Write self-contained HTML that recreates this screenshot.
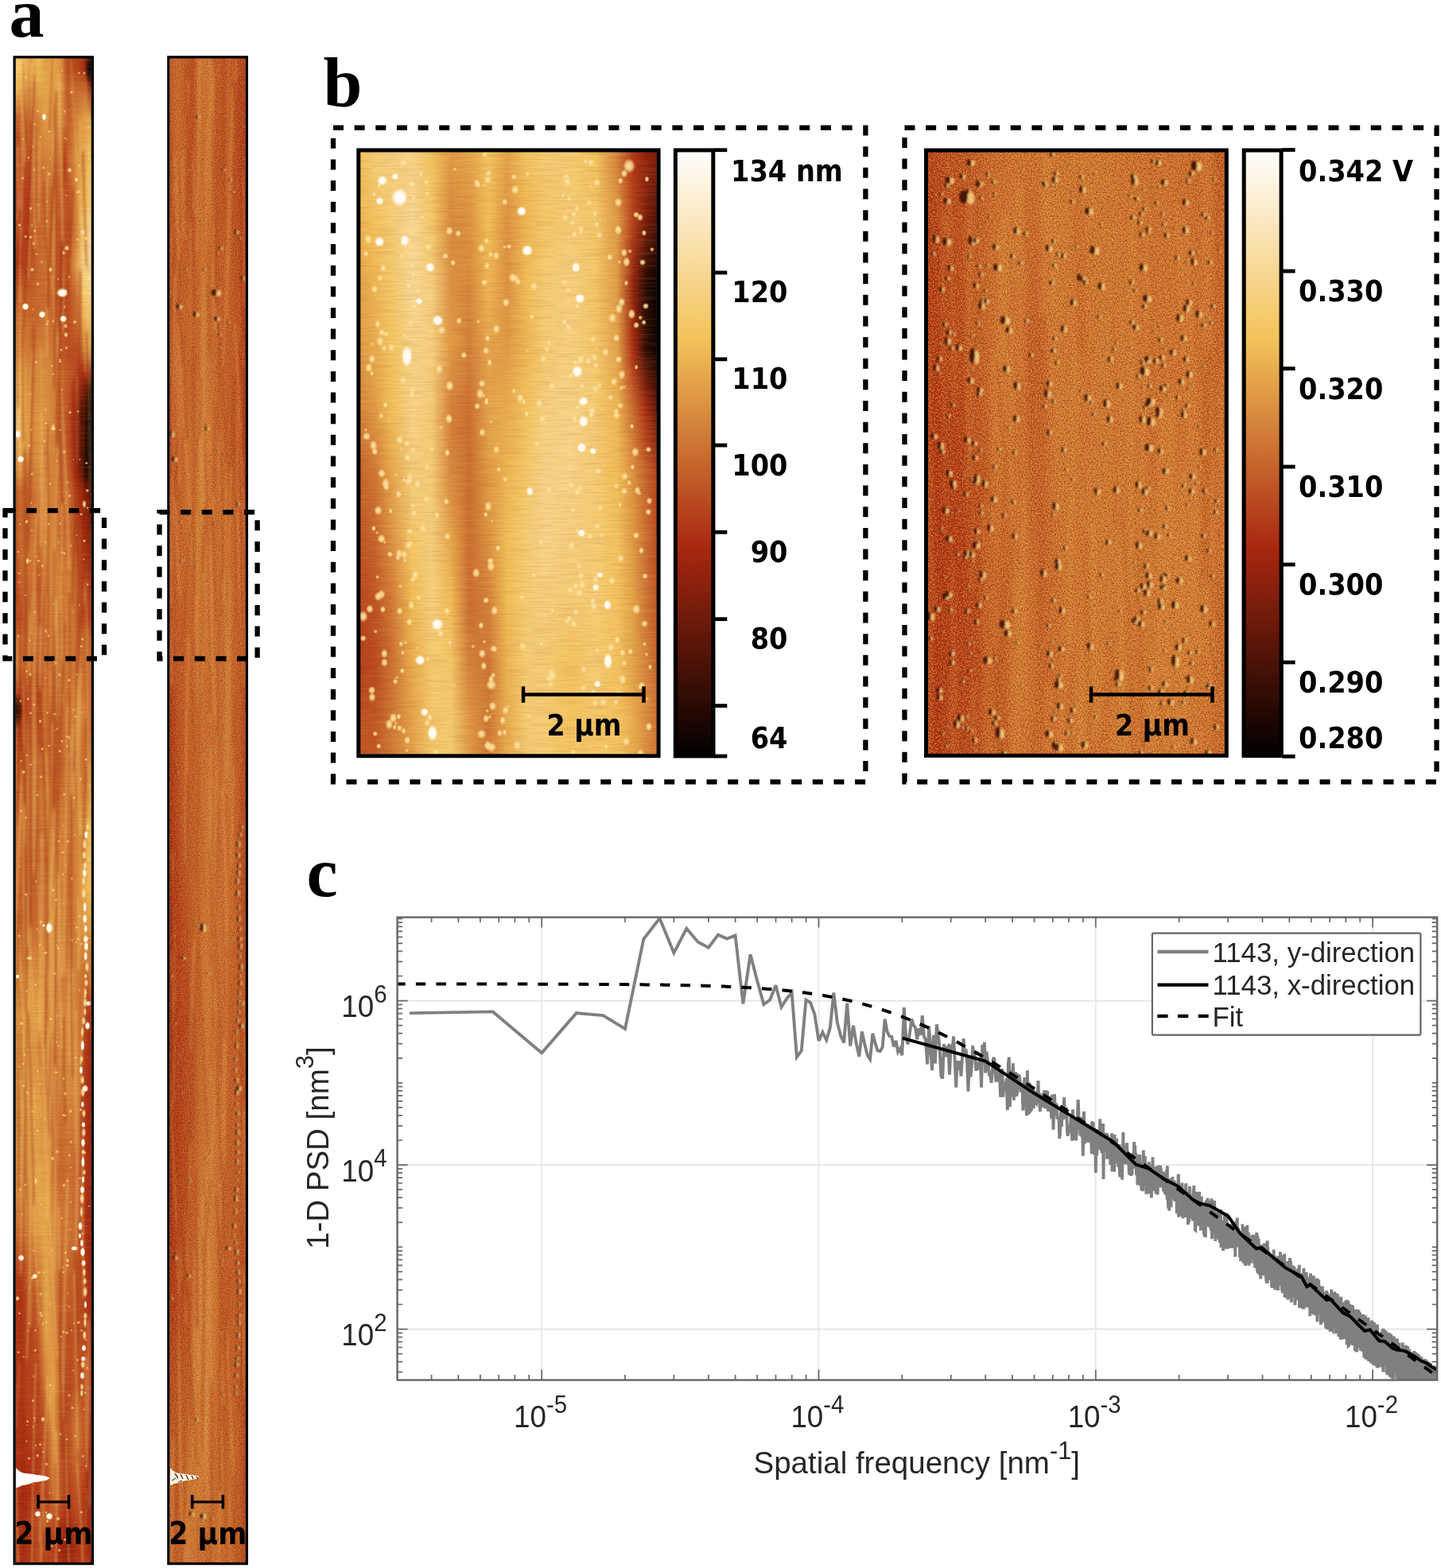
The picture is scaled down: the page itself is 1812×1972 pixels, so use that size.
<!DOCTYPE html>
<html><head><meta charset="utf-8"><title>Figure</title>
<style>
html,body{margin:0;padding:0;background:#fff;}
svg{display:block;}
.pl{font-family:"Liberation Serif",serif;font-weight:bold;font-size:88px;fill:#000;}
.bs{font-family:"DejaVu Sans",sans-serif;font-weight:bold;fill:#000;}
.bc{font-family:"DejaVu Sans Condensed","DejaVu Sans",sans-serif;font-weight:bold;fill:#000;}
.ax{font-family:"Liberation Sans",sans-serif;fill:#262626;}
</style></head><body>
<svg width="1812" height="1972" viewBox="0 0 1812 1972">
<defs>
<linearGradient id="vfg" x1="0" y1="0" x2="0" y2="1"><stop offset="0" stop-color="#fff" stop-opacity="0"/><stop offset="1" stop-color="#fff" stop-opacity="1"/></linearGradient>
<mask id="vf" maskContentUnits="objectBoundingBox" x="0" y="0" width="1" height="1"><rect width="1" height="1" fill="url(#vfg)"/></mask>
<linearGradient id="sa0" gradientUnits="userSpaceOnUse" x1="19.8" y1="0" x2="114.7" y2="0"><stop offset="0.000" stop-color="#f5ce7a"/><stop offset="0.100" stop-color="#f4c561"/><stop offset="0.200" stop-color="#e19e48"/><stop offset="0.300" stop-color="#f1be57"/><stop offset="0.400" stop-color="#e19e48"/><stop offset="0.500" stop-color="#e6a84d"/><stop offset="0.600" stop-color="#dc9343"/><stop offset="0.680" stop-color="#ba4d21"/><stop offset="0.750" stop-color="#ba4d21"/><stop offset="0.850" stop-color="#b23c1a"/><stop offset="0.930" stop-color="#92230e"/><stop offset="1.000" stop-color="#180602"/></linearGradient>
<linearGradient id="sa1" gradientUnits="userSpaceOnUse" x1="19.8" y1="0" x2="114.7" y2="0"><stop offset="0.000" stop-color="#f5ce7a"/><stop offset="0.100" stop-color="#f4c561"/><stop offset="0.200" stop-color="#e19e48"/><stop offset="0.300" stop-color="#f1be57"/><stop offset="0.400" stop-color="#e19e48"/><stop offset="0.500" stop-color="#e6a84d"/><stop offset="0.600" stop-color="#dc9343"/><stop offset="0.680" stop-color="#ba4d21"/><stop offset="0.750" stop-color="#ba4d21"/><stop offset="0.850" stop-color="#b23c1a"/><stop offset="0.930" stop-color="#92230e"/><stop offset="1.000" stop-color="#180602"/></linearGradient>
<linearGradient id="sa2" gradientUnits="userSpaceOnUse" x1="19.8" y1="0" x2="114.7" y2="0"><stop offset="0.000" stop-color="#f1be57"/><stop offset="0.100" stop-color="#e6a84d"/><stop offset="0.200" stop-color="#d4833b"/><stop offset="0.300" stop-color="#e6a84d"/><stop offset="0.400" stop-color="#e6a84d"/><stop offset="0.500" stop-color="#e19e48"/><stop offset="0.600" stop-color="#e19e48"/><stop offset="0.680" stop-color="#bf5726"/><stop offset="0.750" stop-color="#c7682e"/><stop offset="0.850" stop-color="#c7682e"/><stop offset="0.930" stop-color="#c7682e"/><stop offset="1.000" stop-color="#92230e"/></linearGradient>
<linearGradient id="sa3" gradientUnits="userSpaceOnUse" x1="19.8" y1="0" x2="114.7" y2="0"><stop offset="0.000" stop-color="#c25d29"/><stop offset="0.100" stop-color="#c7682e"/><stop offset="0.200" stop-color="#c7682e"/><stop offset="0.300" stop-color="#d4833b"/><stop offset="0.400" stop-color="#e19e48"/><stop offset="0.500" stop-color="#d98d40"/><stop offset="0.600" stop-color="#dc9343"/><stop offset="0.700" stop-color="#c25d29"/><stop offset="0.800" stop-color="#d4833b"/><stop offset="0.900" stop-color="#e19e48"/><stop offset="1.000" stop-color="#e6a84d"/></linearGradient>
<linearGradient id="sa4" gradientUnits="userSpaceOnUse" x1="19.8" y1="0" x2="114.7" y2="0"><stop offset="0.000" stop-color="#b23c1a"/><stop offset="0.100" stop-color="#ba4d21"/><stop offset="0.200" stop-color="#bc5224"/><stop offset="0.300" stop-color="#cc7233"/><stop offset="0.400" stop-color="#d4833b"/><stop offset="0.500" stop-color="#d4833b"/><stop offset="0.600" stop-color="#c7682e"/><stop offset="0.650" stop-color="#b23c1a"/><stop offset="0.700" stop-color="#c7682e"/><stop offset="0.800" stop-color="#dc9343"/><stop offset="0.900" stop-color="#e6a84d"/><stop offset="1.000" stop-color="#f4c561"/></linearGradient>
<linearGradient id="sa5" gradientUnits="userSpaceOnUse" x1="19.8" y1="0" x2="114.7" y2="0"><stop offset="0.000" stop-color="#ad3215"/><stop offset="0.100" stop-color="#b23c1a"/><stop offset="0.200" stop-color="#b23c1a"/><stop offset="0.300" stop-color="#c25d29"/><stop offset="0.400" stop-color="#c7682e"/><stop offset="0.500" stop-color="#c7682e"/><stop offset="0.600" stop-color="#c25d29"/><stop offset="0.700" stop-color="#ba4d21"/><stop offset="0.800" stop-color="#d4833b"/><stop offset="0.900" stop-color="#f1be57"/><stop offset="1.000" stop-color="#f5ce7a"/></linearGradient>
<linearGradient id="sa6" gradientUnits="userSpaceOnUse" x1="19.8" y1="0" x2="114.7" y2="0"><stop offset="0.000" stop-color="#ba4d21"/><stop offset="0.100" stop-color="#b23c1a"/><stop offset="0.200" stop-color="#b23c1a"/><stop offset="0.300" stop-color="#c7682e"/><stop offset="0.400" stop-color="#c7682e"/><stop offset="0.500" stop-color="#c7682e"/><stop offset="0.600" stop-color="#ba4d21"/><stop offset="0.700" stop-color="#ba4d21"/><stop offset="0.800" stop-color="#d4833b"/><stop offset="0.900" stop-color="#f5ce7a"/><stop offset="1.000" stop-color="#f8dca1"/></linearGradient>
<linearGradient id="sa7" gradientUnits="userSpaceOnUse" x1="19.8" y1="0" x2="114.7" y2="0"><stop offset="0.000" stop-color="#b23c1a"/><stop offset="0.100" stop-color="#b23c1a"/><stop offset="0.200" stop-color="#ba4d21"/><stop offset="0.300" stop-color="#c7682e"/><stop offset="0.400" stop-color="#cc7233"/><stop offset="0.500" stop-color="#c7682e"/><stop offset="0.600" stop-color="#ba4d21"/><stop offset="0.700" stop-color="#c25d29"/><stop offset="0.800" stop-color="#e19e48"/><stop offset="0.900" stop-color="#f7d58d"/><stop offset="1.000" stop-color="#f8dca1"/></linearGradient>
<linearGradient id="sa8" gradientUnits="userSpaceOnUse" x1="19.8" y1="0" x2="114.7" y2="0"><stop offset="0.000" stop-color="#c25d29"/><stop offset="0.100" stop-color="#c25d29"/><stop offset="0.200" stop-color="#c25d29"/><stop offset="0.300" stop-color="#c7682e"/><stop offset="0.400" stop-color="#c7682e"/><stop offset="0.500" stop-color="#c25d29"/><stop offset="0.600" stop-color="#ba4d21"/><stop offset="0.700" stop-color="#ba4d21"/><stop offset="0.800" stop-color="#cc7233"/><stop offset="0.900" stop-color="#f4ca6e"/><stop offset="1.000" stop-color="#f7d58d"/></linearGradient>
<linearGradient id="sa9" gradientUnits="userSpaceOnUse" x1="19.8" y1="0" x2="114.7" y2="0"><stop offset="0.000" stop-color="#dc9343"/><stop offset="0.100" stop-color="#cc7233"/><stop offset="0.200" stop-color="#c7682e"/><stop offset="0.300" stop-color="#c7682e"/><stop offset="0.400" stop-color="#cc7233"/><stop offset="0.500" stop-color="#c7682e"/><stop offset="0.600" stop-color="#ba4d21"/><stop offset="0.700" stop-color="#ba4d21"/><stop offset="0.800" stop-color="#c7682e"/><stop offset="0.900" stop-color="#e6a84d"/><stop offset="1.000" stop-color="#f4ca6e"/></linearGradient>
<linearGradient id="sa10" gradientUnits="userSpaceOnUse" x1="19.8" y1="0" x2="114.7" y2="0"><stop offset="0.000" stop-color="#e6a84d"/><stop offset="0.100" stop-color="#d4833b"/><stop offset="0.200" stop-color="#cc7233"/><stop offset="0.300" stop-color="#d4833b"/><stop offset="0.400" stop-color="#d4833b"/><stop offset="0.500" stop-color="#cc7233"/><stop offset="0.600" stop-color="#c25d29"/><stop offset="0.700" stop-color="#ba4d21"/><stop offset="0.800" stop-color="#ba4d21"/><stop offset="0.900" stop-color="#cc7233"/><stop offset="1.000" stop-color="#e19e48"/></linearGradient>
<linearGradient id="sa11" gradientUnits="userSpaceOnUse" x1="19.8" y1="0" x2="114.7" y2="0"><stop offset="0.000" stop-color="#f4c561"/><stop offset="0.100" stop-color="#e19e48"/><stop offset="0.200" stop-color="#d4833b"/><stop offset="0.300" stop-color="#d98d40"/><stop offset="0.400" stop-color="#d98d40"/><stop offset="0.500" stop-color="#d4833b"/><stop offset="0.600" stop-color="#c7682e"/><stop offset="0.700" stop-color="#bf5726"/><stop offset="0.800" stop-color="#b7471f"/><stop offset="0.900" stop-color="#a72810"/><stop offset="1.000" stop-color="#92230e"/></linearGradient>
<linearGradient id="sa12" gradientUnits="userSpaceOnUse" x1="19.8" y1="0" x2="114.7" y2="0"><stop offset="0.000" stop-color="#f5ce7a"/><stop offset="0.100" stop-color="#e6a84d"/><stop offset="0.200" stop-color="#d7883d"/><stop offset="0.300" stop-color="#d98d40"/><stop offset="0.400" stop-color="#d98d40"/><stop offset="0.500" stop-color="#d4833b"/><stop offset="0.600" stop-color="#c7682e"/><stop offset="0.700" stop-color="#bc5224"/><stop offset="0.800" stop-color="#ad3215"/><stop offset="0.880" stop-color="#7a1d0c"/><stop offset="0.940" stop-color="#310c05"/><stop offset="1.000" stop-color="#0f0301"/></linearGradient>
<linearGradient id="sa13" gradientUnits="userSpaceOnUse" x1="19.8" y1="0" x2="114.7" y2="0"><stop offset="0.000" stop-color="#f6d387"/><stop offset="0.100" stop-color="#e6a84d"/><stop offset="0.200" stop-color="#d98d40"/><stop offset="0.300" stop-color="#dc9343"/><stop offset="0.400" stop-color="#dc9343"/><stop offset="0.500" stop-color="#d4833b"/><stop offset="0.600" stop-color="#c7682e"/><stop offset="0.700" stop-color="#ba4d21"/><stop offset="0.800" stop-color="#9b250f"/><stop offset="0.880" stop-color="#3a0e06"/><stop offset="0.940" stop-color="#0f0301"/><stop offset="1.000" stop-color="#000000"/></linearGradient>
<linearGradient id="sa14" gradientUnits="userSpaceOnUse" x1="19.8" y1="0" x2="114.7" y2="0"><stop offset="0.000" stop-color="#f7d894"/><stop offset="0.100" stop-color="#e6a84d"/><stop offset="0.200" stop-color="#d98d40"/><stop offset="0.300" stop-color="#dc9343"/><stop offset="0.400" stop-color="#dc9343"/><stop offset="0.500" stop-color="#d4833b"/><stop offset="0.600" stop-color="#c7682e"/><stop offset="0.700" stop-color="#ba4d21"/><stop offset="0.800" stop-color="#9b250f"/><stop offset="0.880" stop-color="#491107"/><stop offset="0.940" stop-color="#130502"/><stop offset="1.000" stop-color="#000000"/></linearGradient>
<linearGradient id="sa15" gradientUnits="userSpaceOnUse" x1="19.8" y1="0" x2="114.7" y2="0"><stop offset="0.000" stop-color="#f5ce7a"/><stop offset="0.100" stop-color="#e19e48"/><stop offset="0.200" stop-color="#d4833b"/><stop offset="0.300" stop-color="#dc9343"/><stop offset="0.400" stop-color="#d4833b"/><stop offset="0.500" stop-color="#d4833b"/><stop offset="0.600" stop-color="#c7682e"/><stop offset="0.700" stop-color="#ba4d21"/><stop offset="0.800" stop-color="#95240e"/><stop offset="0.880" stop-color="#310c05"/><stop offset="0.940" stop-color="#0a0201"/><stop offset="1.000" stop-color="#000000"/></linearGradient>
<linearGradient id="sa16" gradientUnits="userSpaceOnUse" x1="19.8" y1="0" x2="114.7" y2="0"><stop offset="0.000" stop-color="#e6a84d"/><stop offset="0.100" stop-color="#d4833b"/><stop offset="0.200" stop-color="#cc7233"/><stop offset="0.300" stop-color="#d98d40"/><stop offset="0.400" stop-color="#d4833b"/><stop offset="0.500" stop-color="#d4833b"/><stop offset="0.600" stop-color="#cc7233"/><stop offset="0.700" stop-color="#c25d29"/><stop offset="0.800" stop-color="#a72810"/><stop offset="0.880" stop-color="#491107"/><stop offset="0.940" stop-color="#180602"/><stop offset="1.000" stop-color="#0a0201"/></linearGradient>
<linearGradient id="sa17" gradientUnits="userSpaceOnUse" x1="19.8" y1="0" x2="114.7" y2="0"><stop offset="0.000" stop-color="#c7682e"/><stop offset="0.100" stop-color="#c7682e"/><stop offset="0.200" stop-color="#c7682e"/><stop offset="0.300" stop-color="#d4833b"/><stop offset="0.400" stop-color="#d4833b"/><stop offset="0.500" stop-color="#d4833b"/><stop offset="0.600" stop-color="#cc7233"/><stop offset="0.700" stop-color="#c7682e"/><stop offset="0.800" stop-color="#b7471f"/><stop offset="0.900" stop-color="#92230e"/><stop offset="1.000" stop-color="#491107"/></linearGradient>
<linearGradient id="sa18" gradientUnits="userSpaceOnUse" x1="19.8" y1="0" x2="114.7" y2="0"><stop offset="0.000" stop-color="#c7682e"/><stop offset="0.100" stop-color="#c7682e"/><stop offset="0.200" stop-color="#cc7233"/><stop offset="0.300" stop-color="#cc7233"/><stop offset="0.400" stop-color="#d4833b"/><stop offset="0.500" stop-color="#d4833b"/><stop offset="0.600" stop-color="#c7682e"/><stop offset="0.700" stop-color="#c7682e"/><stop offset="0.800" stop-color="#ba4d21"/><stop offset="0.900" stop-color="#9b250f"/><stop offset="1.000" stop-color="#6b1a0a"/></linearGradient>
<linearGradient id="sa19" gradientUnits="userSpaceOnUse" x1="19.8" y1="0" x2="114.7" y2="0"><stop offset="0.000" stop-color="#c25d29"/><stop offset="0.100" stop-color="#cc7233"/><stop offset="0.200" stop-color="#cf7836"/><stop offset="0.300" stop-color="#c7682e"/><stop offset="0.400" stop-color="#d4833b"/><stop offset="0.500" stop-color="#d98d40"/><stop offset="0.600" stop-color="#cc7233"/><stop offset="0.700" stop-color="#cc7233"/><stop offset="0.800" stop-color="#c25d29"/><stop offset="0.900" stop-color="#b23c1a"/><stop offset="1.000" stop-color="#95240e"/></linearGradient>
<linearGradient id="sa20" gradientUnits="userSpaceOnUse" x1="19.8" y1="0" x2="114.7" y2="0"><stop offset="0.000" stop-color="#ba4d21"/><stop offset="0.100" stop-color="#c7682e"/><stop offset="0.200" stop-color="#c7682e"/><stop offset="0.300" stop-color="#bc5224"/><stop offset="0.400" stop-color="#cc7233"/><stop offset="0.500" stop-color="#dc9343"/><stop offset="0.600" stop-color="#cc7233"/><stop offset="0.700" stop-color="#d4833b"/><stop offset="0.800" stop-color="#c7682e"/><stop offset="0.900" stop-color="#ba4d21"/><stop offset="1.000" stop-color="#b23c1a"/></linearGradient>
<linearGradient id="sa21" gradientUnits="userSpaceOnUse" x1="19.8" y1="0" x2="114.7" y2="0"><stop offset="0.000" stop-color="#ba4d21"/><stop offset="0.100" stop-color="#c25d29"/><stop offset="0.200" stop-color="#c7682e"/><stop offset="0.300" stop-color="#bf5726"/><stop offset="0.400" stop-color="#c7682e"/><stop offset="0.500" stop-color="#d98d40"/><stop offset="0.600" stop-color="#cc7233"/><stop offset="0.700" stop-color="#d4833b"/><stop offset="0.800" stop-color="#c7682e"/><stop offset="0.900" stop-color="#ba4d21"/><stop offset="1.000" stop-color="#b23c1a"/></linearGradient>
<linearGradient id="sa22" gradientUnits="userSpaceOnUse" x1="19.8" y1="0" x2="114.7" y2="0"><stop offset="0.000" stop-color="#c7682e"/><stop offset="0.100" stop-color="#c7682e"/><stop offset="0.200" stop-color="#cc7233"/><stop offset="0.300" stop-color="#c7682e"/><stop offset="0.400" stop-color="#c7682e"/><stop offset="0.500" stop-color="#d98d40"/><stop offset="0.600" stop-color="#cc7233"/><stop offset="0.700" stop-color="#d4833b"/><stop offset="0.800" stop-color="#cc7233"/><stop offset="0.900" stop-color="#c7682e"/><stop offset="1.000" stop-color="#c25d29"/></linearGradient>
<linearGradient id="sa23" gradientUnits="userSpaceOnUse" x1="19.8" y1="0" x2="114.7" y2="0"><stop offset="0.000" stop-color="#c25d29"/><stop offset="0.100" stop-color="#c7682e"/><stop offset="0.150" stop-color="#d4833b"/><stop offset="0.200" stop-color="#c7682e"/><stop offset="0.300" stop-color="#c25d29"/><stop offset="0.400" stop-color="#c7682e"/><stop offset="0.500" stop-color="#d4833b"/><stop offset="0.600" stop-color="#c7682e"/><stop offset="0.700" stop-color="#d4833b"/><stop offset="0.800" stop-color="#cc7233"/><stop offset="0.900" stop-color="#c7682e"/><stop offset="1.000" stop-color="#c7682e"/></linearGradient>
<linearGradient id="sa24" gradientUnits="userSpaceOnUse" x1="19.8" y1="0" x2="114.7" y2="0"><stop offset="0.000" stop-color="#a72810"/><stop offset="0.100" stop-color="#ba4d21"/><stop offset="0.200" stop-color="#c25d29"/><stop offset="0.300" stop-color="#bc5224"/><stop offset="0.400" stop-color="#c7682e"/><stop offset="0.500" stop-color="#cc7233"/><stop offset="0.600" stop-color="#c7682e"/><stop offset="0.700" stop-color="#cf7836"/><stop offset="0.800" stop-color="#d4833b"/><stop offset="0.900" stop-color="#cc7233"/><stop offset="1.000" stop-color="#c7682e"/></linearGradient>
<linearGradient id="sa25" gradientUnits="userSpaceOnUse" x1="19.8" y1="0" x2="114.7" y2="0"><stop offset="0.000" stop-color="#6b1a0a"/><stop offset="0.050" stop-color="#92230e"/><stop offset="0.100" stop-color="#b23c1a"/><stop offset="0.200" stop-color="#bc5224"/><stop offset="0.300" stop-color="#bc5224"/><stop offset="0.400" stop-color="#c7682e"/><stop offset="0.500" stop-color="#cc7233"/><stop offset="0.600" stop-color="#c7682e"/><stop offset="0.700" stop-color="#cf7836"/><stop offset="0.800" stop-color="#dc9343"/><stop offset="0.900" stop-color="#d4833b"/><stop offset="1.000" stop-color="#c7682e"/></linearGradient>
<linearGradient id="sa26" gradientUnits="userSpaceOnUse" x1="19.8" y1="0" x2="114.7" y2="0"><stop offset="0.000" stop-color="#95240e"/><stop offset="0.100" stop-color="#ba4d21"/><stop offset="0.200" stop-color="#c25d29"/><stop offset="0.300" stop-color="#bf5726"/><stop offset="0.400" stop-color="#c7682e"/><stop offset="0.500" stop-color="#c7682e"/><stop offset="0.600" stop-color="#c7682e"/><stop offset="0.700" stop-color="#cc7233"/><stop offset="0.800" stop-color="#d98d40"/><stop offset="0.900" stop-color="#cc7233"/><stop offset="1.000" stop-color="#c7682e"/></linearGradient>
<linearGradient id="sa27" gradientUnits="userSpaceOnUse" x1="19.8" y1="0" x2="114.7" y2="0"><stop offset="0.000" stop-color="#ba4d21"/><stop offset="0.100" stop-color="#c25d29"/><stop offset="0.200" stop-color="#cc7233"/><stop offset="0.300" stop-color="#c7682e"/><stop offset="0.400" stop-color="#cc7233"/><stop offset="0.500" stop-color="#c7682e"/><stop offset="0.600" stop-color="#c7682e"/><stop offset="0.700" stop-color="#c7682e"/><stop offset="0.800" stop-color="#cf7836"/><stop offset="0.900" stop-color="#cc7233"/><stop offset="1.000" stop-color="#d4833b"/></linearGradient>
<linearGradient id="sa28" gradientUnits="userSpaceOnUse" x1="19.8" y1="0" x2="114.7" y2="0"><stop offset="0.000" stop-color="#bf5726"/><stop offset="0.100" stop-color="#c7682e"/><stop offset="0.200" stop-color="#cf7836"/><stop offset="0.300" stop-color="#cc7233"/><stop offset="0.400" stop-color="#d4833b"/><stop offset="0.500" stop-color="#c7682e"/><stop offset="0.600" stop-color="#cc7233"/><stop offset="0.700" stop-color="#c7682e"/><stop offset="0.800" stop-color="#cf7836"/><stop offset="0.900" stop-color="#d4833b"/><stop offset="1.000" stop-color="#e19e48"/></linearGradient>
<linearGradient id="sa29" gradientUnits="userSpaceOnUse" x1="19.8" y1="0" x2="114.7" y2="0"><stop offset="0.000" stop-color="#cc7233"/><stop offset="0.100" stop-color="#cc7233"/><stop offset="0.200" stop-color="#cc7233"/><stop offset="0.300" stop-color="#c7682e"/><stop offset="0.400" stop-color="#d4833b"/><stop offset="0.500" stop-color="#d4833b"/><stop offset="0.600" stop-color="#d4833b"/><stop offset="0.700" stop-color="#cc7233"/><stop offset="0.800" stop-color="#d4833b"/><stop offset="0.900" stop-color="#e19e48"/><stop offset="1.000" stop-color="#f4c561"/></linearGradient>
<linearGradient id="sa30" gradientUnits="userSpaceOnUse" x1="19.8" y1="0" x2="114.7" y2="0"><stop offset="0.000" stop-color="#c7682e"/><stop offset="0.100" stop-color="#c7682e"/><stop offset="0.200" stop-color="#c7682e"/><stop offset="0.300" stop-color="#bf5726"/><stop offset="0.400" stop-color="#cf7836"/><stop offset="0.500" stop-color="#d98d40"/><stop offset="0.600" stop-color="#d4833b"/><stop offset="0.700" stop-color="#c7682e"/><stop offset="0.800" stop-color="#d4833b"/><stop offset="0.900" stop-color="#e6a84d"/><stop offset="1.000" stop-color="#f4ca6e"/></linearGradient>
<linearGradient id="sa31" gradientUnits="userSpaceOnUse" x1="19.8" y1="0" x2="114.7" y2="0"><stop offset="0.000" stop-color="#c7682e"/><stop offset="0.100" stop-color="#c7682e"/><stop offset="0.200" stop-color="#c7682e"/><stop offset="0.300" stop-color="#c25d29"/><stop offset="0.400" stop-color="#d4833b"/><stop offset="0.500" stop-color="#e19e48"/><stop offset="0.600" stop-color="#d4833b"/><stop offset="0.700" stop-color="#c7682e"/><stop offset="0.800" stop-color="#d4833b"/><stop offset="0.900" stop-color="#e6a84d"/><stop offset="1.000" stop-color="#f4c561"/></linearGradient>
<linearGradient id="sa32" gradientUnits="userSpaceOnUse" x1="19.8" y1="0" x2="114.7" y2="0"><stop offset="0.000" stop-color="#c7682e"/><stop offset="0.100" stop-color="#c7682e"/><stop offset="0.200" stop-color="#c7682e"/><stop offset="0.300" stop-color="#c7682e"/><stop offset="0.400" stop-color="#d4833b"/><stop offset="0.500" stop-color="#dc9343"/><stop offset="0.600" stop-color="#d4833b"/><stop offset="0.700" stop-color="#c7682e"/><stop offset="0.800" stop-color="#d4833b"/><stop offset="0.900" stop-color="#e19e48"/><stop offset="1.000" stop-color="#e19e48"/></linearGradient>
<linearGradient id="sa33" gradientUnits="userSpaceOnUse" x1="19.8" y1="0" x2="114.7" y2="0"><stop offset="0.000" stop-color="#d4833b"/><stop offset="0.100" stop-color="#d4833b"/><stop offset="0.200" stop-color="#d4833b"/><stop offset="0.300" stop-color="#d4833b"/><stop offset="0.400" stop-color="#d98d40"/><stop offset="0.500" stop-color="#d98d40"/><stop offset="0.600" stop-color="#d4833b"/><stop offset="0.700" stop-color="#cc7233"/><stop offset="0.800" stop-color="#d4833b"/><stop offset="0.900" stop-color="#d4833b"/><stop offset="1.000" stop-color="#c7682e"/></linearGradient>
<linearGradient id="sa34" gradientUnits="userSpaceOnUse" x1="19.8" y1="0" x2="114.7" y2="0"><stop offset="0.000" stop-color="#e19e48"/><stop offset="0.100" stop-color="#e19e48"/><stop offset="0.200" stop-color="#e19e48"/><stop offset="0.300" stop-color="#d98d40"/><stop offset="0.400" stop-color="#d98d40"/><stop offset="0.500" stop-color="#d4833b"/><stop offset="0.600" stop-color="#cc7233"/><stop offset="0.700" stop-color="#d4833b"/><stop offset="0.800" stop-color="#d4833b"/><stop offset="0.900" stop-color="#c7682e"/><stop offset="1.000" stop-color="#ba4d21"/></linearGradient>
<linearGradient id="sa35" gradientUnits="userSpaceOnUse" x1="19.8" y1="0" x2="114.7" y2="0"><stop offset="0.000" stop-color="#eeb955"/><stop offset="0.100" stop-color="#e6a84d"/><stop offset="0.200" stop-color="#e19e48"/><stop offset="0.300" stop-color="#e19e48"/><stop offset="0.400" stop-color="#d98d40"/><stop offset="0.500" stop-color="#d98d40"/><stop offset="0.600" stop-color="#d4833b"/><stop offset="0.700" stop-color="#d98d40"/><stop offset="0.800" stop-color="#d4833b"/><stop offset="0.880" stop-color="#c7682e"/><stop offset="0.930" stop-color="#ba4d21"/><stop offset="1.000" stop-color="#a72810"/></linearGradient>
<linearGradient id="sa36" gradientUnits="userSpaceOnUse" x1="19.8" y1="0" x2="114.7" y2="0"><stop offset="0.000" stop-color="#e6a84d"/><stop offset="0.100" stop-color="#e6a84d"/><stop offset="0.200" stop-color="#e19e48"/><stop offset="0.300" stop-color="#d4833b"/><stop offset="0.400" stop-color="#d4833b"/><stop offset="0.500" stop-color="#cc7233"/><stop offset="0.600" stop-color="#d4833b"/><stop offset="0.700" stop-color="#d98d40"/><stop offset="0.800" stop-color="#d4833b"/><stop offset="0.880" stop-color="#c7682e"/><stop offset="0.930" stop-color="#b23c1a"/><stop offset="1.000" stop-color="#9b250f"/></linearGradient>
<linearGradient id="sa37" gradientUnits="userSpaceOnUse" x1="19.8" y1="0" x2="114.7" y2="0"><stop offset="0.000" stop-color="#e6a84d"/><stop offset="0.100" stop-color="#e6a84d"/><stop offset="0.200" stop-color="#e19e48"/><stop offset="0.300" stop-color="#dc9343"/><stop offset="0.400" stop-color="#d4833b"/><stop offset="0.500" stop-color="#c7682e"/><stop offset="0.600" stop-color="#d4833b"/><stop offset="0.700" stop-color="#d98d40"/><stop offset="0.800" stop-color="#d4833b"/><stop offset="0.880" stop-color="#c25d29"/><stop offset="0.930" stop-color="#ad3215"/><stop offset="1.000" stop-color="#9b250f"/></linearGradient>
<linearGradient id="sa38" gradientUnits="userSpaceOnUse" x1="19.8" y1="0" x2="114.7" y2="0"><stop offset="0.000" stop-color="#e19e48"/><stop offset="0.100" stop-color="#e19e48"/><stop offset="0.200" stop-color="#e19e48"/><stop offset="0.300" stop-color="#e19e48"/><stop offset="0.400" stop-color="#d4833b"/><stop offset="0.500" stop-color="#c7682e"/><stop offset="0.600" stop-color="#cc7233"/><stop offset="0.700" stop-color="#d4833b"/><stop offset="0.800" stop-color="#cf7836"/><stop offset="0.880" stop-color="#bc5224"/><stop offset="0.930" stop-color="#ad3215"/><stop offset="1.000" stop-color="#9b250f"/></linearGradient>
<linearGradient id="sa39" gradientUnits="userSpaceOnUse" x1="19.8" y1="0" x2="114.7" y2="0"><stop offset="0.000" stop-color="#dc9343"/><stop offset="0.100" stop-color="#dc9343"/><stop offset="0.200" stop-color="#e19e48"/><stop offset="0.300" stop-color="#e19e48"/><stop offset="0.400" stop-color="#d98d40"/><stop offset="0.500" stop-color="#c7682e"/><stop offset="0.600" stop-color="#c7682e"/><stop offset="0.700" stop-color="#cc7233"/><stop offset="0.800" stop-color="#c7682e"/><stop offset="0.880" stop-color="#ba4d21"/><stop offset="0.930" stop-color="#ad3215"/><stop offset="1.000" stop-color="#9b250f"/></linearGradient>
<linearGradient id="sa40" gradientUnits="userSpaceOnUse" x1="19.8" y1="0" x2="114.7" y2="0"><stop offset="0.000" stop-color="#d4833b"/><stop offset="0.100" stop-color="#d98d40"/><stop offset="0.200" stop-color="#e19e48"/><stop offset="0.300" stop-color="#e6a84d"/><stop offset="0.400" stop-color="#e19e48"/><stop offset="0.500" stop-color="#cc7233"/><stop offset="0.600" stop-color="#c7682e"/><stop offset="0.700" stop-color="#cc7233"/><stop offset="0.800" stop-color="#c7682e"/><stop offset="0.880" stop-color="#ba4d21"/><stop offset="0.930" stop-color="#ad3215"/><stop offset="1.000" stop-color="#a1260f"/></linearGradient>
<linearGradient id="sa41" gradientUnits="userSpaceOnUse" x1="19.8" y1="0" x2="114.7" y2="0"><stop offset="0.000" stop-color="#d4833b"/><stop offset="0.100" stop-color="#d4833b"/><stop offset="0.200" stop-color="#dc9343"/><stop offset="0.300" stop-color="#e6a84d"/><stop offset="0.400" stop-color="#e6a84d"/><stop offset="0.500" stop-color="#d4833b"/><stop offset="0.600" stop-color="#cc7233"/><stop offset="0.700" stop-color="#cc7233"/><stop offset="0.800" stop-color="#c7682e"/><stop offset="0.880" stop-color="#b7471f"/><stop offset="0.930" stop-color="#ad3215"/><stop offset="1.000" stop-color="#a1260f"/></linearGradient>
<linearGradient id="sa42" gradientUnits="userSpaceOnUse" x1="19.8" y1="0" x2="114.7" y2="0"><stop offset="0.000" stop-color="#c7682e"/><stop offset="0.100" stop-color="#cc7233"/><stop offset="0.200" stop-color="#d4833b"/><stop offset="0.300" stop-color="#e19e48"/><stop offset="0.400" stop-color="#e6a84d"/><stop offset="0.500" stop-color="#d98d40"/><stop offset="0.600" stop-color="#cc7233"/><stop offset="0.700" stop-color="#cf7836"/><stop offset="0.800" stop-color="#c7682e"/><stop offset="0.880" stop-color="#b7471f"/><stop offset="0.930" stop-color="#ad3215"/><stop offset="1.000" stop-color="#a1260f"/></linearGradient>
<linearGradient id="sa43" gradientUnits="userSpaceOnUse" x1="19.8" y1="0" x2="114.7" y2="0"><stop offset="0.000" stop-color="#b7471f"/><stop offset="0.100" stop-color="#bc5224"/><stop offset="0.200" stop-color="#c7682e"/><stop offset="0.300" stop-color="#d4833b"/><stop offset="0.400" stop-color="#e6a84d"/><stop offset="0.500" stop-color="#d98d40"/><stop offset="0.600" stop-color="#c7682e"/><stop offset="0.700" stop-color="#c7682e"/><stop offset="0.800" stop-color="#bf5726"/><stop offset="0.880" stop-color="#b5421c"/><stop offset="0.930" stop-color="#ad3215"/><stop offset="1.000" stop-color="#a1260f"/></linearGradient>
<linearGradient id="sa44" gradientUnits="userSpaceOnUse" x1="19.8" y1="0" x2="114.7" y2="0"><stop offset="0.000" stop-color="#ad3215"/><stop offset="0.100" stop-color="#b5421c"/><stop offset="0.200" stop-color="#ba4d21"/><stop offset="0.300" stop-color="#c7682e"/><stop offset="0.400" stop-color="#e6a84d"/><stop offset="0.500" stop-color="#d98d40"/><stop offset="0.600" stop-color="#c25d29"/><stop offset="0.700" stop-color="#c25d29"/><stop offset="0.800" stop-color="#bc5224"/><stop offset="0.880" stop-color="#b7471f"/><stop offset="0.930" stop-color="#b23c1a"/><stop offset="1.000" stop-color="#a72810"/></linearGradient>
<linearGradient id="sa45" gradientUnits="userSpaceOnUse" x1="19.8" y1="0" x2="114.7" y2="0"><stop offset="0.000" stop-color="#ad3215"/><stop offset="0.100" stop-color="#b23c1a"/><stop offset="0.200" stop-color="#b5421c"/><stop offset="0.300" stop-color="#c25d29"/><stop offset="0.400" stop-color="#e6a84d"/><stop offset="0.500" stop-color="#dc9343"/><stop offset="0.600" stop-color="#bf5726"/><stop offset="0.700" stop-color="#bc5224"/><stop offset="0.800" stop-color="#bc5224"/><stop offset="0.900" stop-color="#ba4d21"/><stop offset="1.000" stop-color="#ad3215"/></linearGradient>
<linearGradient id="sa46" gradientUnits="userSpaceOnUse" x1="19.8" y1="0" x2="114.7" y2="0"><stop offset="0.000" stop-color="#ad3215"/><stop offset="0.100" stop-color="#b23c1a"/><stop offset="0.200" stop-color="#b5421c"/><stop offset="0.300" stop-color="#ba4d21"/><stop offset="0.400" stop-color="#dc9343"/><stop offset="0.500" stop-color="#e19e48"/><stop offset="0.600" stop-color="#bf5726"/><stop offset="0.700" stop-color="#ba4d21"/><stop offset="0.800" stop-color="#bc5224"/><stop offset="0.900" stop-color="#b7471f"/><stop offset="1.000" stop-color="#ad3215"/></linearGradient>
<linearGradient id="sa47" gradientUnits="userSpaceOnUse" x1="19.8" y1="0" x2="114.7" y2="0"><stop offset="0.000" stop-color="#ad3215"/><stop offset="0.100" stop-color="#b23c1a"/><stop offset="0.200" stop-color="#b5421c"/><stop offset="0.300" stop-color="#b5421c"/><stop offset="0.400" stop-color="#d4833b"/><stop offset="0.500" stop-color="#e6a84d"/><stop offset="0.600" stop-color="#c25d29"/><stop offset="0.700" stop-color="#b7471f"/><stop offset="0.800" stop-color="#bc5224"/><stop offset="0.900" stop-color="#ba4d21"/><stop offset="1.000" stop-color="#ad3215"/></linearGradient>
<linearGradient id="sa48" gradientUnits="userSpaceOnUse" x1="19.8" y1="0" x2="114.7" y2="0"><stop offset="0.000" stop-color="#ad3215"/><stop offset="0.100" stop-color="#b23c1a"/><stop offset="0.200" stop-color="#b5421c"/><stop offset="0.300" stop-color="#b5421c"/><stop offset="0.400" stop-color="#c7682e"/><stop offset="0.450" stop-color="#e6a84d"/><stop offset="0.500" stop-color="#e19e48"/><stop offset="0.600" stop-color="#bf5726"/><stop offset="0.700" stop-color="#ba4d21"/><stop offset="0.800" stop-color="#c7682e"/><stop offset="0.900" stop-color="#bc5224"/><stop offset="1.000" stop-color="#ad3215"/></linearGradient>
<linearGradient id="sa49" gradientUnits="userSpaceOnUse" x1="19.8" y1="0" x2="114.7" y2="0"><stop offset="0.000" stop-color="#ad3215"/><stop offset="0.100" stop-color="#ad3215"/><stop offset="0.200" stop-color="#b23c1a"/><stop offset="0.300" stop-color="#b5421c"/><stop offset="0.400" stop-color="#bc5224"/><stop offset="0.500" stop-color="#e19e48"/><stop offset="0.600" stop-color="#bc5224"/><stop offset="0.700" stop-color="#ba4d21"/><stop offset="0.800" stop-color="#d17d38"/><stop offset="0.900" stop-color="#c25d29"/><stop offset="1.000" stop-color="#ad3215"/></linearGradient>
<linearGradient id="sa50" gradientUnits="userSpaceOnUse" x1="19.8" y1="0" x2="114.7" y2="0"><stop offset="0.000" stop-color="#ad3215"/><stop offset="0.100" stop-color="#ad3215"/><stop offset="0.200" stop-color="#ad3215"/><stop offset="0.300" stop-color="#b23c1a"/><stop offset="0.400" stop-color="#b7471f"/><stop offset="0.500" stop-color="#d98d40"/><stop offset="0.600" stop-color="#bc5224"/><stop offset="0.700" stop-color="#ba4d21"/><stop offset="0.800" stop-color="#cc7233"/><stop offset="0.900" stop-color="#bc5224"/><stop offset="1.000" stop-color="#a72810"/></linearGradient>
<linearGradient id="sa51" gradientUnits="userSpaceOnUse" x1="19.8" y1="0" x2="114.7" y2="0"><stop offset="0.000" stop-color="#ad3215"/><stop offset="0.100" stop-color="#a72810"/><stop offset="0.200" stop-color="#ad3215"/><stop offset="0.300" stop-color="#b23c1a"/><stop offset="0.400" stop-color="#b7471f"/><stop offset="0.500" stop-color="#cc7233"/><stop offset="0.600" stop-color="#bc5224"/><stop offset="0.700" stop-color="#b23c1a"/><stop offset="0.800" stop-color="#bc5224"/><stop offset="0.900" stop-color="#b23c1a"/><stop offset="1.000" stop-color="#9b250f"/></linearGradient>
<linearGradient id="sa52" gradientUnits="userSpaceOnUse" x1="19.8" y1="0" x2="114.7" y2="0"><stop offset="0.000" stop-color="#ad3215"/><stop offset="0.100" stop-color="#ad3215"/><stop offset="0.200" stop-color="#b23c1a"/><stop offset="0.300" stop-color="#bc5224"/><stop offset="0.400" stop-color="#c7682e"/><stop offset="0.500" stop-color="#bc5224"/><stop offset="0.600" stop-color="#b23c1a"/><stop offset="0.700" stop-color="#a72810"/><stop offset="0.800" stop-color="#b7471f"/><stop offset="0.900" stop-color="#b23c1a"/><stop offset="1.000" stop-color="#9b250f"/></linearGradient>
<linearGradient id="sa53" gradientUnits="userSpaceOnUse" x1="19.8" y1="0" x2="114.7" y2="0"><stop offset="0.000" stop-color="#ad3215"/><stop offset="0.100" stop-color="#a72810"/><stop offset="0.200" stop-color="#ad3215"/><stop offset="0.300" stop-color="#b7471f"/><stop offset="0.400" stop-color="#ba4d21"/><stop offset="0.500" stop-color="#b23c1a"/><stop offset="0.600" stop-color="#9b250f"/><stop offset="0.700" stop-color="#89210d"/><stop offset="0.800" stop-color="#ad3215"/><stop offset="0.900" stop-color="#b23c1a"/><stop offset="1.000" stop-color="#9b250f"/></linearGradient>
<linearGradient id="sa54" gradientUnits="userSpaceOnUse" x1="19.8" y1="0" x2="114.7" y2="0"><stop offset="0.000" stop-color="#b23c1a"/><stop offset="0.100" stop-color="#ad3215"/><stop offset="0.200" stop-color="#b23c1a"/><stop offset="0.300" stop-color="#bc5224"/><stop offset="0.400" stop-color="#ba4d21"/><stop offset="0.500" stop-color="#b5421c"/><stop offset="0.600" stop-color="#a72810"/><stop offset="0.700" stop-color="#9b250f"/><stop offset="0.800" stop-color="#ad3215"/><stop offset="0.900" stop-color="#b23c1a"/><stop offset="1.000" stop-color="#a72810"/></linearGradient>
<linearGradient id="sb0" gradientUnits="userSpaceOnUse" x1="213.6" y1="0" x2="308.7" y2="0"><stop offset="0.000" stop-color="#c15b28"/><stop offset="0.100" stop-color="#c86a2f"/><stop offset="0.200" stop-color="#c15b28"/><stop offset="0.300" stop-color="#b7461e"/><stop offset="0.400" stop-color="#d37f39"/><stop offset="0.500" stop-color="#cc7133"/><stop offset="0.600" stop-color="#c86a2f"/><stop offset="0.700" stop-color="#ba4d22"/><stop offset="0.800" stop-color="#c15b28"/><stop offset="0.900" stop-color="#b7461e"/><stop offset="1.000" stop-color="#b03717"/></linearGradient>
<linearGradient id="sb1" gradientUnits="userSpaceOnUse" x1="213.6" y1="0" x2="308.7" y2="0"><stop offset="0.000" stop-color="#ba4d22"/><stop offset="0.100" stop-color="#c86a2f"/><stop offset="0.200" stop-color="#c15b28"/><stop offset="0.300" stop-color="#b7461e"/><stop offset="0.400" stop-color="#cc7133"/><stop offset="0.500" stop-color="#c86a2f"/><stop offset="0.600" stop-color="#c15b28"/><stop offset="0.700" stop-color="#b7461e"/><stop offset="0.800" stop-color="#c15b28"/><stop offset="0.900" stop-color="#b7461e"/><stop offset="1.000" stop-color="#ac3014"/></linearGradient>
<linearGradient id="sb2" gradientUnits="userSpaceOnUse" x1="213.6" y1="0" x2="308.7" y2="0"><stop offset="0.000" stop-color="#b7461e"/><stop offset="0.100" stop-color="#c15b28"/><stop offset="0.200" stop-color="#c15b28"/><stop offset="0.300" stop-color="#c15b28"/><stop offset="0.400" stop-color="#c86a2f"/><stop offset="0.500" stop-color="#c86a2f"/><stop offset="0.600" stop-color="#c15b28"/><stop offset="0.700" stop-color="#c15b28"/><stop offset="0.800" stop-color="#c15b28"/><stop offset="0.900" stop-color="#ba4d22"/><stop offset="1.000" stop-color="#ac3014"/></linearGradient>
<linearGradient id="sb3" gradientUnits="userSpaceOnUse" x1="213.6" y1="0" x2="308.7" y2="0"><stop offset="0.000" stop-color="#b33f1b"/><stop offset="0.100" stop-color="#c15b28"/><stop offset="0.200" stop-color="#c86a2f"/><stop offset="0.300" stop-color="#c15b28"/><stop offset="0.400" stop-color="#c86a2f"/><stop offset="0.500" stop-color="#cc7133"/><stop offset="0.600" stop-color="#c86a2f"/><stop offset="0.700" stop-color="#c15b28"/><stop offset="0.800" stop-color="#c15b28"/><stop offset="0.900" stop-color="#ba4d22"/><stop offset="1.000" stop-color="#ac3014"/></linearGradient>
<linearGradient id="sb4" gradientUnits="userSpaceOnUse" x1="213.6" y1="0" x2="308.7" y2="0"><stop offset="0.000" stop-color="#b03717"/><stop offset="0.100" stop-color="#ba4d22"/><stop offset="0.200" stop-color="#c86a2f"/><stop offset="0.300" stop-color="#cc7133"/><stop offset="0.400" stop-color="#d37f39"/><stop offset="0.500" stop-color="#d37f39"/><stop offset="0.600" stop-color="#cc7133"/><stop offset="0.700" stop-color="#c86a2f"/><stop offset="0.800" stop-color="#c15b28"/><stop offset="0.900" stop-color="#b7461e"/><stop offset="1.000" stop-color="#a92910"/></linearGradient>
<linearGradient id="sb5" gradientUnits="userSpaceOnUse" x1="213.6" y1="0" x2="308.7" y2="0"><stop offset="0.000" stop-color="#b33f1b"/><stop offset="0.100" stop-color="#c15b28"/><stop offset="0.200" stop-color="#c86a2f"/><stop offset="0.300" stop-color="#cc7133"/><stop offset="0.400" stop-color="#d37f39"/><stop offset="0.500" stop-color="#cc7133"/><stop offset="0.600" stop-color="#c86a2f"/><stop offset="0.700" stop-color="#cc7133"/><stop offset="0.800" stop-color="#c86a2f"/><stop offset="0.900" stop-color="#c15b28"/><stop offset="1.000" stop-color="#b03717"/></linearGradient>
<linearGradient id="sb6" gradientUnits="userSpaceOnUse" x1="213.6" y1="0" x2="308.7" y2="0"><stop offset="0.000" stop-color="#b33f1b"/><stop offset="0.100" stop-color="#c15b28"/><stop offset="0.200" stop-color="#c15b28"/><stop offset="0.300" stop-color="#c86a2f"/><stop offset="0.400" stop-color="#cc7133"/><stop offset="0.500" stop-color="#c86a2f"/><stop offset="0.600" stop-color="#cc7133"/><stop offset="0.700" stop-color="#c86a2f"/><stop offset="0.800" stop-color="#c86a2f"/><stop offset="0.900" stop-color="#c15b28"/><stop offset="1.000" stop-color="#b33f1b"/></linearGradient>
<linearGradient id="sb7" gradientUnits="userSpaceOnUse" x1="213.6" y1="0" x2="308.7" y2="0"><stop offset="0.000" stop-color="#ac3014"/><stop offset="0.100" stop-color="#ba4d22"/><stop offset="0.200" stop-color="#c15b28"/><stop offset="0.300" stop-color="#c15b28"/><stop offset="0.400" stop-color="#cc7133"/><stop offset="0.500" stop-color="#c86a2f"/><stop offset="0.600" stop-color="#c86a2f"/><stop offset="0.700" stop-color="#c86a2f"/><stop offset="0.800" stop-color="#c86a2f"/><stop offset="0.900" stop-color="#c15b28"/><stop offset="1.000" stop-color="#b33f1b"/></linearGradient>
<linearGradient id="sb8" gradientUnits="userSpaceOnUse" x1="213.6" y1="0" x2="308.7" y2="0"><stop offset="0.000" stop-color="#a92910"/><stop offset="0.100" stop-color="#b7461e"/><stop offset="0.200" stop-color="#c15b28"/><stop offset="0.300" stop-color="#c15b28"/><stop offset="0.400" stop-color="#c86a2f"/><stop offset="0.500" stop-color="#cf7836"/><stop offset="0.600" stop-color="#cc7133"/><stop offset="0.700" stop-color="#c86a2f"/><stop offset="0.800" stop-color="#c86a2f"/><stop offset="0.900" stop-color="#c15b28"/><stop offset="1.000" stop-color="#b33f1b"/></linearGradient>
<linearGradient id="sb9" gradientUnits="userSpaceOnUse" x1="213.6" y1="0" x2="308.7" y2="0"><stop offset="0.000" stop-color="#a1260f"/><stop offset="0.100" stop-color="#b03717"/><stop offset="0.200" stop-color="#ba4d22"/><stop offset="0.300" stop-color="#c15b28"/><stop offset="0.400" stop-color="#c86a2f"/><stop offset="0.500" stop-color="#d37f39"/><stop offset="0.600" stop-color="#cf7836"/><stop offset="0.700" stop-color="#c86a2f"/><stop offset="0.800" stop-color="#c86a2f"/><stop offset="0.900" stop-color="#c15b28"/><stop offset="1.000" stop-color="#b7461e"/></linearGradient>
<linearGradient id="sb10" gradientUnits="userSpaceOnUse" x1="213.6" y1="0" x2="308.7" y2="0"><stop offset="0.000" stop-color="#a1260f"/><stop offset="0.100" stop-color="#b03717"/><stop offset="0.200" stop-color="#b7461e"/><stop offset="0.300" stop-color="#ba4d22"/><stop offset="0.400" stop-color="#c86a2f"/><stop offset="0.500" stop-color="#cf7836"/><stop offset="0.600" stop-color="#cf7836"/><stop offset="0.700" stop-color="#c86a2f"/><stop offset="0.800" stop-color="#c15b28"/><stop offset="0.900" stop-color="#c15b28"/><stop offset="1.000" stop-color="#b7461e"/></linearGradient>
<linearGradient id="sb11" gradientUnits="userSpaceOnUse" x1="213.6" y1="0" x2="308.7" y2="0"><stop offset="0.000" stop-color="#a1260f"/><stop offset="0.100" stop-color="#b03717"/><stop offset="0.200" stop-color="#b7461e"/><stop offset="0.300" stop-color="#ba4d22"/><stop offset="0.400" stop-color="#c86a2f"/><stop offset="0.500" stop-color="#cf7836"/><stop offset="0.600" stop-color="#cf7836"/><stop offset="0.700" stop-color="#c86a2f"/><stop offset="0.800" stop-color="#c15b28"/><stop offset="0.900" stop-color="#c15b28"/><stop offset="1.000" stop-color="#b7461e"/></linearGradient>
<linearGradient id="sb12" gradientUnits="userSpaceOnUse" x1="213.6" y1="0" x2="308.7" y2="0"><stop offset="0.000" stop-color="#a92910"/><stop offset="0.100" stop-color="#b33f1b"/><stop offset="0.200" stop-color="#b7461e"/><stop offset="0.300" stop-color="#c15b28"/><stop offset="0.400" stop-color="#cf7836"/><stop offset="0.500" stop-color="#d37f39"/><stop offset="0.600" stop-color="#cf7836"/><stop offset="0.700" stop-color="#c15b28"/><stop offset="0.800" stop-color="#c15b28"/><stop offset="0.900" stop-color="#c15b28"/><stop offset="1.000" stop-color="#b7461e"/></linearGradient>
<linearGradient id="sb13" gradientUnits="userSpaceOnUse" x1="213.6" y1="0" x2="308.7" y2="0"><stop offset="0.000" stop-color="#ac3014"/><stop offset="0.100" stop-color="#b33f1b"/><stop offset="0.200" stop-color="#b7461e"/><stop offset="0.300" stop-color="#c15b28"/><stop offset="0.400" stop-color="#d37f39"/><stop offset="0.500" stop-color="#d6873d"/><stop offset="0.600" stop-color="#cf7836"/><stop offset="0.700" stop-color="#c15b28"/><stop offset="0.800" stop-color="#c15b28"/><stop offset="0.900" stop-color="#c15b28"/><stop offset="1.000" stop-color="#b33f1b"/></linearGradient>
<linearGradient id="sb14" gradientUnits="userSpaceOnUse" x1="213.6" y1="0" x2="308.7" y2="0"><stop offset="0.000" stop-color="#b7461e"/><stop offset="0.100" stop-color="#c15b28"/><stop offset="0.200" stop-color="#c15b28"/><stop offset="0.300" stop-color="#c86a2f"/><stop offset="0.400" stop-color="#d37f39"/><stop offset="0.500" stop-color="#d6873d"/><stop offset="0.600" stop-color="#cc7133"/><stop offset="0.700" stop-color="#c15b28"/><stop offset="0.800" stop-color="#c15b28"/><stop offset="0.900" stop-color="#c15b28"/><stop offset="1.000" stop-color="#b33f1b"/></linearGradient>
<linearGradient id="sb15" gradientUnits="userSpaceOnUse" x1="213.6" y1="0" x2="308.7" y2="0"><stop offset="0.000" stop-color="#c15b28"/><stop offset="0.100" stop-color="#c15b28"/><stop offset="0.200" stop-color="#c86a2f"/><stop offset="0.300" stop-color="#cf7836"/><stop offset="0.400" stop-color="#d37f39"/><stop offset="0.500" stop-color="#cc7133"/><stop offset="0.600" stop-color="#c86a2f"/><stop offset="0.700" stop-color="#c86a2f"/><stop offset="0.800" stop-color="#c86a2f"/><stop offset="0.900" stop-color="#c15b28"/><stop offset="1.000" stop-color="#b33f1b"/></linearGradient>
<linearGradient id="sb16" gradientUnits="userSpaceOnUse" x1="213.6" y1="0" x2="308.7" y2="0"><stop offset="0.000" stop-color="#c15b28"/><stop offset="0.100" stop-color="#c15b28"/><stop offset="0.200" stop-color="#c86a2f"/><stop offset="0.300" stop-color="#cf7836"/><stop offset="0.400" stop-color="#cf7836"/><stop offset="0.500" stop-color="#c86a2f"/><stop offset="0.600" stop-color="#c86a2f"/><stop offset="0.700" stop-color="#c86a2f"/><stop offset="0.800" stop-color="#c86a2f"/><stop offset="0.900" stop-color="#c15b28"/><stop offset="1.000" stop-color="#b33f1b"/></linearGradient>
<linearGradient id="ba0" gradientUnits="userSpaceOnUse" x1="453.0" y1="0" x2="825.8" y2="0"><stop offset="0.000" stop-color="#f3c560"/><stop offset="0.050" stop-color="#f5cc75"/><stop offset="0.103" stop-color="#f6d080"/><stop offset="0.177" stop-color="#f7d48a"/><stop offset="0.241" stop-color="#f3c560"/><stop offset="0.305" stop-color="#e09b46"/><stop offset="0.368" stop-color="#e4a44b"/><stop offset="0.432" stop-color="#f3c560"/><stop offset="0.496" stop-color="#e4a44b"/><stop offset="0.559" stop-color="#f3c560"/><stop offset="0.623" stop-color="#f5cc75"/><stop offset="0.708" stop-color="#f5cc75"/><stop offset="0.793" stop-color="#f3c560"/><stop offset="0.867" stop-color="#d5843c"/><stop offset="0.920" stop-color="#b03818"/><stop offset="0.963" stop-color="#92230e"/><stop offset="1.000" stop-color="#7a1d0c"/></linearGradient>
<linearGradient id="ba1" gradientUnits="userSpaceOnUse" x1="453.0" y1="0" x2="825.8" y2="0"><stop offset="0.000" stop-color="#f3c560"/><stop offset="0.050" stop-color="#f5cc75"/><stop offset="0.103" stop-color="#f6d080"/><stop offset="0.177" stop-color="#f7d48a"/><stop offset="0.241" stop-color="#f3c560"/><stop offset="0.305" stop-color="#e09b46"/><stop offset="0.368" stop-color="#e4a44b"/><stop offset="0.432" stop-color="#f3c560"/><stop offset="0.496" stop-color="#e4a44b"/><stop offset="0.559" stop-color="#f3c560"/><stop offset="0.623" stop-color="#f5cc75"/><stop offset="0.708" stop-color="#f5cc75"/><stop offset="0.793" stop-color="#f3c560"/><stop offset="0.867" stop-color="#d5843c"/><stop offset="0.920" stop-color="#b03818"/><stop offset="0.963" stop-color="#92230e"/><stop offset="1.000" stop-color="#7a1d0c"/></linearGradient>
<linearGradient id="ba2" gradientUnits="userSpaceOnUse" x1="453.0" y1="0" x2="825.8" y2="0"><stop offset="0.000" stop-color="#edb653"/><stop offset="0.050" stop-color="#f3c560"/><stop offset="0.103" stop-color="#f5cc75"/><stop offset="0.177" stop-color="#f7d895"/><stop offset="0.241" stop-color="#f4c86a"/><stop offset="0.305" stop-color="#d7893e"/><stop offset="0.368" stop-color="#dc9242"/><stop offset="0.432" stop-color="#f1bf57"/><stop offset="0.496" stop-color="#dc9242"/><stop offset="0.559" stop-color="#edb653"/><stop offset="0.623" stop-color="#f4c86a"/><stop offset="0.708" stop-color="#f5cc75"/><stop offset="0.793" stop-color="#f4c86a"/><stop offset="0.867" stop-color="#e09b46"/><stop offset="0.920" stop-color="#b4411c"/><stop offset="0.963" stop-color="#7a1d0c"/><stop offset="1.000" stop-color="#491107"/></linearGradient>
<linearGradient id="ba3" gradientUnits="userSpaceOnUse" x1="453.0" y1="0" x2="825.8" y2="0"><stop offset="0.000" stop-color="#e4a44b"/><stop offset="0.050" stop-color="#edb653"/><stop offset="0.103" stop-color="#f4c86a"/><stop offset="0.177" stop-color="#f7d895"/><stop offset="0.241" stop-color="#f6d080"/><stop offset="0.305" stop-color="#dc9242"/><stop offset="0.368" stop-color="#d7893e"/><stop offset="0.432" stop-color="#edb653"/><stop offset="0.496" stop-color="#dc9242"/><stop offset="0.559" stop-color="#f1bf57"/><stop offset="0.623" stop-color="#f5cc75"/><stop offset="0.708" stop-color="#f6d080"/><stop offset="0.793" stop-color="#f4c86a"/><stop offset="0.867" stop-color="#e09b46"/><stop offset="0.920" stop-color="#92230e"/><stop offset="0.963" stop-color="#270904"/><stop offset="1.000" stop-color="#000000"/></linearGradient>
<linearGradient id="ba4" gradientUnits="userSpaceOnUse" x1="453.0" y1="0" x2="825.8" y2="0"><stop offset="0.000" stop-color="#e09b46"/><stop offset="0.050" stop-color="#e9ad4f"/><stop offset="0.103" stop-color="#f3c560"/><stop offset="0.177" stop-color="#f7d48a"/><stop offset="0.241" stop-color="#f6d080"/><stop offset="0.305" stop-color="#e09b46"/><stop offset="0.368" stop-color="#d3803a"/><stop offset="0.432" stop-color="#e4a44b"/><stop offset="0.496" stop-color="#e09b46"/><stop offset="0.559" stop-color="#edb653"/><stop offset="0.623" stop-color="#f5cc75"/><stop offset="0.708" stop-color="#f6d080"/><stop offset="0.793" stop-color="#f4c86a"/><stop offset="0.867" stop-color="#e4a44b"/><stop offset="0.920" stop-color="#a92a11"/><stop offset="0.963" stop-color="#310c05"/><stop offset="1.000" stop-color="#000000"/></linearGradient>
<linearGradient id="ba5" gradientUnits="userSpaceOnUse" x1="453.0" y1="0" x2="825.8" y2="0"><stop offset="0.000" stop-color="#d5843c"/><stop offset="0.050" stop-color="#e09b46"/><stop offset="0.103" stop-color="#f1bf57"/><stop offset="0.177" stop-color="#f7d48a"/><stop offset="0.241" stop-color="#f5cc75"/><stop offset="0.305" stop-color="#d3803a"/><stop offset="0.368" stop-color="#ca6e31"/><stop offset="0.432" stop-color="#e4a44b"/><stop offset="0.496" stop-color="#e9ad4f"/><stop offset="0.559" stop-color="#f3c560"/><stop offset="0.623" stop-color="#f6d080"/><stop offset="0.708" stop-color="#f7d48a"/><stop offset="0.793" stop-color="#f5cc75"/><stop offset="0.867" stop-color="#edb653"/><stop offset="0.920" stop-color="#ca6e31"/><stop offset="0.963" stop-color="#a92a11"/><stop offset="1.000" stop-color="#611709"/></linearGradient>
<linearGradient id="ba6" gradientUnits="userSpaceOnUse" x1="453.0" y1="0" x2="825.8" y2="0"><stop offset="0.000" stop-color="#c6652d"/><stop offset="0.050" stop-color="#ce7735"/><stop offset="0.103" stop-color="#e4a44b"/><stop offset="0.177" stop-color="#f6d080"/><stop offset="0.241" stop-color="#f5cc75"/><stop offset="0.305" stop-color="#d7893e"/><stop offset="0.368" stop-color="#ca6e31"/><stop offset="0.432" stop-color="#e09b46"/><stop offset="0.496" stop-color="#edb653"/><stop offset="0.559" stop-color="#f4c86a"/><stop offset="0.623" stop-color="#f7d48a"/><stop offset="0.708" stop-color="#f7d48a"/><stop offset="0.793" stop-color="#f5cc75"/><stop offset="0.867" stop-color="#f1bf57"/><stop offset="0.920" stop-color="#dc9242"/><stop offset="0.963" stop-color="#c6652d"/><stop offset="1.000" stop-color="#b4411c"/></linearGradient>
<linearGradient id="ba7" gradientUnits="userSpaceOnUse" x1="453.0" y1="0" x2="825.8" y2="0"><stop offset="0.000" stop-color="#bf5726"/><stop offset="0.050" stop-color="#c6652d"/><stop offset="0.103" stop-color="#dc9242"/><stop offset="0.177" stop-color="#f4c86a"/><stop offset="0.241" stop-color="#f6d080"/><stop offset="0.305" stop-color="#e4a44b"/><stop offset="0.368" stop-color="#ca6e31"/><stop offset="0.432" stop-color="#dc9242"/><stop offset="0.496" stop-color="#f1bf57"/><stop offset="0.559" stop-color="#f5cc75"/><stop offset="0.623" stop-color="#f7d48a"/><stop offset="0.708" stop-color="#f6d080"/><stop offset="0.793" stop-color="#f5cc75"/><stop offset="0.867" stop-color="#f3c560"/><stop offset="0.920" stop-color="#e09b46"/><stop offset="0.963" stop-color="#ca6e31"/><stop offset="1.000" stop-color="#b94a20"/></linearGradient>
<linearGradient id="ba8" gradientUnits="userSpaceOnUse" x1="453.0" y1="0" x2="825.8" y2="0"><stop offset="0.000" stop-color="#b94a20"/><stop offset="0.050" stop-color="#bd5324"/><stop offset="0.103" stop-color="#ce7735"/><stop offset="0.177" stop-color="#f1bf57"/><stop offset="0.241" stop-color="#f6d080"/><stop offset="0.305" stop-color="#f1bf57"/><stop offset="0.368" stop-color="#ca6e31"/><stop offset="0.432" stop-color="#d3803a"/><stop offset="0.496" stop-color="#f1bf57"/><stop offset="0.559" stop-color="#f5cc75"/><stop offset="0.623" stop-color="#f6d080"/><stop offset="0.708" stop-color="#f5cc75"/><stop offset="0.793" stop-color="#f5cc75"/><stop offset="0.867" stop-color="#f3c560"/><stop offset="0.920" stop-color="#e4a44b"/><stop offset="0.963" stop-color="#ce7735"/><stop offset="1.000" stop-color="#bf5726"/></linearGradient>
<linearGradient id="ba9" gradientUnits="userSpaceOnUse" x1="453.0" y1="0" x2="825.8" y2="0"><stop offset="0.000" stop-color="#b4411c"/><stop offset="0.050" stop-color="#b94a20"/><stop offset="0.103" stop-color="#ca6e31"/><stop offset="0.177" stop-color="#e9ad4f"/><stop offset="0.241" stop-color="#f5cc75"/><stop offset="0.305" stop-color="#f4c86a"/><stop offset="0.368" stop-color="#d3803a"/><stop offset="0.432" stop-color="#ce7735"/><stop offset="0.496" stop-color="#edb653"/><stop offset="0.559" stop-color="#f5cc75"/><stop offset="0.623" stop-color="#f5cc75"/><stop offset="0.708" stop-color="#f3c560"/><stop offset="0.793" stop-color="#f5cc75"/><stop offset="0.867" stop-color="#f3c560"/><stop offset="0.920" stop-color="#e4a44b"/><stop offset="0.963" stop-color="#d5843c"/><stop offset="1.000" stop-color="#c6652d"/></linearGradient>
<linearGradient id="ba10" gradientUnits="userSpaceOnUse" x1="453.0" y1="0" x2="825.8" y2="0"><stop offset="0.000" stop-color="#bd5324"/><stop offset="0.050" stop-color="#bf5726"/><stop offset="0.103" stop-color="#ce7735"/><stop offset="0.177" stop-color="#e4a44b"/><stop offset="0.241" stop-color="#f4c86a"/><stop offset="0.305" stop-color="#f5cc75"/><stop offset="0.368" stop-color="#e09b46"/><stop offset="0.432" stop-color="#ce7735"/><stop offset="0.496" stop-color="#e9ad4f"/><stop offset="0.559" stop-color="#f5cc75"/><stop offset="0.623" stop-color="#f5cc75"/><stop offset="0.708" stop-color="#f3c560"/><stop offset="0.793" stop-color="#f4c86a"/><stop offset="0.867" stop-color="#f3c560"/><stop offset="0.920" stop-color="#e9ad4f"/><stop offset="0.963" stop-color="#dc9242"/><stop offset="1.000" stop-color="#ce7735"/></linearGradient>
<linearGradient id="ba11" gradientUnits="userSpaceOnUse" x1="453.0" y1="0" x2="825.8" y2="0"><stop offset="0.000" stop-color="#bd5324"/><stop offset="0.050" stop-color="#bf5726"/><stop offset="0.103" stop-color="#ce7735"/><stop offset="0.177" stop-color="#e4a44b"/><stop offset="0.241" stop-color="#f4c86a"/><stop offset="0.305" stop-color="#f5cc75"/><stop offset="0.368" stop-color="#e09b46"/><stop offset="0.432" stop-color="#ce7735"/><stop offset="0.496" stop-color="#e9ad4f"/><stop offset="0.559" stop-color="#f5cc75"/><stop offset="0.623" stop-color="#f5cc75"/><stop offset="0.708" stop-color="#f3c560"/><stop offset="0.793" stop-color="#f4c86a"/><stop offset="0.867" stop-color="#f3c560"/><stop offset="0.920" stop-color="#e9ad4f"/><stop offset="0.963" stop-color="#dc9242"/><stop offset="1.000" stop-color="#ce7735"/></linearGradient>
<linearGradient id="bb0" gradientUnits="userSpaceOnUse" x1="1166.8" y1="0" x2="1540.0" y2="0"><stop offset="0.000" stop-color="#b03818"/><stop offset="0.056" stop-color="#b6451e"/><stop offset="0.145" stop-color="#bd5324"/><stop offset="0.204" stop-color="#c6652d"/><stop offset="0.293" stop-color="#cc7233"/><stop offset="0.352" stop-color="#cc7233"/><stop offset="0.411" stop-color="#ce7735"/><stop offset="0.500" stop-color="#ce7735"/><stop offset="0.559" stop-color="#d17b38"/><stop offset="0.678" stop-color="#cc7233"/><stop offset="0.796" stop-color="#cc7233"/><stop offset="0.914" stop-color="#c8692f"/><stop offset="1.000" stop-color="#c15c29"/></linearGradient>
<linearGradient id="bb1" gradientUnits="userSpaceOnUse" x1="1166.8" y1="0" x2="1540.0" y2="0"><stop offset="0.000" stop-color="#b03818"/><stop offset="0.056" stop-color="#b6451e"/><stop offset="0.145" stop-color="#bd5324"/><stop offset="0.204" stop-color="#c6652d"/><stop offset="0.293" stop-color="#cc7233"/><stop offset="0.352" stop-color="#cc7233"/><stop offset="0.411" stop-color="#ce7735"/><stop offset="0.500" stop-color="#ce7735"/><stop offset="0.559" stop-color="#d17b38"/><stop offset="0.678" stop-color="#cc7233"/><stop offset="0.796" stop-color="#cc7233"/><stop offset="0.914" stop-color="#c8692f"/><stop offset="1.000" stop-color="#c15c29"/></linearGradient>
<linearGradient id="bb2" gradientUnits="userSpaceOnUse" x1="1166.8" y1="0" x2="1540.0" y2="0"><stop offset="0.000" stop-color="#ab2f13"/><stop offset="0.056" stop-color="#b23c1a"/><stop offset="0.115" stop-color="#b94a20"/><stop offset="0.175" stop-color="#c15c29"/><stop offset="0.234" stop-color="#cc7233"/><stop offset="0.293" stop-color="#ce7735"/><stop offset="0.334" stop-color="#c6652d"/><stop offset="0.382" stop-color="#c6652d"/><stop offset="0.417" stop-color="#d3803a"/><stop offset="0.500" stop-color="#ce7735"/><stop offset="0.618" stop-color="#ce7735"/><stop offset="0.737" stop-color="#cc7233"/><stop offset="0.855" stop-color="#cc7233"/><stop offset="1.000" stop-color="#c6652d"/></linearGradient>
<linearGradient id="bb3" gradientUnits="userSpaceOnUse" x1="1166.8" y1="0" x2="1540.0" y2="0"><stop offset="0.000" stop-color="#ab2f13"/><stop offset="0.056" stop-color="#b03818"/><stop offset="0.115" stop-color="#b6451e"/><stop offset="0.175" stop-color="#c15c29"/><stop offset="0.234" stop-color="#cc7233"/><stop offset="0.293" stop-color="#cc7233"/><stop offset="0.334" stop-color="#c15c29"/><stop offset="0.382" stop-color="#c15c29"/><stop offset="0.417" stop-color="#d17b38"/><stop offset="0.500" stop-color="#cc7233"/><stop offset="0.618" stop-color="#d17b38"/><stop offset="0.737" stop-color="#cc7233"/><stop offset="0.855" stop-color="#cc7233"/><stop offset="1.000" stop-color="#c6652d"/></linearGradient>
<linearGradient id="bb4" gradientUnits="userSpaceOnUse" x1="1166.8" y1="0" x2="1540.0" y2="0"><stop offset="0.000" stop-color="#a62710"/><stop offset="0.056" stop-color="#ab2f13"/><stop offset="0.115" stop-color="#b03818"/><stop offset="0.175" stop-color="#bb4e22"/><stop offset="0.234" stop-color="#ca6e31"/><stop offset="0.293" stop-color="#cc7233"/><stop offset="0.346" stop-color="#c15c29"/><stop offset="0.393" stop-color="#c6652d"/><stop offset="0.441" stop-color="#d17b38"/><stop offset="0.500" stop-color="#cc7233"/><stop offset="0.618" stop-color="#d17b38"/><stop offset="0.737" stop-color="#cc7233"/><stop offset="0.855" stop-color="#cc7233"/><stop offset="1.000" stop-color="#c6652d"/></linearGradient>
<linearGradient id="bb5" gradientUnits="userSpaceOnUse" x1="1166.8" y1="0" x2="1540.0" y2="0"><stop offset="0.000" stop-color="#a1260f"/><stop offset="0.050" stop-color="#a92a11"/><stop offset="0.120" stop-color="#ae3315"/><stop offset="0.200" stop-color="#b94a20"/><stop offset="0.270" stop-color="#c8692f"/><stop offset="0.330" stop-color="#ce7735"/><stop offset="0.380" stop-color="#c3602b"/><stop offset="0.450" stop-color="#cc7233"/><stop offset="0.550" stop-color="#d17b38"/><stop offset="0.650" stop-color="#ce7735"/><stop offset="0.800" stop-color="#ce7735"/><stop offset="0.900" stop-color="#ce7735"/><stop offset="1.000" stop-color="#c8692f"/></linearGradient>
<linearGradient id="bb6" gradientUnits="userSpaceOnUse" x1="1166.8" y1="0" x2="1540.0" y2="0"><stop offset="0.000" stop-color="#a1260f"/><stop offset="0.050" stop-color="#a92a11"/><stop offset="0.120" stop-color="#b03818"/><stop offset="0.200" stop-color="#b94a20"/><stop offset="0.270" stop-color="#c6652d"/><stop offset="0.330" stop-color="#ce7735"/><stop offset="0.380" stop-color="#c3602b"/><stop offset="0.450" stop-color="#cc7233"/><stop offset="0.550" stop-color="#d17b38"/><stop offset="0.650" stop-color="#ce7735"/><stop offset="0.800" stop-color="#ce7735"/><stop offset="0.900" stop-color="#ce7735"/><stop offset="1.000" stop-color="#ca6e31"/></linearGradient>
<linearGradient id="bb7" gradientUnits="userSpaceOnUse" x1="1166.8" y1="0" x2="1540.0" y2="0"><stop offset="0.000" stop-color="#a62710"/><stop offset="0.050" stop-color="#ab2f13"/><stop offset="0.120" stop-color="#b23c1a"/><stop offset="0.200" stop-color="#bb4e22"/><stop offset="0.270" stop-color="#c6652d"/><stop offset="0.330" stop-color="#ce7735"/><stop offset="0.380" stop-color="#c6652d"/><stop offset="0.450" stop-color="#cc7233"/><stop offset="0.550" stop-color="#d17b38"/><stop offset="0.650" stop-color="#ce7735"/><stop offset="0.800" stop-color="#ce7735"/><stop offset="0.900" stop-color="#ce7735"/><stop offset="1.000" stop-color="#ca6e31"/></linearGradient>
<linearGradient id="cb" x1="0" y1="0" x2="0" y2="1"><stop offset="0" stop-color="#fff"/><stop offset="0.3129" stop-color="#f3c259"/><stop offset="0.6553" stop-color="#a82810"/><stop offset="1" stop-color="#000"/></linearGradient>
<filter id="db" x="-0.02" y="-0.02" width="1.04" height="1.04"><feGaussianBlur stdDeviation="0.9"/></filter>
<radialGradient id="dw"><stop offset="0" stop-color="#fff" stop-opacity="1"/><stop offset="0.55" stop-color="#fffaf0" stop-opacity="1"/><stop offset="0.8" stop-color="#fde8b8" stop-opacity="0.6"/><stop offset="1" stop-color="#fbd58c" stop-opacity="0"/></radialGradient>
<radialGradient id="dy"><stop offset="0" stop-color="#fdeab8" stop-opacity="0.95"/><stop offset="0.55" stop-color="#fad88e" stop-opacity="0.8"/><stop offset="1" stop-color="#f6c868" stop-opacity="0"/></radialGradient>
<radialGradient id="dk"><stop offset="0" stop-color="#000" stop-opacity="0.9"/><stop offset="0.6" stop-color="#2a0a02" stop-opacity="0.6"/><stop offset="1" stop-color="#5a1a08" stop-opacity="0"/></radialGradient>
<filter id="nh" x="0" y="0" width="1" height="1" color-interpolation-filters="sRGB"><feTurbulence type="fractalNoise" baseFrequency="0.03 0.5" numOctaves="2" seed="4"/><feColorMatrix type="matrix" values="0 0 0 0 0.55  0 0 0 0 0.16  0 0 0 0 0.03  2.6 0 0 0 -1.05"/></filter>
<filter id="nl" x="0" y="0" width="1" height="1" color-interpolation-filters="sRGB"><feTurbulence type="fractalNoise" baseFrequency="0.03 0.5" numOctaves="2" seed="9"/><feColorMatrix type="matrix" values="0 0 0 0 1  0 0 0 0 0.85  0 0 0 0 0.5  2.6 0 0 0 -1.05"/></filter>
<filter id="gd" x="0" y="0" width="1" height="1" color-interpolation-filters="sRGB"><feTurbulence type="fractalNoise" baseFrequency="0.4" numOctaves="2" seed="2"/><feColorMatrix type="matrix" values="0 0 0 0 0.45  0 0 0 0 0.1  0 0 0 0 0.02  5 0 0 0 -2.2"/></filter>
<filter id="gl" x="0" y="0" width="1" height="1" color-interpolation-filters="sRGB"><feTurbulence type="fractalNoise" baseFrequency="0.4" numOctaves="2" seed="6"/><feColorMatrix type="matrix" values="0 0 0 0 1  0 0 0 0 0.78  0 0 0 0 0.36  5 0 0 0 -2.2"/></filter>
<filter id="gd2" x="0" y="0" width="1" height="1" color-interpolation-filters="sRGB"><feTurbulence type="fractalNoise" baseFrequency="0.75" numOctaves="1" seed="12"/><feColorMatrix type="matrix" values="0 0 0 0 0.45  0 0 0 0 0.1  0 0 0 0 0.02  4 0 0 0 -1.75"/></filter>
<filter id="gl2" x="0" y="0" width="1" height="1" color-interpolation-filters="sRGB"><feTurbulence type="fractalNoise" baseFrequency="0.75" numOctaves="1" seed="16"/><feColorMatrix type="matrix" values="0 0 0 0 1  0 0 0 0 0.75  0 0 0 0 0.35  4 0 0 0 -1.75"/></filter>
<filter id="gd3" x="0" y="0" width="1" height="1" color-interpolation-filters="sRGB"><feTurbulence type="fractalNoise" baseFrequency="0.6" numOctaves="1" seed="22"/><feColorMatrix type="matrix" values="0 0 0 0 0.5  0 0 0 0 0.13  0 0 0 0 0.02  4.5 0 0 0 -2.0"/></filter>
<filter id="gl3" x="0" y="0" width="1" height="1" color-interpolation-filters="sRGB"><feTurbulence type="fractalNoise" baseFrequency="0.6" numOctaves="1" seed="26"/><feColorMatrix type="matrix" values="0 0 0 0 1  0 0 0 0 0.74  0 0 0 0 0.32  4.5 0 0 0 -2.0"/></filter>
<filter id="bl1" x="-0.05" y="-0.01" width="1.1" height="1.02"><feGaussianBlur stdDeviation="0.9 3"/></filter>
<filter id="bl2" x="-0.05" y="-0.01" width="1.1" height="1.02"><feGaussianBlur stdDeviation="2.2 8"/></filter>
<clipPath id="cb1"><rect x="453.0" y="191.0" width="372.8" height="757.5"/></clipPath>
<clipPath id="cb2"><rect x="1166.8" y="191.2" width="373.2" height="756.8"/></clipPath>
<clipPath id="cs1"><rect x="19.8" y="73.5" width="94.9" height="1891.5"/></clipPath>
<clipPath id="cs2"><rect x="213.6" y="73.5" width="95.1" height="1891.5"/></clipPath>
<clipPath id="pc"><rect x="499.6" y="1153.6" width="1307.6" height="582.0"/></clipPath>
</defs>
<rect width="1812" height="1972" fill="#fff"/>
<g>
<rect x="19.8" y="73" width="94.9" height="12" fill="url(#sa0)"/>
<rect x="19.8" y="73" width="94.9" height="12" fill="url(#sa1)" mask="url(#vf)"/>
<rect x="19.8" y="85" width="94.9" height="25" fill="url(#sa1)"/>
<rect x="19.8" y="85" width="94.9" height="25" fill="url(#sa2)" mask="url(#vf)"/>
<rect x="19.8" y="110" width="94.9" height="40" fill="url(#sa2)"/>
<rect x="19.8" y="110" width="94.9" height="40" fill="url(#sa3)" mask="url(#vf)"/>
<rect x="19.8" y="150" width="94.9" height="50" fill="url(#sa3)"/>
<rect x="19.8" y="150" width="94.9" height="50" fill="url(#sa4)" mask="url(#vf)"/>
<rect x="19.8" y="200" width="94.9" height="50" fill="url(#sa4)"/>
<rect x="19.8" y="200" width="94.9" height="50" fill="url(#sa5)" mask="url(#vf)"/>
<rect x="19.8" y="250" width="94.9" height="50" fill="url(#sa5)"/>
<rect x="19.8" y="250" width="94.9" height="50" fill="url(#sa6)" mask="url(#vf)"/>
<rect x="19.8" y="300" width="94.9" height="30" fill="url(#sa6)"/>
<rect x="19.8" y="300" width="94.9" height="30" fill="url(#sa7)" mask="url(#vf)"/>
<rect x="19.8" y="330" width="94.9" height="40" fill="url(#sa7)"/>
<rect x="19.8" y="330" width="94.9" height="40" fill="url(#sa8)" mask="url(#vf)"/>
<rect x="19.8" y="370" width="94.9" height="30" fill="url(#sa8)"/>
<rect x="19.8" y="370" width="94.9" height="30" fill="url(#sa9)" mask="url(#vf)"/>
<rect x="19.8" y="400" width="94.9" height="40" fill="url(#sa9)"/>
<rect x="19.8" y="400" width="94.9" height="40" fill="url(#sa10)" mask="url(#vf)"/>
<rect x="19.8" y="440" width="94.9" height="30" fill="url(#sa10)"/>
<rect x="19.8" y="440" width="94.9" height="30" fill="url(#sa11)" mask="url(#vf)"/>
<rect x="19.8" y="470" width="94.9" height="25" fill="url(#sa11)"/>
<rect x="19.8" y="470" width="94.9" height="25" fill="url(#sa12)" mask="url(#vf)"/>
<rect x="19.8" y="495" width="94.9" height="25" fill="url(#sa12)"/>
<rect x="19.8" y="495" width="94.9" height="25" fill="url(#sa13)" mask="url(#vf)"/>
<rect x="19.8" y="520" width="94.9" height="25" fill="url(#sa13)"/>
<rect x="19.8" y="520" width="94.9" height="25" fill="url(#sa14)" mask="url(#vf)"/>
<rect x="19.8" y="545" width="94.9" height="25" fill="url(#sa14)"/>
<rect x="19.8" y="545" width="94.9" height="25" fill="url(#sa15)" mask="url(#vf)"/>
<rect x="19.8" y="570" width="94.9" height="25" fill="url(#sa15)"/>
<rect x="19.8" y="570" width="94.9" height="25" fill="url(#sa16)" mask="url(#vf)"/>
<rect x="19.8" y="595" width="94.9" height="25" fill="url(#sa16)"/>
<rect x="19.8" y="595" width="94.9" height="25" fill="url(#sa17)" mask="url(#vf)"/>
<rect x="19.8" y="620" width="94.9" height="40" fill="url(#sa17)"/>
<rect x="19.8" y="620" width="94.9" height="40" fill="url(#sa18)" mask="url(#vf)"/>
<rect x="19.8" y="660" width="94.9" height="40" fill="url(#sa18)"/>
<rect x="19.8" y="660" width="94.9" height="40" fill="url(#sa19)" mask="url(#vf)"/>
<rect x="19.8" y="700" width="94.9" height="40" fill="url(#sa19)"/>
<rect x="19.8" y="700" width="94.9" height="40" fill="url(#sa20)" mask="url(#vf)"/>
<rect x="19.8" y="740" width="94.9" height="40" fill="url(#sa20)"/>
<rect x="19.8" y="740" width="94.9" height="40" fill="url(#sa21)" mask="url(#vf)"/>
<rect x="19.8" y="780" width="94.9" height="20" fill="url(#sa21)"/>
<rect x="19.8" y="780" width="94.9" height="20" fill="url(#sa22)" mask="url(#vf)"/>
<rect x="19.8" y="800" width="94.9" height="40" fill="url(#sa22)"/>
<rect x="19.8" y="800" width="94.9" height="40" fill="url(#sa23)" mask="url(#vf)"/>
<rect x="19.8" y="840" width="94.9" height="30" fill="url(#sa23)"/>
<rect x="19.8" y="840" width="94.9" height="30" fill="url(#sa24)" mask="url(#vf)"/>
<rect x="19.8" y="870" width="94.9" height="25" fill="url(#sa24)"/>
<rect x="19.8" y="870" width="94.9" height="25" fill="url(#sa25)" mask="url(#vf)"/>
<rect x="19.8" y="895" width="94.9" height="25" fill="url(#sa25)"/>
<rect x="19.8" y="895" width="94.9" height="25" fill="url(#sa26)" mask="url(#vf)"/>
<rect x="19.8" y="920" width="94.9" height="40" fill="url(#sa26)"/>
<rect x="19.8" y="920" width="94.9" height="40" fill="url(#sa27)" mask="url(#vf)"/>
<rect x="19.8" y="960" width="94.9" height="40" fill="url(#sa27)"/>
<rect x="19.8" y="960" width="94.9" height="40" fill="url(#sa28)" mask="url(#vf)"/>
<rect x="19.8" y="1000" width="94.9" height="40" fill="url(#sa28)"/>
<rect x="19.8" y="1000" width="94.9" height="40" fill="url(#sa29)" mask="url(#vf)"/>
<rect x="19.8" y="1040" width="94.9" height="40" fill="url(#sa29)"/>
<rect x="19.8" y="1040" width="94.9" height="40" fill="url(#sa30)" mask="url(#vf)"/>
<rect x="19.8" y="1080" width="94.9" height="40" fill="url(#sa30)"/>
<rect x="19.8" y="1080" width="94.9" height="40" fill="url(#sa31)" mask="url(#vf)"/>
<rect x="19.8" y="1120" width="94.9" height="40" fill="url(#sa31)"/>
<rect x="19.8" y="1120" width="94.9" height="40" fill="url(#sa32)" mask="url(#vf)"/>
<rect x="19.8" y="1160" width="94.9" height="40" fill="url(#sa32)"/>
<rect x="19.8" y="1160" width="94.9" height="40" fill="url(#sa33)" mask="url(#vf)"/>
<rect x="19.8" y="1200" width="94.9" height="40" fill="url(#sa33)"/>
<rect x="19.8" y="1200" width="94.9" height="40" fill="url(#sa34)" mask="url(#vf)"/>
<rect x="19.8" y="1240" width="94.9" height="40" fill="url(#sa34)"/>
<rect x="19.8" y="1240" width="94.9" height="40" fill="url(#sa35)" mask="url(#vf)"/>
<rect x="19.8" y="1280" width="94.9" height="40" fill="url(#sa35)"/>
<rect x="19.8" y="1280" width="94.9" height="40" fill="url(#sa36)" mask="url(#vf)"/>
<rect x="19.8" y="1320" width="94.9" height="40" fill="url(#sa36)"/>
<rect x="19.8" y="1320" width="94.9" height="40" fill="url(#sa37)" mask="url(#vf)"/>
<rect x="19.8" y="1360" width="94.9" height="40" fill="url(#sa37)"/>
<rect x="19.8" y="1360" width="94.9" height="40" fill="url(#sa38)" mask="url(#vf)"/>
<rect x="19.8" y="1400" width="94.9" height="40" fill="url(#sa38)"/>
<rect x="19.8" y="1400" width="94.9" height="40" fill="url(#sa39)" mask="url(#vf)"/>
<rect x="19.8" y="1440" width="94.9" height="40" fill="url(#sa39)"/>
<rect x="19.8" y="1440" width="94.9" height="40" fill="url(#sa40)" mask="url(#vf)"/>
<rect x="19.8" y="1480" width="94.9" height="30" fill="url(#sa40)"/>
<rect x="19.8" y="1480" width="94.9" height="30" fill="url(#sa41)" mask="url(#vf)"/>
<rect x="19.8" y="1510" width="94.9" height="40" fill="url(#sa41)"/>
<rect x="19.8" y="1510" width="94.9" height="40" fill="url(#sa42)" mask="url(#vf)"/>
<rect x="19.8" y="1550" width="94.9" height="40" fill="url(#sa42)"/>
<rect x="19.8" y="1550" width="94.9" height="40" fill="url(#sa43)" mask="url(#vf)"/>
<rect x="19.8" y="1590" width="94.9" height="40" fill="url(#sa43)"/>
<rect x="19.8" y="1590" width="94.9" height="40" fill="url(#sa44)" mask="url(#vf)"/>
<rect x="19.8" y="1630" width="94.9" height="40" fill="url(#sa44)"/>
<rect x="19.8" y="1630" width="94.9" height="40" fill="url(#sa45)" mask="url(#vf)"/>
<rect x="19.8" y="1670" width="94.9" height="40" fill="url(#sa45)"/>
<rect x="19.8" y="1670" width="94.9" height="40" fill="url(#sa46)" mask="url(#vf)"/>
<rect x="19.8" y="1710" width="94.9" height="35" fill="url(#sa46)"/>
<rect x="19.8" y="1710" width="94.9" height="35" fill="url(#sa47)" mask="url(#vf)"/>
<rect x="19.8" y="1745" width="94.9" height="15" fill="url(#sa47)"/>
<rect x="19.8" y="1745" width="94.9" height="15" fill="url(#sa48)" mask="url(#vf)"/>
<rect x="19.8" y="1760" width="94.9" height="40" fill="url(#sa48)"/>
<rect x="19.8" y="1760" width="94.9" height="40" fill="url(#sa49)" mask="url(#vf)"/>
<rect x="19.8" y="1800" width="94.9" height="30" fill="url(#sa49)"/>
<rect x="19.8" y="1800" width="94.9" height="30" fill="url(#sa50)" mask="url(#vf)"/>
<rect x="19.8" y="1830" width="94.9" height="50" fill="url(#sa50)"/>
<rect x="19.8" y="1830" width="94.9" height="50" fill="url(#sa51)" mask="url(#vf)"/>
<rect x="19.8" y="1880" width="94.9" height="30" fill="url(#sa51)"/>
<rect x="19.8" y="1880" width="94.9" height="30" fill="url(#sa52)" mask="url(#vf)"/>
<rect x="19.8" y="1910" width="94.9" height="30" fill="url(#sa52)"/>
<rect x="19.8" y="1910" width="94.9" height="30" fill="url(#sa53)" mask="url(#vf)"/>
<rect x="19.8" y="1940" width="94.9" height="26" fill="url(#sa53)"/>
<rect x="19.8" y="1940" width="94.9" height="26" fill="url(#sa54)" mask="url(#vf)"/>
</g>
<g clip-path="url(#cs1)"><g fill="none" opacity="0.33" filter="url(#bl1)"><path d="M52 439q0 109 5 218M74 724q4 81 6 162M58 944q5 106 6 211M76 1307q-4 79 -3 157M24 1714q-2 41 -4 82M36 1105q3 151 16 302M59 753q-3 81 -3 162M109 1874q-3 166 -3 332M55 1190q-2 132 0 265M26 450q-2 119 -5 239M89 74q11 189 22 377" stroke="#f9cd72" stroke-width="1.5"/><path d="M92 1222q-0 157 7 314M113 186q0 107 -4 214M28 1350q-1 125 -2 251M109 762q1 117 3 234M37 769q0 173 2 346M72 558q-2 68 -3 137M39 1054q0 105 -4 209M33 903q2 186 3 372M63 847q8 152 6 304M62 557q-5 110 -10 220M75 1134q-3 126 -6 252M52 1285q5 119 8 239" stroke="#f9cd72" stroke-width="2.0"/><path d="M69 1862q0 155 7 310M100 150q3 84 2 168M106 379q-1 48 2 95M114 981q-0 164 2 328M97 1838q6 91 9 183M93 1601q2 111 5 222M96 950q3 48 6 96M22 804q-5 120 -19 241M104 734q-4 104 -8 209M60 213q-2 117 -1 234M93 1305q6 159 2 318M32 125q-5 69 -4 139M45 1715q-4 129 -5 258M30 859q1 170 -1 339M45 1010q4 167 11 334M82 1792q4 177 11 353M106 1239q-10 168 -11 336M105 1154q20 188 33 375M89 926q0 169 -1 339M38 1363q4 151 11 303M96 1272q2 85 -2 170M43 685q2 90 6 181M58 1440q6 134 14 267M89 1082q-3 127 -2 254M78 603q0 148 -4 296M40 223q-1 64 -4 128M46 637q-3 80 -7 160" stroke="#f9cd72" stroke-width="2.5"/><path d="M20 1853q1 61 3 122M98 474q0 52 0 104M74 1518q0 131 5 263M41 871q-2 72 -2 143M103 1381q1 126 2 252M44 1363q-6 173 -10 347M75 377q1 73 3 145M67 1045q-2 98 -3 196M72 957q-0 135 5 270M20 1134q-7 188 -2 377M38 1579q1 45 -0 90" stroke="#f9cd72" stroke-width="3.0"/><path d="M98 1417q1 58 -0 116M72 1166q-5 156 -12 312M92 915q-0 51 -0 102M60 1729q-4 105 -10 210M111 1660q2 118 1 235M71 753q1 75 -0 151M62 1221q11 189 6 379M50 175q-1 52 -1 105M65 345q17 185 22 371M85 1482q-4 135 -6 271M24 818q-3 108 -7 216M73 93q7 162 6 325M43 737q0 180 -0 360M98 1129q2 45 1 91" stroke="#f9cd72" stroke-width="3.5"/><path d="M28 127q1 92 -3 184M30 952q-9 137 -13 274M64 1430q-3 52 -5 105M67 165q0 122 2 244M54 1847q-2 144 -5 289M71 1862q0 54 -1 108M108 307q4 155 4 310M51 786q-4 135 -7 270M75 1195q1 62 3 125M52 519q1 84 -0 169M61 1290q-3 84 -3 169M101 842q-4 104 -0 207M85 887q-2 169 -5 339" stroke="#f9cd72" stroke-width="4.0"/><path d="M29 69q2 69 1 137M40 79q2 117 4 234M52 1050q1 124 -3 248M109 1960q-2 57 -3 114M41 442q-2 64 -5 127M64 1156q2 60 4 119M71 1799q0 46 2 92M108 1703q1 73 2 145M22 184q1 98 3 197M99 653q4 53 8 106" stroke="#f9cd72" stroke-width="4.5"/><path d="M57 1223q-1 102 5 204M70 1842q-3 161 -4 322M26 1242q1 94 -0 187" stroke="#9a2c0c" stroke-width="1.5"/><path d="M62 896q1 143 -3 287M111 1506q1 66 4 131M82 1718q-1 102 1 203M27 1114q1 79 4 158M100 688q-2 62 -1 123M21 1188q9 163 13 326M102 1359q-0 97 -2 194M108 906q-1 85 -5 170M33 1314q-5 182 -4 363M21 486q-2 139 -4 278M68 31q-3 67 -6 134M75 768q-1 188 -9 376M51 1881q9 176 16 353M82 782q-6 132 -11 264" stroke="#9a2c0c" stroke-width="2.0"/><path d="M80 833q-7 134 -7 268M79 364q-4 52 -6 104M48 787q0 163 -3 326M29 76q1 53 4 107M31 791q1 167 3 333M60 532q2 154 -1 307M26 757q-3 140 -4 281M95 1569q1 59 3 118M60 1877q2 64 -1 128M54 1952q-2 126 0 252M56 228q2 80 5 160M100 613q-1 178 -7 356" stroke="#9a2c0c" stroke-width="2.5"/><path d="M32 1061q0 116 2 232M99 578q-6 91 -8 182M115 1748q-7 184 -10 368M35 1191q-3 151 -3 301M68 691q0 110 -3 221M27 1280q-4 68 -6 137M87 745q2 101 -1 202M90 999q-3 179 2 358M69 132q4 179 -1 358M109 417q3 170 4 341M25 263q-5 155 -8 309M75 1596q-0 119 4 238M23 1147q-5 156 1 313M28 445q-0 55 1 111M108 1262q-3 111 -8 221M43 95q-6 174 -15 348M92 238q-4 66 -8 133M28 1932q-1 113 -7 226" stroke="#9a2c0c" stroke-width="3.0"/><path d="M20 274q-0 119 3 239M20 1225q5 136 4 272M22 552q-2 184 -5 368M72 1018q-1 162 -3 323M80 1278q-0 67 2 135M71 115q-3 136 -12 272M35 1271q6 123 7 246M50 865q3 42 2 83" stroke="#9a2c0c" stroke-width="3.5"/><path d="M43 409q-4 143 -8 286M108 967q-2 59 -3 118M101 341q-2 155 -1 310M38 844q2 161 -0 322M27 921q3 46 4 92M92 479q1 131 9 263M113 1958q2 164 8 327M47 846q1 45 1 90M54 944q8 185 3 371M78 302q-5 166 -0 333" stroke="#9a2c0c" stroke-width="4.0"/><path d="M68 794q2 112 0 225M107 479q-5 132 -3 265M104 191q2 72 5 145M74 472q-2 45 -2 91M31 565q1 135 2 269M109 637q-4 107 -12 213M25 1605q6 178 4 355" stroke="#9a2c0c" stroke-width="4.5"/></g><ellipse cx="21" cy="893" rx="8" ry="24" fill="url(#dk)" opacity="0.85"/><ellipse cx="113" cy="86" rx="7" ry="22" fill="url(#dk)" opacity="0.9"/><rect x="19.8" y="73.5" width="94.9" height="1891.5" filter="url(#nh)" opacity="0.08"/><rect x="19.8" y="73.5" width="94.9" height="1891.5" filter="url(#nl)" opacity="0.08"/><path d="M49 723.2h0M70.2 918.4h0M45.2 1238.3h0M84.6 1354.1h0M72 1304.8h0M108.4 1156.7h0M34.3 1792h0M108.8 141.4h0M111 183.6h0M102.7 896.9h0M79.4 1136.4h0M25.6 287.5h0M76.3 1052.1h0M67.6 564.1h0M49.7 228.8h0M83.5 511.3h0M82 632.9h0M76.3 1146.4h0M30.7 1552.8h0M56.4 1612.7h0M75.2 1267.1h0M92.2 578h0M108.5 1034.1h0M91.8 769.3h0M40.1 1221h0" stroke="#f7cc78" stroke-width="1.5" stroke-linecap="round" fill="none" opacity="0.8"/><path d="M102.9 307h0M64.8 1572.7h0M70.7 1277.8h0M93.9 1050.1h0M52.4 567.7h0M73 350.9h0M43.7 1786.5h0M41.7 388.8h0M33.7 1247h0M59.4 253.5h0M108.2 1844.1h0M24.6 1478.4h0M35.2 1320.1h0M92.3 1723.5h0M90.5 1182.4h0M70.9 1188.7h0M89.5 686.3h0M31.9 748.7h0M24.3 1089.8h0M83.7 175.1h0M46.5 1168.6h0M106.5 369.5h0M42.1 1794.5h0M79.2 1593.8h0M41.9 184.4h0M89.9 1673h0M68.1 759.9h0M87.2 1643.3h0M111.7 1516.9h0M71.4 579.7h0M46.2 700.5h0M62.3 1877.6h0M88.3 1545.9h0M82.6 1088.3h0M81.1 173.8h0M57.5 682.3h0M77.8 1291.1h0M105.3 703.5h0M93.1 1664.2h0M48.1 257.8h0M76.6 1680.9h0M95.4 1184.7h0M39.2 632.4h0M73.9 682h0M28.1 1527.5h0M96.6 847.9h0M85.1 606.4h0M40.3 283h0M55.2 1600.8h0M85.9 1626.4h0M100.4 578h0M77.8 490.5h0M89.2 1468.2h0M51.2 1514.8h0M79.2 1038.2h0M83.6 246.1h0M72 916.6h0M29.7 1706.6h0M61.7 1577.4h0M38.2 495.5h0M57.2 852.7h0M89.3 1511.6h0M108 1685.6h0M100.1 1245.4h0M33.4 1812.6h0M39.5 540.4h0M37 1939.6h0M24.8 659.3h0M32.3 1028.1h0M45.1 1817.9h0M58.4 828.6h0M105.9 1772.4h0M100 761h0M28.9 175h0M96.5 673h0M34.9 1674.3h0M23.9 1341.6h0M37.4 1619.7h0M109.3 1114.8h0M42.2 1730.8h0M32.7 1028.7h0M58.9 794.9h0M76 540.9h0M62.8 199.4h0M42 1572.8h0M24.1 732.3h0M40.1 667.3h0M78.3 88.8h0" stroke="#f7cc78" stroke-width="2.0" stroke-linecap="round" fill="none" opacity="0.8"/><path d="M71.4 1310.4h0M36.5 1664.6h0M59.5 896.6h0M76.1 1803.5h0M101.9 1187.5h0M33.8 949.9h0M96.8 242h0M44.7 1673.3h0M95 901.2h0M63 608.6h0M54.4 1826h0M99.9 208.4h0M110.6 192.6h0M100.4 1152h0M81.3 140.2h0M22.8 693.9h0M56.6 1198.4h0M81.9 1403.1h0M43.1 1783.3h0M110.2 734.9h0M66.9 470.4h0M90.3 1104.8h0M63.3 1639.9h0M73.5 1314.9h0M77.6 1532h0M25.8 881.8h0M60.9 799.6h0M47.2 999.9h0M68.6 897.9h0M102.5 1673.2h0M95.2 1330.1h0M84.8 938.8h0M58 1902.1h0M47.3 1346.9h0M38.7 961.7h0M97.5 1710.6h0M57.3 515h0M31.6 1490.2h0M104 1551.4h0M94.4 1805.8h0M79 1099.4h0M65 460.1h0M38 705.6h0M92.5 892.6h0M65.3 1944.4h0M98.2 517.5h0M26.7 1019.4h0M23.2 799.9h0M66.8 403.8h0M52.4 329.4h0M46.1 319.5h0M26.6 957h0M80.1 1356.6h0M37.3 805.3h0M35.9 198.4h0M75.6 452.4h0M110.1 638.7h0M84 1810.2h0M78 694.6h0M33.4 844.2h0M60.4 404.2h0M79.7 1600.1h0M25.1 502.9h0M24.5 1651.8h0M43.1 213.4h0M100.6 1481.8h0M29 1337.9h0M56.4 1408.3h0M105.9 292.5h0M24.5 721.2h0M43.7 156.3h0M43.6 770h0M61.6 659h0M83.6 925.9h0M111.6 1080.7h0M75.9 658.5h0M104.5 1831.4h0M81.2 385.8h0M107.4 1751.4h0M88.1 1398.4h0M46.7 1888.4h0M23.1 1700.7h0M70.4 1131.7h0M99.2 91.7h0M50.8 172h0M87 347.9h0M84.7 1485.1h0M77.8 932.2h0M50.3 1363.2h0M101.3 1336.6h0M40.6 1398.3h0M61.6 938h0M109.7 1720.2h0M83.1 365.4h0M45.2 1108.6h0" stroke="#f7cc78" stroke-width="2.5" stroke-linecap="round" fill="none" opacity="0.8"/><path d="M52.2 1654.4h0M74.8 1949.8h0M48.4 705.3h0M106.1 91.9h0M70.6 1937.8h0M57.9 532.2h0M41.4 1761.4h0M108.7 582.4h0M85.3 1057.9h0M28.5 224h0M85.6 1585.9h0M35.4 879h0M89.3 1436h0M90.9 1770.6h0M106.7 1449.6h0M58.1 1662.5h0M80.8 696h0M87.5 623.4h0M42.2 306.5h0M75.7 454.8h0M55.9 554.9h0M81.9 1936.3h0M72.2 1447.9h0M77 440.3h0M53.1 941.7h0M57.3 792.9h0M51.5 977h0M25.2 1495.9h0M70.6 1348.8h0M83.7 437.5h0M80.7 998.9h0M79.8 1402.6h0M82.2 1575.3h0M111.4 159.3h0M67.9 831.4h0M51.1 1627.5h0M96.4 1166.3h0M86.6 640.7h0M59 277.9h0M84.5 1584.5h0M50.1 1188.2h0M103.8 803.7h0M32.5 1124.9h0M44.3 1698.2h0M88.9 1397.1h0M50.9 1651.2h0M102.4 1901.8h0M75.2 944.6h0M54.7 210.9h0M47.2 1421.9h0M73.3 1192.2h0M70 834.2h0M74 1057.7h0M97.6 301.2h0M47.4 139.7h0M61.9 165.5h0M93.1 1003.2h0M103 1357.8h0M40.3 596.1h0M53.3 711.8h0M79.1 1072.1h0M53.9 1665h0M79.9 1675.1h0M86.8 1754.8h0M87.2 1453h0M58 1198h0M43.8 290.2h0M29.9 1365.7h0M38.5 896.8h0M74.8 848.6h0M102.1 646.8h0M101.2 980h0M111.6 200.3h0M34.6 1374.3h0M98.2 1181h0M32.6 97.6h0M32.1 297.5h0M24.3 1177.1h0M71.7 1448.3h0M50.6 1816.8h0M36.8 560.4h0M42.6 886.1h0M59.4 407.6h0M36.4 1834.2h0M102.1 812.7h0M34.6 1787.6h0M58.4 1841.3h0M108 955.3h0M84 1676.2h0M30.9 1326.5h0M110.4 1180.1h0M44.4 1238.6h0" stroke="#f7cc78" stroke-width="3.0" stroke-linecap="round" fill="none" opacity="0.8"/><path d="M50.5 907h0M59.7 1912.9h0M51.5 1159.5h0M81.9 1375.4h0M38.4 262.2h0M63.5 1281.4h0M38 848.1h0M80.8 568.6h0M89.8 116.1h0M67.2 535.5h0M84.7 1591.4h0M38.7 298.6h0M62 218.8h0M40.6 1607.4h0M68.2 1224.2h0M86.5 927.5h0M109.7 617.1h0M49 1600.5h0M47.6 357.1h0M88 518.7h0M86.7 855.4h0M47.1 1830.4h0M80.3 1490.7h0M101.4 1395.7h0M106.8 1253.2h0M24.5 283.2h0M98.7 1663.3h0M63.2 1742.2h0M106 680.3h0M45.4 455.4h0M66.7 1119.2h0" stroke="#f7cc78" stroke-width="3.5" stroke-linecap="round" fill="none" opacity="0.8"/><path d="M73 1910h0M80 318h0M94 405h0M99 241h0M33.5 656h0M29.5 971h0M66 1457h0M27 1287h0" stroke="#f7cc78" stroke-width="4.0" stroke-linecap="round" fill="none" opacity="0.8"/><path d="M40.5 339h0M82.5 410h0M108 300h0" stroke="#f7cc78" stroke-width="4.5" stroke-linecap="round" fill="none" opacity="0.8"/><g fill="url(#dy)"><ellipse cx="63.5" cy="339.0" rx="2.4" ry="3.4"/><ellipse cx="84.0" cy="312.0" rx="3.4" ry="3.4"/><ellipse cx="83.0" cy="421.0" rx="2.7" ry="3.4"/><ellipse cx="67.0" cy="539.0" rx="3.4" ry="3.4"/><ellipse cx="106.0" cy="634.0" rx="2.7" ry="5.4"/><ellipse cx="87.5" cy="214.0" rx="3.0" ry="3.4"/><ellipse cx="96.0" cy="226.0" rx="2.7" ry="3.4"/><ellipse cx="104.0" cy="292.0" rx="3.4" ry="4.1"/><ellipse cx="112.0" cy="350.0" rx="3.4" ry="4.1"/><ellipse cx="37.0" cy="1205.0" rx="4.1" ry="2.7"/><ellipse cx="34.5" cy="705.5" rx="2.4" ry="4.1"/><ellipse cx="45.0" cy="1485.0" rx="2.0" ry="4.7"/><ellipse cx="22.0" cy="1633.0" rx="2.7" ry="3.4"/><ellipse cx="54.0" cy="1785.0" rx="2.7" ry="3.4"/><ellipse cx="110.3" cy="1040.0" rx="2.4" ry="5.1"/><ellipse cx="106.4" cy="1061.7" rx="3.1" ry="7.2"/><ellipse cx="105.9" cy="1075.4" rx="3.2" ry="5.6"/><ellipse cx="106.9" cy="1088.7" rx="2.8" ry="5.6"/><ellipse cx="105.1" cy="1108.1" rx="2.7" ry="6.5"/><ellipse cx="105.3" cy="1123.5" rx="3.2" ry="7.4"/><ellipse cx="109.4" cy="1216.1" rx="2.9" ry="6.8"/><ellipse cx="107.6" cy="1227.7" rx="2.6" ry="3.5"/><ellipse cx="108.4" cy="1236.2" rx="2.9" ry="5.3"/><ellipse cx="107.4" cy="1248.2" rx="2.2" ry="6.3"/><ellipse cx="107.1" cy="1260.8" rx="2.8" ry="6.8"/><ellipse cx="106.9" cy="1272.5" rx="2.1" ry="5.6"/><ellipse cx="105.3" cy="1283.9" rx="2.8" ry="5.7"/><ellipse cx="103.6" cy="1297.9" rx="2.2" ry="6.9"/><ellipse cx="102.5" cy="1331.9" rx="2.5" ry="4.8"/><ellipse cx="103.7" cy="1358.4" rx="2.9" ry="6.2"/><ellipse cx="104.1" cy="1373.8" rx="3.2" ry="6.5"/><ellipse cx="105.4" cy="1400.3" rx="2.7" ry="5.7"/><ellipse cx="105.3" cy="1424.4" rx="2.9" ry="6.1"/><ellipse cx="104.8" cy="1448.9" rx="2.9" ry="3.8"/><ellipse cx="105.9" cy="1474.4" rx="2.2" ry="3.7"/><ellipse cx="103.1" cy="1507.6" rx="3.1" ry="7.6"/><ellipse cx="102.4" cy="1524.1" rx="2.3" ry="7.8"/><ellipse cx="105.9" cy="1600.0" rx="2.5" ry="6.0"/><ellipse cx="106.6" cy="1611.3" rx="2.7" ry="5.0"/><ellipse cx="107.1" cy="1624.6" rx="3.1" ry="7.4"/><ellipse cx="107.2" cy="1654.8" rx="2.8" ry="4.7"/><ellipse cx="107.0" cy="1663.3" rx="2.2" ry="7.7"/><ellipse cx="106.3" cy="1679.3" rx="2.7" ry="6.6"/><ellipse cx="104.2" cy="1716.2" rx="3.1" ry="5.3"/><ellipse cx="103.0" cy="1744.1" rx="2.4" ry="4.6"/><ellipse cx="102.8" cy="1752.1" rx="2.3" ry="5.0"/></g><g fill="url(#dw)"><ellipse cx="78.3" cy="368.3" rx="7.4" ry="6.1"/><ellipse cx="32.0" cy="385.6" rx="4.7" ry="4.7"/><ellipse cx="53.0" cy="395.6" rx="4.7" ry="4.7"/><ellipse cx="79.6" cy="401.0" rx="4.7" ry="4.5"/><ellipse cx="55.5" cy="147.0" rx="3.0" ry="4.7"/><ellipse cx="26.0" cy="577.5" rx="4.7" ry="4.7"/><ellipse cx="22.5" cy="546.0" rx="4.1" ry="5.4"/><ellipse cx="62.0" cy="1167.0" rx="4.7" ry="7.4"/><ellipse cx="55.0" cy="1164.0" rx="2.0" ry="2.0"/><ellipse cx="107.0" cy="1369.0" rx="4.1" ry="4.7"/><ellipse cx="93.5" cy="1570.0" rx="4.5" ry="3.0"/><ellipse cx="26.6" cy="1582.0" rx="4.1" ry="4.1"/><ellipse cx="43.7" cy="1605.0" rx="3.4" ry="3.4"/><ellipse cx="47.5" cy="1904.0" rx="4.1" ry="4.1"/><ellipse cx="62.0" cy="1907.0" rx="4.7" ry="4.7"/><ellipse cx="22.0" cy="1228.0" rx="2.7" ry="2.7"/><ellipse cx="110.0" cy="1290.0" rx="3.4" ry="5.4"/><ellipse cx="111.0" cy="1262.0" rx="3.4" ry="3.4"/><ellipse cx="108.3" cy="1049.8" rx="2.6" ry="5.5"/><ellipse cx="106.3" cy="1098.1" rx="3.0" ry="5.8"/><ellipse cx="106.7" cy="1140.9" rx="2.3" ry="7.0"/><ellipse cx="106.8" cy="1155.5" rx="2.9" ry="5.9"/><ellipse cx="107.8" cy="1167.9" rx="2.3" ry="5.0"/><ellipse cx="107.8" cy="1181.1" rx="3.2" ry="5.0"/><ellipse cx="108.4" cy="1190.1" rx="3.1" ry="6.1"/><ellipse cx="107.6" cy="1202.5" rx="2.4" ry="6.1"/><ellipse cx="103.8" cy="1314.9" rx="2.6" ry="7.2"/><ellipse cx="102.0" cy="1345.9" rx="2.3" ry="5.3"/><ellipse cx="103.8" cy="1388.9" rx="2.2" ry="4.1"/><ellipse cx="104.9" cy="1414.5" rx="2.7" ry="3.7"/><ellipse cx="104.4" cy="1437.1" rx="2.9" ry="5.8"/><ellipse cx="104.4" cy="1461.2" rx="2.4" ry="7.4"/><ellipse cx="104.5" cy="1483.5" rx="2.1" ry="4.7"/><ellipse cx="103.5" cy="1496.4" rx="3.1" ry="5.4"/><ellipse cx="100.9" cy="1541.9" rx="2.9" ry="5.8"/><ellipse cx="100.4" cy="1554.3" rx="2.2" ry="3.5"/><ellipse cx="102.8" cy="1563.3" rx="2.3" ry="5.0"/><ellipse cx="103.9" cy="1574.6" rx="3.2" ry="6.2"/><ellipse cx="105.1" cy="1588.6" rx="3.0" ry="4.3"/><ellipse cx="107.4" cy="1640.7" rx="2.0" ry="5.0"/><ellipse cx="105.4" cy="1695.4" rx="3.1" ry="4.4"/><ellipse cx="104.6" cy="1708.8" rx="3.2" ry="3.4"/><ellipse cx="103.5" cy="1730.0" rx="3.0" ry="5.0"/></g><path d="M19.8 1846c3 3 6 6 12 7 6 0 10 1 14 2 5 0 9 1 13 2l4 2-5 3c-5 0-9 2-14 2-5 1-10 4-15 4-4 1-6 3-9 3z" fill="#fff"/></g>
<g>
<rect x="213.6" y="73" width="95.1" height="127" fill="url(#sb0)"/>
<rect x="213.6" y="73" width="95.1" height="127" fill="url(#sb1)" mask="url(#vf)"/>
<rect x="213.6" y="200" width="95.1" height="130" fill="url(#sb1)"/>
<rect x="213.6" y="200" width="95.1" height="130" fill="url(#sb2)" mask="url(#vf)"/>
<rect x="213.6" y="330" width="95.1" height="120" fill="url(#sb2)"/>
<rect x="213.6" y="330" width="95.1" height="120" fill="url(#sb3)" mask="url(#vf)"/>
<rect x="213.6" y="450" width="95.1" height="110" fill="url(#sb3)"/>
<rect x="213.6" y="450" width="95.1" height="110" fill="url(#sb4)" mask="url(#vf)"/>
<rect x="213.6" y="560" width="95.1" height="100" fill="url(#sb4)"/>
<rect x="213.6" y="560" width="95.1" height="100" fill="url(#sb5)" mask="url(#vf)"/>
<rect x="213.6" y="660" width="95.1" height="120" fill="url(#sb5)"/>
<rect x="213.6" y="660" width="95.1" height="120" fill="url(#sb6)" mask="url(#vf)"/>
<rect x="213.6" y="780" width="95.1" height="120" fill="url(#sb6)"/>
<rect x="213.6" y="780" width="95.1" height="120" fill="url(#sb7)" mask="url(#vf)"/>
<rect x="213.6" y="900" width="95.1" height="120" fill="url(#sb7)"/>
<rect x="213.6" y="900" width="95.1" height="120" fill="url(#sb8)" mask="url(#vf)"/>
<rect x="213.6" y="1020" width="95.1" height="130" fill="url(#sb8)"/>
<rect x="213.6" y="1020" width="95.1" height="130" fill="url(#sb9)" mask="url(#vf)"/>
<rect x="213.6" y="1150" width="95.1" height="130" fill="url(#sb9)"/>
<rect x="213.6" y="1150" width="95.1" height="130" fill="url(#sb10)" mask="url(#vf)"/>
<rect x="213.6" y="1280" width="95.1" height="120" fill="url(#sb10)"/>
<rect x="213.6" y="1280" width="95.1" height="120" fill="url(#sb11)" mask="url(#vf)"/>
<rect x="213.6" y="1400" width="95.1" height="120" fill="url(#sb11)"/>
<rect x="213.6" y="1400" width="95.1" height="120" fill="url(#sb12)" mask="url(#vf)"/>
<rect x="213.6" y="1520" width="95.1" height="120" fill="url(#sb12)"/>
<rect x="213.6" y="1520" width="95.1" height="120" fill="url(#sb13)" mask="url(#vf)"/>
<rect x="213.6" y="1640" width="95.1" height="110" fill="url(#sb13)"/>
<rect x="213.6" y="1640" width="95.1" height="110" fill="url(#sb14)" mask="url(#vf)"/>
<rect x="213.6" y="1750" width="95.1" height="110" fill="url(#sb14)"/>
<rect x="213.6" y="1750" width="95.1" height="110" fill="url(#sb15)" mask="url(#vf)"/>
<rect x="213.6" y="1860" width="95.1" height="106" fill="url(#sb15)"/>
<rect x="213.6" y="1860" width="95.1" height="106" fill="url(#sb16)" mask="url(#vf)"/>
</g>
<g clip-path="url(#cs2)"><g fill="none" opacity="0.3" filter="url(#bl1)"><path d="M289 37q-3 105 -4 210M268 282q0 40 1 80M255 1570q-6 186 -23 372M267 1901q2 158 3 316" stroke="#f0b25a" stroke-width="1.5"/><path d="M240 278q-2 87 1 174M273 501q-6 185 -20 369M220 229q-9 121 -6 243M261 1539q2 67 3 134M264 112q-10 163 -11 327M225 468q-7 155 -19 311M285 1199q-0 134 -3 268M291 1765q-4 181 -4 362M291 590q-5 141 -4 282M306 217q2 120 0 241M237 1934q-17 179 -24 358M298 628q2 117 8 234M260 1474q4 151 7 302M287 535q-6 146 -3 293" stroke="#f0b25a" stroke-width="2.0"/><path d="M290 175q-5 142 -9 284M248 648q1 105 0 211M271 1149q-2 81 -0 162M275 558q3 99 7 198M278 777q-7 155 -6 310M292 111q-3 147 -6 293M304 1173q6 140 7 281M236 1079q-1 115 -3 230M306 636q-0 141 5 282M214 1358q5 134 11 268M271 1380q-10 141 -16 283M217 1071q5 160 1 321" stroke="#f0b25a" stroke-width="2.5"/><path d="M265 939q-1 86 1 172M250 69q-1 125 -2 249M306 1647q1 55 2 110M287 788q-4 110 -5 220M284 1776q-7 90 -9 179M243 187q-0 41 2 83M253 592q6 160 12 320M216 1198q2 57 3 113M290 727q-1 136 -3 273M237 102q-4 61 -3 121M285 1661q3 97 10 194M286 835q2 71 -1 142M264 69q-3 173 6 345" stroke="#f0b25a" stroke-width="3.0"/><path d="M255 1504q5 180 4 360M304 319q-2 54 -2 107M281 1688q-2 166 -8 331M293 940q-1 74 -2 149M282 1308q-1 119 -6 238M298 60q-4 66 -6 131M261 1951q4 156 8 313M248 1531q9 182 14 364M285 1947q0 86 -3 171M231 1944q5 138 5 275M230 1528q-7 174 -3 348M229 190q1 55 2 111M264 60q1 59 -2 118M220 193q7 174 10 348M299 498q-1 125 2 250M232 517q8 171 19 343M260 198q-2 138 -6 275M224 409q2 103 2 206M257 349q1 106 -1 212M266 675q0 77 -0 155M237 1913q-1 83 -3 167M307 1594q2 69 4 139" stroke="#f0b25a" stroke-width="3.5"/><path d="M279 991q6 98 6 197M237 800q-4 144 -3 288M216 467q-0 189 -1 378M251 551q12 179 20 359M268 97q-3 123 -0 247M246 1105q-3 108 -6 215M219 400q4 72 5 145M217 1810q-1 101 -1 202M241 1437q-5 113 -7 226M295 407q9 138 13 276" stroke="#f0b25a" stroke-width="4.0"/><path d="M218 614q-5 124 -2 248M220 338q-3 188 -4 375M246 749q3 69 4 137M224 1711q5 132 5 263M265 288q5 90 12 180M246 1573q-4 117 -1 233M220 628q3 61 6 122M246 1591q4 76 3 152M307 1387q1 153 9 307" stroke="#f0b25a" stroke-width="4.5"/><path d="M253 1938q1 94 2 188M242 1271q-3 136 -9 273M273 879q1 46 1 92M222 294q-4 54 -9 107M215 1484q4 140 9 281M247 1191q-2 176 -9 353M240 1665q-11 180 -11 360M299 1455q4 116 5 232M253 91q5 126 4 252M240 862q15 181 24 361" stroke="#a63a12" stroke-width="1.5"/><path d="M249 1072q1 120 2 240M267 1029q-1 110 6 220M234 1190q-2 126 -6 251M267 146q1 109 -3 218M293 479q4 151 5 302M214 151q3 98 5 195M304 545q4 57 7 113M223 942q-6 151 -5 302M257 1485q2 149 0 299M235 1440q1 70 3 139M221 1260q-8 124 -11 247M280 1631q2 180 21 360M228 1110q-7 97 -6 194" stroke="#a63a12" stroke-width="2.0"/><path d="M226 1445q1 91 5 182M298 1558q-1 101 0 202M229 1287q-4 162 -8 324M296 1838q-0 136 1 272M302 305q1 157 6 314M275 1053q-4 143 -10 287M251 822q1 180 -8 361M249 1912q0 96 1 191M260 1926q0 159 6 318M306 1544q-1 40 -3 81M254 505q-15 154 -25 309M257 529q6 185 7 369M270 1159q7 95 9 191M267 1232q10 166 15 332" stroke="#a63a12" stroke-width="2.5"/><path d="M249 1193q7 125 12 251M238 180q4 107 7 214M276 1595q1 93 0 186M272 1503q1 43 4 87M271 249q1 154 13 308M303 969q3 126 1 252M263 1067q3 75 4 150M236 975q-1 156 -2 312M273 257q1 143 2 287M297 1533q6 132 10 263M285 512q0 49 2 97M279 715q-5 106 -6 211M234 81q2 98 0 197M275 999q-2 54 -2 108M295 101q-0 107 0 215" stroke="#a63a12" stroke-width="3.0"/><path d="M226 327q-1 67 4 133M235 1251q-2 64 -8 129M231 1920q-6 89 -9 178M262 360q1 42 2 84M214 473q-1 64 -0 128M225 1484q14 178 22 357M300 1037q7 140 11 279M296 872q-1 46 -1 93M289 1600q-3 53 -7 106M228 1610q-1 145 5 290M264 1482q-5 72 -8 145M237 1677q1 54 3 108M301 1105q-2 145 4 291M256 1554q-1 133 -2 266M272 48q-0 169 -1 339M245 672q-2 75 -2 151M273 1503q5 86 8 171" stroke="#a63a12" stroke-width="3.5"/><path d="M266 1738q2 132 -3 263M277 1701q-1 88 0 176M305 381q6 103 8 206M215 763q-5 65 -8 130M302 1630q2 75 -2 150M275 1254q-0 75 -2 150M267 650q2 67 5 134M231 419q0 67 4 135M281 1767q3 122 6 243M296 470q-4 59 -6 118" stroke="#a63a12" stroke-width="4.0"/><path d="M243 435q2 171 -0 342M259 634q-3 43 -4 86M299 33q4 170 5 339M221 1690q2 125 -0 251M246 1477q2 97 2 195M271 506q-1 58 -2 115M278 567q3 79 2 159" stroke="#a63a12" stroke-width="4.5"/></g><rect x="213.6" y="73.5" width="95.1" height="1891.5" filter="url(#gd2)" opacity="0.35"/><rect x="213.6" y="73.5" width="95.1" height="1891.5" filter="url(#gl2)" opacity="0.35"/><g filter="url(#db)"><path d="M297.2 307h0M259 1572.7h0M264.9 1277.8h0M288.1 1050.1h0M243.2 723.2h0M267.2 350.9h0M264.4 918.4h0M235.9 388.8h0M227.9 1247h0M253.7 253.5h0M302.5 1844.1h0M218.8 1478.4h0M286.5 1723.5h0M239.4 1238.3h0M284.8 1182.4h0M283.7 686.3h0M278.8 1354.1h0M226.1 748.7h0M218.5 1089.8h0M277.9 175.1h0M236.3 1794.5h0M266.2 1304.8h0M273.4 1593.8h0M302.6 1156.7h0M284.1 1673h0M262.4 759.9h0M240.4 700.5h0M256.5 1877.6h0M228.5 1792h0M282.5 1545.9h0M276.8 1088.3h0M275.4 173.8h0M251.7 682.3h0M272 1291.1h0M303 141.4h0M305.2 183.6h0M270.8 1680.9h0M296.9 896.9h0M290.8 847.9h0M273.6 1136.4h0M280.1 1626.4h0M219.8 287.5h0M270.4 1052.1h0M245.4 1514.8h0M261.8 564.1h0M273.4 1038.2h0M266.2 916.6h0M243.9 228.8h0M255.9 1577.4h0M251.4 852.7h0M283.5 1511.6h0M302.2 1685.6h0M277.7 511.3h0M294.3 1245.4h0M227.6 1812.6h0M276.2 632.9h0M231.3 1939.6h0M270.5 1146.4h0M219 659.3h0M224.8 1552.8h0M250.6 1612.7h0M294.3 761h0M223.1 175h0M218.2 1341.6h0M231.6 1619.7h0M269.4 1267.1h0M286.4 578h0M253.1 794.9h0M302.7 1034.1h0M285.9 769.3h0M234.3 1221h0M236.2 1572.8h0M218.3 732.3h0M234.4 667.3h0" stroke="#f6c870" stroke-width="1.0" stroke-linecap="round" fill="none" opacity="0.9"/><path d="M265.7 1310.4h0M230.8 1664.6h0M253.8 896.6h0M242.8 705.3h0M270.4 1803.5h0M246.6 567.7h0M296.2 1187.5h0M238 1786.5h0M228.2 949.9h0M291.1 242h0M239 1673.3h0M289.4 901.2h0M257.3 608.6h0M248.8 1826h0M294.3 208.4h0M304.9 192.6h0M294.7 1152h0M229.4 1320.1h0M275.7 140.2h0M217.2 693.9h0M251 1198.4h0M229.9 879h0M276.3 1403.1h0M237.4 1783.3h0M283.7 1436h0M304.5 734.9h0M261.3 470.4h0M265.2 1188.7h0M284.7 1104.8h0M257.7 1639.9h0M267.9 1314.9h0M271.9 1532h0M220.1 881.8h0M255.2 799.6h0M241.5 999.9h0M263 897.9h0M240.8 1168.6h0M296.9 1673.2h0M300.8 369.5h0M289.7 1330.1h0M279.1 938.8h0M252.4 1902.1h0M241.7 1346.9h0M236.2 184.4h0M233.1 961.7h0M281.4 1643.3h0M291.9 1710.6h0M251.7 515h0M306 1516.9h0M265.6 579.7h0M225.9 1490.2h0M298.3 1551.4h0M288.8 1805.8h0M271.5 440.3h0M273.3 1099.4h0M259.4 460.1h0M232.4 705.6h0M286.8 892.6h0M259.7 1944.4h0M292.6 517.5h0M221 1019.4h0M299.6 703.5h0M275.1 998.9h0M274.3 1402.6h0M217.5 799.9h0M287.4 1664.2h0M262.3 831.4h0M242.4 257.8h0M261.2 403.8h0M246.7 329.4h0M240.5 319.5h0M220.9 957h0M274.5 1356.6h0M289.7 1184.7h0M233.5 632.4h0M231.7 805.3h0M268.2 682h0M230.3 198.4h0M222.4 1527.5h0M245.4 1651.2h0M270 452.4h0M279.4 606.4h0M234.7 283h0M249.5 1600.8h0M294.7 578h0M272.1 490.5h0M283.5 1468.2h0M304.4 638.7h0M278.4 1810.2h0M249.1 210.9h0M277.8 246.1h0M272.4 694.6h0M224 1706.6h0M227.8 844.2h0M254.8 404.2h0M232.5 495.5h0M274.1 1600.1h0M219.4 502.9h0M218.9 1651.8h0M237.4 213.4h0M297.5 1357.8h0M295 1481.8h0M223.4 1337.9h0M250.8 1408.3h0M233.7 540.4h0M300.2 292.5h0M218.9 721.2h0M238 156.3h0M273.6 1072.1h0M248.3 1665h0M226.6 1028.1h0M239.3 1817.9h0M238 770h0M252.7 828.6h0M300.2 1772.4h0M255.9 659h0M278 925.9h0M306 1080.7h0M290.8 673h0M270.2 658.5h0M229.2 1674.3h0M303.6 1114.8h0M298.9 1831.4h0M226.5 297.5h0M275.6 385.8h0M301.8 1751.4h0M236.5 1730.8h0M282.5 1398.4h0M241.1 1888.4h0M226.9 1028.7h0M217.5 1700.7h0M264.7 1131.7h0M270.2 540.9h0M257.1 199.4h0M293.6 91.7h0M245.2 172h0M281.3 347.9h0M279.1 1485.1h0M272.2 932.2h0M244.6 1363.2h0M295.7 1336.6h0M235 1398.3h0M255.9 938h0M272.6 88.8h0M304.1 1720.2h0M277.6 365.4h0M239.6 1108.6h0" stroke="#f6c870" stroke-width="1.5" stroke-linecap="round" fill="none" opacity="0.9"/><path d="M249.5 1164h0M245.1 907h0M254.2 1912.9h0M246.7 1654.4h0M246.1 1159.5h0M269.3 1949.8h0M300.6 91.9h0M276.4 1375.4h0M232.9 262.2h0M265.1 1937.8h0M252.4 532.2h0M258 1281.4h0M235.9 1761.4h0M232.6 848.1h0M275.4 568.6h0M284.3 116.1h0M303.2 582.4h0M261.8 535.5h0M279.7 1057.9h0M279.2 1591.4h0M222.9 224h0M280.1 1585.9h0M233.2 298.6h0M285.4 1770.6h0M301.2 1449.6h0M252.6 1662.5h0M275.3 696h0M282 623.4h0M236.7 306.5h0M256.6 218.8h0M270.2 454.8h0M250.4 554.9h0M276.5 1936.3h0M235.2 1607.4h0M266.7 1447.9h0M262.8 1224.2h0M281 927.5h0M247.5 941.7h0M251.8 792.9h0M246 977h0M304.2 617.1h0M219.6 1495.9h0M265.1 1348.8h0M278.2 437.5h0M276.7 1575.3h0M305.9 159.3h0M243.6 1600.5h0M245.6 1627.5h0M290.8 1166.3h0M281 640.7h0M242.2 357.1h0M253.4 277.9h0M282.5 518.7h0M279 1584.5h0M244.5 1188.2h0M298.2 803.7h0M227.1 1124.9h0M238.9 1698.2h0M281.3 855.4h0M283.3 1397.1h0M296.8 1901.8h0M241.7 1830.4h0M269.7 944.6h0M241.6 1421.9h0M267.8 1192.2h0M264.5 834.2h0M268.5 1057.7h0M274.8 1490.7h0M292.1 301.2h0M241.9 139.7h0M256.4 165.5h0M287.5 1003.2h0M295.9 1395.7h0M301.4 1253.2h0M234.8 596.1h0M219.1 283.2h0M247.7 711.8h0M274.4 1675.1h0M281.3 1754.8h0M281.7 1453h0M252.5 1198h0M238.2 290.2h0M224.4 1365.7h0M233 896.8h0M269.3 848.6h0M296.6 646.8h0M295.7 980h0M306.1 200.3h0M229.1 1374.3h0M292.7 1181h0M227 97.6h0M293.2 1663.3h0M257.7 1742.2h0M218.8 1177.1h0M300.5 680.3h0M266.2 1448.3h0M245 1816.8h0M239.9 455.4h0M231.2 560.4h0M237 886.1h0M253.8 407.6h0M230.9 1834.2h0M296.6 812.7h0M229 1787.6h0M261.2 1119.2h0M252.9 1841.3h0M302.5 955.3h0M278.6 1676.2h0M225.4 1326.5h0M304.9 1180.1h0M238.9 1238.6h0" stroke="#f6c870" stroke-width="2.0" stroke-linecap="round" fill="none" opacity="0.9"/><path d="M267.7 1910h0M235.3 339h0M274.7 318h0M277.3 410h0M288.7 405h0M293.7 241h0M302.8 300h0M216.7 1228h0M228.2 656h0M224.2 971h0M260.7 1457h0M221.7 1287h0" stroke="#f6c870" stroke-width="2.5" stroke-linecap="round" fill="none" opacity="0.9"/><path d="M296.3 307h0M258.2 1572.7h0M264.1 1277.8h0M287.3 1050.1h0M242.4 723.2h0M266.4 350.9h0M263.6 918.4h0M235 388.8h0M227 1247h0M252.8 253.5h0M301.6 1844.1h0M217.9 1478.4h0M285.7 1723.5h0M238.6 1238.3h0M283.9 1182.4h0M282.9 686.3h0M278 1354.1h0M225.2 748.7h0M217.6 1089.8h0M277 175.1h0M235.4 1794.5h0M265.4 1304.8h0M272.5 1593.8h0M301.8 1156.7h0M283.3 1673h0M261.5 759.9h0M239.6 700.5h0M255.6 1877.6h0M227.7 1792h0M281.7 1545.9h0M276 1088.3h0M274.5 173.8h0M250.8 682.3h0M271.1 1291.1h0M302.2 141.4h0M304.4 183.6h0M270 1680.9h0M296.1 896.9h0M289.9 847.9h0M272.8 1136.4h0M279.3 1626.4h0M219 287.5h0M269.7 1052.1h0M244.5 1514.8h0M261 564.1h0M272.5 1038.2h0M265.4 916.6h0M243.2 228.8h0M255.1 1577.4h0M250.5 852.7h0M282.6 1511.6h0M301.4 1685.6h0M276.9 511.3h0M293.5 1245.4h0M226.7 1812.6h0M275.4 632.9h0M230.4 1939.6h0M269.7 1146.4h0M218.2 659.3h0M224.1 1552.8h0M249.8 1612.7h0M293.4 761h0M222.2 175h0M217.3 1341.6h0M230.7 1619.7h0M268.6 1267.1h0M285.7 578h0M252.3 794.9h0M302 1034.1h0M285.2 769.3h0M233.5 1221h0M235.4 1572.8h0M217.5 732.3h0M233.5 667.3h0" stroke="#4a1404" stroke-width="1.0" stroke-linecap="round" fill="none" opacity="0.9"/><path d="M264.7 1310.4h0M229.8 1664.6h0M252.7 896.6h0M241.5 705.3h0M269.4 1803.5h0M245.7 567.7h0M295.1 1187.5h0M237.1 1786.5h0M227.1 949.9h0M290 242h0M237.9 1673.3h0M288.2 901.2h0M256.3 608.6h0M247.6 1826h0M293.1 208.4h0M303.9 192.6h0M293.7 1152h0M228.5 1320.1h0M274.5 140.2h0M216 693.9h0M249.8 1198.4h0M228.6 879h0M275.1 1403.1h0M236.3 1783.3h0M282.5 1436h0M303.4 734.9h0M260.2 470.4h0M264.3 1188.7h0M283.5 1104.8h0M256.5 1639.9h0M266.7 1314.9h0M270.8 1532h0M219 881.8h0M254.2 799.6h0M240.4 999.9h0M261.8 897.9h0M239.8 1168.6h0M295.6 1673.2h0M299.7 369.5h0M288.4 1330.1h0M278.1 938.8h0M251.3 1902.1h0M240.5 1346.9h0M235.2 184.4h0M231.9 961.7h0M280.5 1643.3h0M290.7 1710.6h0M250.6 515h0M305.1 1516.9h0M264.7 579.7h0M224.9 1490.2h0M297.2 1551.4h0M287.7 1805.8h0M270.2 440.3h0M272.2 1099.4h0M258.2 460.1h0M231.2 705.6h0M285.8 892.6h0M258.6 1944.4h0M291.5 517.5h0M219.9 1019.4h0M298.6 703.5h0M273.9 998.9h0M273 1402.6h0M216.4 799.9h0M286.4 1664.2h0M261.1 831.4h0M241.4 257.8h0M260.1 403.8h0M245.7 329.4h0M239.3 319.5h0M219.8 957h0M273.3 1356.6h0M288.7 1184.7h0M232.5 632.4h0M230.5 805.3h0M267.2 682h0M229.1 198.4h0M221.4 1527.5h0M244.1 1651.2h0M268.8 452.4h0M278.5 606.4h0M233.6 283h0M248.5 1600.8h0M293.7 578h0M271.2 490.5h0M282.5 1468.2h0M303.3 638.7h0M277.2 1810.2h0M247.9 210.9h0M276.9 246.1h0M271.3 694.6h0M223 1706.6h0M226.6 844.2h0M253.7 404.2h0M231.6 495.5h0M272.9 1600.1h0M218.4 502.9h0M217.7 1651.8h0M236.4 213.4h0M296.2 1357.8h0M293.7 1481.8h0M222.3 1337.9h0M249.7 1408.3h0M232.8 540.4h0M299.1 292.5h0M217.8 721.2h0M236.9 156.3h0M272.3 1072.1h0M247 1665h0M225.6 1028.1h0M238.4 1817.9h0M236.8 770h0M251.7 828.6h0M299.2 1772.4h0M254.8 659h0M276.8 925.9h0M304.9 1080.7h0M289.8 673h0M269.2 658.5h0M228.3 1674.3h0M302.6 1114.8h0M297.8 1831.4h0M225.3 297.5h0M274.4 385.8h0M300.7 1751.4h0M235.5 1730.8h0M281.3 1398.4h0M239.9 1888.4h0M226 1028.7h0M216.3 1700.7h0M263.7 1131.7h0M269.3 540.9h0M256.1 199.4h0M292.5 91.7h0M244.1 172h0M280.3 347.9h0M277.9 1485.1h0M271 932.2h0M243.5 1363.2h0M294.6 1336.6h0M233.9 1398.3h0M254.8 938h0M271.6 88.8h0M302.9 1720.2h0M276.3 365.4h0M238.4 1108.6h0" stroke="#4a1404" stroke-width="1.5" stroke-linecap="round" fill="none" opacity="0.9"/><path d="M248.1 1164h0M243.5 907h0M252.7 1912.9h0M245.3 1654.4h0M244.6 1159.5h0M268 1949.8h0M299.3 91.9h0M274.9 1375.4h0M231.4 262.2h0M263.8 1937.8h0M251 532.2h0M256.6 1281.4h0M234.6 1761.4h0M231.1 848.1h0M273.8 568.6h0M282.8 116.1h0M301.8 582.4h0M260.2 535.5h0M278.4 1057.9h0M277.7 1591.4h0M221.6 224h0M278.7 1585.9h0M231.7 298.6h0M284 1770.6h0M299.8 1449.6h0M251.2 1662.5h0M274 696h0M280.7 623.4h0M235.3 306.5h0M255.1 218.8h0M268.7 454.8h0M249 554.9h0M275 1936.3h0M233.7 1607.4h0M265.3 1447.9h0M261.3 1224.2h0M279.5 927.5h0M246.2 941.7h0M250.4 792.9h0M244.7 977h0M302.7 617.1h0M218.3 1495.9h0M263.7 1348.8h0M276.8 437.5h0M275.3 1575.3h0M304.6 159.3h0M242.1 1600.5h0M244.3 1627.5h0M289.5 1166.3h0M279.8 640.7h0M240.7 357.1h0M252.2 277.9h0M281 518.7h0M277.6 1584.5h0M243.2 1188.2h0M296.9 803.7h0M225.6 1124.9h0M237.4 1698.2h0M279.8 855.4h0M282 1397.1h0M295.5 1901.8h0M240.1 1830.4h0M268.3 944.6h0M240.4 1421.9h0M266.4 1192.2h0M263.1 834.2h0M267.1 1057.7h0M273.3 1490.7h0M290.7 301.2h0M240.5 139.7h0M255 165.5h0M286.2 1003.2h0M294.4 1395.7h0M299.9 1253.2h0M233.4 596.1h0M217.6 283.2h0M246.5 711.8h0M273.1 1675.1h0M280 1754.8h0M280.4 1453h0M251.1 1198h0M236.9 290.2h0M223 1365.7h0M231.6 896.8h0M268 848.6h0M295.2 646.8h0M294.3 980h0M304.7 200.3h0M227.7 1374.3h0M291.3 1181h0M225.7 97.6h0M291.7 1663.3h0M256.2 1742.2h0M217.4 1177.1h0M299 680.3h0M264.8 1448.3h0M243.7 1816.8h0M238.4 455.4h0M229.9 560.4h0M235.7 886.1h0M252.5 407.6h0M229.5 1834.2h0M295.2 812.7h0M227.7 1787.6h0M259.7 1119.2h0M251.5 1841.3h0M301.2 955.3h0M277.1 1676.2h0M224 1326.5h0M303.6 1180.1h0M237.5 1238.6h0" stroke="#4a1404" stroke-width="2.0" stroke-linecap="round" fill="none" opacity="0.9"/><path d="M265.9 1910h0M233.3 339h0M272.9 318h0M275.3 410h0M286.9 405h0M291.9 241h0M300.8 300h0M214.9 1228h0M226.4 656h0M222.4 971h0M258.9 1457h0M219.9 1287h0" stroke="#4a1404" stroke-width="2.5" stroke-linecap="round" fill="none" opacity="0.9"/><g fill="#f8d084" opacity="0.85"><ellipse cx="274.8" cy="368.8" rx="3.3" ry="3.8"/><ellipse cx="227.5" cy="386.0" rx="2.1" ry="3.0"/><ellipse cx="248.5" cy="396.0" rx="2.1" ry="3.0"/><ellipse cx="275.1" cy="401.3" rx="2.1" ry="2.8"/><ellipse cx="250.4" cy="147.0" rx="1.2" ry="2.6"/><ellipse cx="221.5" cy="577.9" rx="2.1" ry="3.0"/><ellipse cx="217.8" cy="546.4" rx="1.8" ry="3.4"/><ellipse cx="257.5" cy="1167.5" rx="2.1" ry="4.7"/><ellipse cx="302.3" cy="1369.3" rx="1.8" ry="3.0"/><ellipse cx="288.9" cy="1570.2" rx="2.0" ry="1.9"/><ellipse cx="221.9" cy="1582.3" rx="1.8" ry="2.5"/><ellipse cx="238.8" cy="1605.2" rx="1.5" ry="2.1"/><ellipse cx="242.8" cy="1904.3" rx="1.8" ry="2.5"/><ellipse cx="257.5" cy="1907.3" rx="2.1" ry="3.0"/><ellipse cx="258.2" cy="339.0" rx="1.0" ry="1.9"/><ellipse cx="279.0" cy="312.2" rx="1.5" ry="2.1"/><ellipse cx="277.8" cy="421.0" rx="1.1" ry="1.9"/><ellipse cx="262.0" cy="539.2" rx="1.5" ry="2.1"/><ellipse cx="300.8" cy="634.0" rx="1.1" ry="3.0"/><ellipse cx="282.4" cy="214.0" rx="1.2" ry="1.9"/><ellipse cx="290.8" cy="226.0" rx="1.1" ry="1.9"/><ellipse cx="299.0" cy="292.3" rx="1.5" ry="2.5"/><ellipse cx="307.0" cy="350.3" rx="1.5" ry="2.5"/><ellipse cx="232.3" cy="1205.2" rx="1.8" ry="1.7"/><ellipse cx="229.2" cy="705.5" rx="1.0" ry="2.2"/><ellipse cx="239.5" cy="1485.0" rx="0.8" ry="2.6"/><ellipse cx="216.8" cy="1633.0" rx="1.1" ry="1.9"/><ellipse cx="248.8" cy="1785.0" rx="1.1" ry="1.9"/><ellipse cx="305.0" cy="1290.4" rx="1.5" ry="3.4"/><ellipse cx="306.0" cy="1262.2" rx="1.5" ry="2.1"/><ellipse cx="305.0" cy="1040.0" rx="1.0" ry="2.8"/><ellipse cx="303.0" cy="1049.8" rx="1.0" ry="3.0"/><ellipse cx="301.3" cy="1061.7" rx="1.3" ry="4.0"/><ellipse cx="300.8" cy="1075.4" rx="1.3" ry="3.1"/><ellipse cx="301.8" cy="1088.7" rx="1.1" ry="3.1"/><ellipse cx="301.2" cy="1098.1" rx="1.2" ry="3.2"/><ellipse cx="299.9" cy="1108.1" rx="1.1" ry="3.6"/><ellipse cx="300.3" cy="1123.5" rx="1.3" ry="4.1"/><ellipse cx="301.4" cy="1140.9" rx="0.9" ry="3.9"/><ellipse cx="301.6" cy="1155.5" rx="1.2" ry="3.3"/><ellipse cx="302.5" cy="1167.9" rx="1.0" ry="2.8"/><ellipse cx="302.8" cy="1181.1" rx="1.3" ry="2.8"/><ellipse cx="303.4" cy="1190.1" rx="1.3" ry="3.4"/><ellipse cx="302.3" cy="1202.5" rx="1.0" ry="3.4"/><ellipse cx="304.3" cy="1216.1" rx="1.2" ry="3.8"/><ellipse cx="302.4" cy="1227.7" rx="1.1" ry="2.0"/><ellipse cx="303.3" cy="1236.2" rx="1.2" ry="3.0"/><ellipse cx="302.0" cy="1248.2" rx="0.9" ry="3.5"/><ellipse cx="301.9" cy="1260.8" rx="1.1" ry="3.8"/><ellipse cx="301.5" cy="1272.5" rx="0.8" ry="3.1"/><ellipse cx="300.1" cy="1283.9" rx="1.1" ry="3.2"/><ellipse cx="298.2" cy="1297.9" rx="0.9" ry="3.8"/><ellipse cx="298.6" cy="1314.9" rx="1.0" ry="4.0"/><ellipse cx="297.3" cy="1331.9" rx="1.0" ry="2.7"/><ellipse cx="296.7" cy="1345.9" rx="0.9" ry="2.9"/><ellipse cx="298.5" cy="1358.4" rx="1.2" ry="3.4"/><ellipse cx="299.1" cy="1373.8" rx="1.3" ry="3.6"/><ellipse cx="298.4" cy="1388.9" rx="0.9" ry="2.3"/><ellipse cx="300.2" cy="1400.3" rx="1.1" ry="3.2"/><ellipse cx="299.7" cy="1414.5" rx="1.1" ry="2.0"/><ellipse cx="300.2" cy="1424.4" rx="1.2" ry="3.4"/><ellipse cx="299.3" cy="1437.1" rx="1.2" ry="3.2"/><ellipse cx="299.7" cy="1448.9" rx="1.2" ry="2.1"/><ellipse cx="299.1" cy="1461.2" rx="1.0" ry="4.1"/><ellipse cx="300.5" cy="1474.4" rx="0.9" ry="2.1"/><ellipse cx="299.0" cy="1483.5" rx="0.8" ry="2.6"/><ellipse cx="298.5" cy="1496.4" rx="1.3" ry="3.0"/><ellipse cx="298.1" cy="1507.6" rx="1.3" ry="4.2"/><ellipse cx="297.1" cy="1524.1" rx="0.9" ry="4.4"/><ellipse cx="295.8" cy="1541.9" rx="1.2" ry="3.2"/><ellipse cx="295.0" cy="1554.3" rx="0.9" ry="1.9"/><ellipse cx="297.5" cy="1563.3" rx="0.9" ry="2.8"/><ellipse cx="298.8" cy="1574.6" rx="1.3" ry="3.5"/><ellipse cx="300.0" cy="1588.6" rx="1.2" ry="2.4"/><ellipse cx="300.7" cy="1600.0" rx="1.0" ry="3.4"/><ellipse cx="301.4" cy="1611.3" rx="1.1" ry="2.8"/><ellipse cx="302.1" cy="1624.6" rx="1.2" ry="4.1"/><ellipse cx="301.9" cy="1640.7" rx="0.8" ry="2.8"/><ellipse cx="302.1" cy="1654.8" rx="1.2" ry="2.6"/><ellipse cx="301.6" cy="1663.3" rx="0.9" ry="4.3"/><ellipse cx="301.1" cy="1679.3" rx="1.1" ry="3.7"/><ellipse cx="300.4" cy="1695.4" rx="1.3" ry="2.4"/><ellipse cx="299.6" cy="1708.8" rx="1.3" ry="1.9"/><ellipse cx="299.1" cy="1716.2" rx="1.3" ry="2.9"/><ellipse cx="298.4" cy="1730.0" rx="1.2" ry="2.8"/><ellipse cx="297.7" cy="1744.1" rx="1.0" ry="2.5"/><ellipse cx="297.5" cy="1752.1" rx="1.0" ry="2.8"/></g><g fill="#3c0e02" opacity="0.9"><ellipse cx="269.1" cy="367.9" rx="3.4" ry="4.0"/><ellipse cx="223.9" cy="385.2" rx="2.2" ry="3.1"/><ellipse cx="244.9" cy="395.2" rx="2.2" ry="3.1"/><ellipse cx="271.5" cy="400.7" rx="2.2" ry="3.0"/><ellipse cx="248.1" cy="147.0" rx="1.3" ry="2.8"/><ellipse cx="217.9" cy="577.1" rx="2.2" ry="3.1"/><ellipse cx="214.6" cy="545.6" rx="1.9" ry="3.6"/><ellipse cx="253.9" cy="1166.5" rx="2.2" ry="5.0"/><ellipse cx="299.1" cy="1368.7" rx="1.9" ry="3.1"/><ellipse cx="285.5" cy="1569.8" rx="2.0" ry="2.0"/><ellipse cx="218.7" cy="1581.7" rx="1.9" ry="2.7"/><ellipse cx="236.1" cy="1604.8" rx="1.6" ry="2.2"/><ellipse cx="239.6" cy="1903.7" rx="1.9" ry="2.7"/><ellipse cx="253.9" cy="1906.7" rx="2.2" ry="3.1"/><ellipse cx="256.3" cy="339.0" rx="1.1" ry="2.0"/><ellipse cx="276.4" cy="311.8" rx="1.6" ry="2.2"/><ellipse cx="275.7" cy="421.0" rx="1.2" ry="2.0"/><ellipse cx="259.4" cy="538.8" rx="1.6" ry="2.2"/><ellipse cx="298.7" cy="634.0" rx="1.2" ry="3.2"/><ellipse cx="280.1" cy="214.0" rx="1.3" ry="2.0"/><ellipse cx="288.7" cy="226.0" rx="1.2" ry="2.0"/><ellipse cx="296.4" cy="291.7" rx="1.6" ry="2.7"/><ellipse cx="304.4" cy="349.7" rx="1.6" ry="2.7"/><ellipse cx="229.1" cy="1204.8" rx="1.9" ry="1.8"/><ellipse cx="227.3" cy="705.5" rx="1.1" ry="2.4"/><ellipse cx="238.0" cy="1485.0" rx="0.9" ry="2.8"/><ellipse cx="214.7" cy="1633.0" rx="1.2" ry="2.0"/><ellipse cx="246.7" cy="1785.0" rx="1.2" ry="2.0"/><ellipse cx="302.4" cy="1289.6" rx="1.6" ry="3.6"/><ellipse cx="303.4" cy="1261.8" rx="1.6" ry="2.2"/><ellipse cx="303.1" cy="1040.0" rx="1.1" ry="3.0"/><ellipse cx="301.0" cy="1049.8" rx="1.1" ry="3.2"/><ellipse cx="298.9" cy="1061.7" rx="1.4" ry="4.3"/><ellipse cx="298.4" cy="1075.4" rx="1.4" ry="3.3"/><ellipse cx="299.6" cy="1088.7" rx="1.2" ry="3.3"/><ellipse cx="298.9" cy="1098.1" rx="1.3" ry="3.5"/><ellipse cx="297.8" cy="1108.1" rx="1.2" ry="3.9"/><ellipse cx="297.8" cy="1123.5" rx="1.4" ry="4.4"/><ellipse cx="299.6" cy="1140.9" rx="1.0" ry="4.2"/><ellipse cx="299.4" cy="1155.5" rx="1.3" ry="3.5"/><ellipse cx="300.7" cy="1167.9" rx="1.0" ry="3.0"/><ellipse cx="300.3" cy="1181.1" rx="1.4" ry="3.0"/><ellipse cx="301.0" cy="1190.1" rx="1.4" ry="3.6"/><ellipse cx="300.4" cy="1202.5" rx="1.1" ry="3.6"/><ellipse cx="302.0" cy="1216.1" rx="1.3" ry="4.0"/><ellipse cx="300.4" cy="1227.7" rx="1.1" ry="2.1"/><ellipse cx="301.1" cy="1236.2" rx="1.3" ry="3.1"/><ellipse cx="300.3" cy="1248.2" rx="1.0" ry="3.7"/><ellipse cx="299.8" cy="1260.8" rx="1.2" ry="4.0"/><ellipse cx="299.9" cy="1272.5" rx="0.9" ry="3.3"/><ellipse cx="298.0" cy="1283.9" rx="1.2" ry="3.4"/><ellipse cx="296.5" cy="1297.9" rx="1.0" ry="4.1"/><ellipse cx="296.6" cy="1314.9" rx="1.1" ry="4.2"/><ellipse cx="295.3" cy="1331.9" rx="1.1" ry="2.8"/><ellipse cx="294.9" cy="1345.9" rx="1.0" ry="3.1"/><ellipse cx="296.3" cy="1358.4" rx="1.3" ry="3.7"/><ellipse cx="296.6" cy="1373.8" rx="1.4" ry="3.8"/><ellipse cx="296.7" cy="1388.9" rx="1.0" ry="2.4"/><ellipse cx="298.1" cy="1400.3" rx="1.2" ry="3.4"/><ellipse cx="297.6" cy="1414.5" rx="1.2" ry="2.2"/><ellipse cx="298.0" cy="1424.4" rx="1.3" ry="3.6"/><ellipse cx="297.1" cy="1437.1" rx="1.3" ry="3.5"/><ellipse cx="297.5" cy="1448.9" rx="1.3" ry="2.3"/><ellipse cx="297.2" cy="1461.2" rx="1.1" ry="4.4"/><ellipse cx="298.8" cy="1474.4" rx="1.0" ry="2.2"/><ellipse cx="297.4" cy="1483.5" rx="0.9" ry="2.8"/><ellipse cx="296.1" cy="1496.4" rx="1.4" ry="3.2"/><ellipse cx="295.7" cy="1507.6" rx="1.4" ry="4.5"/><ellipse cx="295.3" cy="1524.1" rx="1.0" ry="4.6"/><ellipse cx="293.5" cy="1541.9" rx="1.3" ry="3.4"/><ellipse cx="293.2" cy="1554.3" rx="1.0" ry="2.0"/><ellipse cx="295.7" cy="1563.3" rx="1.0" ry="2.9"/><ellipse cx="296.4" cy="1574.6" rx="1.4" ry="3.7"/><ellipse cx="297.7" cy="1588.6" rx="1.3" ry="2.5"/><ellipse cx="298.7" cy="1600.0" rx="1.1" ry="3.6"/><ellipse cx="299.3" cy="1611.3" rx="1.2" ry="3.0"/><ellipse cx="299.7" cy="1624.6" rx="1.4" ry="4.4"/><ellipse cx="300.3" cy="1640.7" rx="0.9" ry="3.0"/><ellipse cx="299.9" cy="1654.8" rx="1.3" ry="2.8"/><ellipse cx="299.9" cy="1663.3" rx="1.0" ry="4.6"/><ellipse cx="299.0" cy="1679.3" rx="1.2" ry="3.9"/><ellipse cx="297.9" cy="1695.4" rx="1.4" ry="2.6"/><ellipse cx="297.1" cy="1708.8" rx="1.4" ry="2.0"/><ellipse cx="296.7" cy="1716.2" rx="1.4" ry="3.1"/><ellipse cx="296.1" cy="1730.0" rx="1.3" ry="2.9"/><ellipse cx="295.8" cy="1744.1" rx="1.1" ry="2.7"/><ellipse cx="295.6" cy="1752.1" rx="1.0" ry="3.0"/></g></g><path d="M213.6 1846c3 3 6 6 12 7 6 0 10 1 14 2 5 0 9 1 11 2l-3 3c-5 0-9 2-14 2-5 1-10 4-15 4-2 1-3 2-5 2z" fill="#fff4e0"/><path d="M220 1853l4 6M227 1854l3 6M234 1855l3 6M241 1856l2 4M247 1857l2 3" stroke="#3a1206" stroke-width="1.6" fill="none" opacity="0.8"/><path d="M216 1862l5 -3M224 1864l5 -2" stroke="#777" stroke-width="1.5" fill="none"/></g>
<path d="M48.0 1888.8H86.5" stroke="#000" stroke-width="3.2" fill="none"/><path d="M48.0 1880.05V1897.55M86.5 1880.05V1897.55" stroke="#000" stroke-width="3.6" fill="none"/>
<text x="18.3" y="1941.7" class="bc" font-size="38.7" clip-path="url(#cs1x)">2 µm</text>
<path d="M241.7 1888.8H280.3" stroke="#000" stroke-width="3.2" fill="none"/><path d="M241.7 1880.05V1897.55M280.3 1880.05V1897.55" stroke="#000" stroke-width="3.6" fill="none"/>
<text x="212.3" y="1941.7" class="bc" font-size="38.7" clip-path="url(#cs2x)">2 µm</text>
<rect x="18.15" y="71.85" width="98.20" height="1894.70" fill="none" stroke="#000" stroke-width="3.3"/>
<rect x="211.85" y="71.85" width="98.50" height="1894.70" fill="none" stroke="#000" stroke-width="3.3"/>
<rect x="6.5" y="642.2" width="124.5" height="186.2" fill="none" stroke="#000" stroke-width="6.3" stroke-dasharray="13 13.65" stroke-dashoffset="0"/>
<rect x="200.5" y="644.2" width="123.1" height="184.2" fill="none" stroke="#000" stroke-width="6.3" stroke-dasharray="13 13.65" stroke-dashoffset="0"/>
<rect x="419.0" y="160.7" width="669.4" height="822.7" fill="none" stroke="#000" stroke-width="6.3" stroke-dasharray="13 13.65" stroke-dashoffset="0"/>
<rect x="1137.5" y="160.7" width="669.0" height="822.7" fill="none" stroke="#000" stroke-width="6.3" stroke-dasharray="13 13.65" stroke-dashoffset="0"/>
<g>
<rect x="453.0" y="191" width="372.8" height="13" fill="url(#ba0)"/>
<rect x="453.0" y="191" width="372.8" height="13" fill="url(#ba1)" mask="url(#vf)"/>
<rect x="453.0" y="204" width="372.8" height="75" fill="url(#ba1)"/>
<rect x="453.0" y="204" width="372.8" height="75" fill="url(#ba2)" mask="url(#vf)"/>
<rect x="453.0" y="279" width="372.8" height="79" fill="url(#ba2)"/>
<rect x="453.0" y="279" width="372.8" height="79" fill="url(#ba3)" mask="url(#vf)"/>
<rect x="453.0" y="358" width="372.8" height="79" fill="url(#ba3)"/>
<rect x="453.0" y="358" width="372.8" height="79" fill="url(#ba4)" mask="url(#vf)"/>
<rect x="453.0" y="437" width="372.8" height="79" fill="url(#ba4)"/>
<rect x="453.0" y="437" width="372.8" height="79" fill="url(#ba5)" mask="url(#vf)"/>
<rect x="453.0" y="516" width="372.8" height="79" fill="url(#ba5)"/>
<rect x="453.0" y="516" width="372.8" height="79" fill="url(#ba6)" mask="url(#vf)"/>
<rect x="453.0" y="595" width="372.8" height="79" fill="url(#ba6)"/>
<rect x="453.0" y="595" width="372.8" height="79" fill="url(#ba7)" mask="url(#vf)"/>
<rect x="453.0" y="674" width="372.8" height="80" fill="url(#ba7)"/>
<rect x="453.0" y="674" width="372.8" height="80" fill="url(#ba8)" mask="url(#vf)"/>
<rect x="453.0" y="754" width="372.8" height="79" fill="url(#ba8)"/>
<rect x="453.0" y="754" width="372.8" height="79" fill="url(#ba9)" mask="url(#vf)"/>
<rect x="453.0" y="833" width="372.8" height="79" fill="url(#ba9)"/>
<rect x="453.0" y="833" width="372.8" height="79" fill="url(#ba10)" mask="url(#vf)"/>
<rect x="453.0" y="912" width="372.8" height="36" fill="url(#ba10)"/>
<rect x="453.0" y="912" width="372.8" height="36" fill="url(#ba11)" mask="url(#vf)"/>
</g>
<g clip-path="url(#cb1)"><ellipse cx="830" cy="390" rx="28" ry="115" fill="url(#dk)" opacity="0.5"/><rect x="453.0" y="191.0" width="372.8" height="757.5" filter="url(#nh)" opacity="0.1"/><rect x="453.0" y="191.0" width="372.8" height="757.5" filter="url(#nl)" opacity="0.1"/><path d="M516.6 597.6h0" stroke="#f7cc78" stroke-width="3.0" stroke-linecap="round" fill="none" opacity="0.8"/><path d="M474 670h0M459.9 540.6h0M484 681.9h0M489.5 530.1h0M499 852h0M517.4 285h0M497.7 597.3h0M497.9 909.8h0M613.2 223.9h0M617.4 530.7h0M618.5 655.3h0M639.2 888.2h0M725.8 936.9h0M740.8 672.7h0M754.4 276.2h0M773.1 887.7h0M784.8 487h0M771.6 691.6h0M813.9 879.1h0" stroke="#f7cc78" stroke-width="3.5" stroke-linecap="round" fill="none" opacity="0.8"/><path d="M468.1 432.5h0M472.2 794.3h0M481.3 238.6h0M474.5 725.7h0M511.6 943.8h0M515.6 434.5h0M509.4 523.5h0M513.3 677.2h0M525.6 814.7h0M532 646.2h0M572.2 212.7h0M609.1 807.1h0M615.8 901.8h0M608.6 497.7h0M612.7 894h0M594.8 813.1h0M609 233.1h0M601.3 404.5h0M634.5 310.5h0M719 753.9h0M703.3 809.5h0M701.2 578.8h0M662.9 440.8h0M712.4 707.4h0M743.3 328.6h0M723.1 487.4h0M726.2 690.7h0M744.2 410.2h0M754.8 496.8h0M746.2 560.5h0M737.9 417.4h0M792.1 315.9h0M778.8 329.5h0M781.3 864.9h0M778.1 852h0M813 823h0M803.9 620.5h0" stroke="#f7cc78" stroke-width="4.0" stroke-linecap="round" fill="none" opacity="0.8"/><path d="M508.4 464.1h0M510 807.9h0M504.2 564.9h0M503.6 737.6h0M528 333.2h0M554.7 537.8h0M570.6 862.3h0M670.9 281.8h0M714.3 715.6h0M708.2 437.1h0M724.2 238.3h0M752.5 782.1h0M750.5 438.8h0M743.3 234.6h0M781.2 488.1h0M819.9 313.7h0M810.4 810.1h0M805.3 399.5h0" stroke="#f7cc78" stroke-width="4.5" stroke-linecap="round" fill="none" opacity="0.8"/><g fill="url(#dy)"><ellipse cx="507.3" cy="204.7" rx="6.1" ry="6.1"/><ellipse cx="461.0" cy="548.7" rx="5.4" ry="5.4"/><ellipse cx="511.7" cy="557.5" rx="4.7" ry="4.7"/><ellipse cx="791.0" cy="208.7" rx="8.1" ry="9.5"/><ellipse cx="514.0" cy="685.8" rx="6.1" ry="6.1"/><ellipse cx="515.0" cy="668.0" rx="4.7" ry="4.7"/><ellipse cx="515.0" cy="602.0" rx="4.7" ry="8.1"/><ellipse cx="512.8" cy="575.5" rx="4.7" ry="4.7"/><ellipse cx="456.6" cy="775.2" rx="6.1" ry="7.4"/><ellipse cx="456.6" cy="802.8" rx="4.1" ry="4.1"/><ellipse cx="617.7" cy="861.3" rx="6.8" ry="6.8"/><ellipse cx="693.9" cy="849.2" rx="6.8" ry="10.8"/><ellipse cx="605.6" cy="923.1" rx="6.1" ry="6.1"/><ellipse cx="617.7" cy="939.7" rx="6.8" ry="6.8"/><ellipse cx="616.6" cy="705.7" rx="4.7" ry="4.7"/><ellipse cx="621.0" cy="816.0" rx="4.7" ry="4.7"/><ellipse cx="480.0" cy="418.0" rx="4.7" ry="4.7"/><ellipse cx="483.0" cy="438.0" rx="4.1" ry="4.1"/><ellipse cx="478.0" cy="350.0" rx="4.1" ry="4.1"/><ellipse cx="560.0" cy="322.0" rx="4.1" ry="4.1"/><ellipse cx="520.0" cy="345.0" rx="4.1" ry="4.1"/><ellipse cx="712.0" cy="222.0" rx="4.7" ry="4.7"/><ellipse cx="716.0" cy="250.0" rx="4.1" ry="4.1"/><ellipse cx="720.0" cy="280.0" rx="4.1" ry="4.1"/><ellipse cx="640.0" cy="310.0" rx="3.4" ry="3.4"/><ellipse cx="770.0" cy="400.0" rx="5.4" ry="6.8"/><ellipse cx="775.0" cy="425.0" rx="4.7" ry="5.4"/><ellipse cx="778.0" cy="452.0" rx="4.7" ry="4.7"/><ellipse cx="772.0" cy="480.0" rx="4.7" ry="5.4"/><ellipse cx="780.0" cy="510.0" rx="4.1" ry="4.1"/><ellipse cx="808.0" cy="330.0" rx="4.1" ry="4.1"/><ellipse cx="812.0" cy="385.0" rx="4.1" ry="4.1"/><ellipse cx="800.0" cy="270.0" rx="4.1" ry="4.1"/><ellipse cx="484.7" cy="509.3" rx="3.7" ry="3.8"/><ellipse cx="469.5" cy="560.2" rx="5.2" ry="7.0"/><ellipse cx="467.6" cy="868.1" rx="4.9" ry="5.3"/><ellipse cx="465.0" cy="765.9" rx="4.8" ry="5.5"/><ellipse cx="477.1" cy="233.2" rx="3.7" ry="4.3"/><ellipse cx="483.4" cy="833.3" rx="4.5" ry="5.6"/><ellipse cx="476.3" cy="938.4" rx="3.3" ry="3.6"/><ellipse cx="470.1" cy="244.3" rx="3.1" ry="4.1"/><ellipse cx="468.0" cy="876.8" rx="4.7" ry="5.8"/><ellipse cx="460.1" cy="318.9" rx="3.6" ry="4.6"/><ellipse cx="479.6" cy="747.5" rx="5.2" ry="6.0"/><ellipse cx="463.7" cy="462.5" rx="4.8" ry="6.2"/><ellipse cx="479.7" cy="677.5" rx="5.3" ry="6.0"/><ellipse cx="475.6" cy="750.2" rx="5.2" ry="5.9"/><ellipse cx="481.4" cy="766.4" rx="3.6" ry="4.5"/><ellipse cx="467.7" cy="469.5" rx="2.7" ry="3.6"/><ellipse cx="483.3" cy="822.0" rx="4.5" ry="6.1"/><ellipse cx="481.7" cy="337.2" rx="4.6" ry="5.3"/><ellipse cx="479.2" cy="522.8" rx="3.2" ry="3.9"/><ellipse cx="478.2" cy="432.0" rx="2.9" ry="3.8"/><ellipse cx="485.4" cy="419.9" rx="3.6" ry="3.7"/><ellipse cx="467.7" cy="451.4" rx="4.5" ry="6.2"/><ellipse cx="469.8" cy="664.6" rx="3.0" ry="3.8"/><ellipse cx="480.0" cy="595.3" rx="5.1" ry="6.0"/><ellipse cx="474.9" cy="407.7" rx="3.8" ry="5.3"/><ellipse cx="471.3" cy="567.9" rx="4.3" ry="5.0"/><ellipse cx="485.0" cy="608.1" rx="5.3" ry="7.3"/><ellipse cx="478.1" cy="428.6" rx="5.2" ry="5.7"/><ellipse cx="475.5" cy="642.1" rx="5.2" ry="6.3"/><ellipse cx="471.0" cy="363.7" rx="4.5" ry="5.4"/><ellipse cx="463.2" cy="300.8" rx="5.2" ry="7.1"/><ellipse cx="471.8" cy="922.7" rx="3.3" ry="3.4"/><ellipse cx="502.7" cy="553.3" rx="5.1" ry="5.9"/><ellipse cx="519.6" cy="231.3" rx="4.1" ry="4.7"/><ellipse cx="506.5" cy="821.0" rx="2.4" ry="3.3"/><ellipse cx="507.6" cy="919.3" rx="3.1" ry="4.1"/><ellipse cx="500.2" cy="701.2" rx="3.0" ry="3.9"/><ellipse cx="497.1" cy="857.0" rx="3.2" ry="3.6"/><ellipse cx="504.6" cy="240.6" rx="4.0" ry="5.1"/><ellipse cx="501.3" cy="621.5" rx="4.1" ry="5.1"/><ellipse cx="505.9" cy="843.5" rx="3.3" ry="3.5"/><ellipse cx="513.8" cy="359.1" rx="4.7" ry="5.2"/><ellipse cx="507.8" cy="603.4" rx="2.6" ry="3.3"/><ellipse cx="506.9" cy="478.5" rx="5.1" ry="5.6"/><ellipse cx="490.4" cy="697.1" rx="3.7" ry="3.8"/><ellipse cx="489.4" cy="910.9" rx="5.0" ry="6.9"/><ellipse cx="501.5" cy="901.2" rx="3.1" ry="3.9"/><ellipse cx="519.5" cy="636.0" rx="3.6" ry="3.9"/><ellipse cx="516.0" cy="406.1" rx="3.3" ry="3.7"/><ellipse cx="492.3" cy="437.0" rx="4.8" ry="5.9"/><ellipse cx="519.4" cy="565.6" rx="3.2" ry="4.2"/><ellipse cx="505.3" cy="322.3" rx="3.1" ry="3.7"/><ellipse cx="509.0" cy="704.8" rx="2.5" ry="3.3"/><ellipse cx="485.9" cy="612.9" rx="3.8" ry="4.4"/><ellipse cx="502.1" cy="696.3" rx="4.6" ry="6.2"/><ellipse cx="496.0" cy="246.0" rx="3.4" ry="4.1"/><ellipse cx="516.1" cy="682.4" rx="3.1" ry="3.4"/><ellipse cx="508.4" cy="697.4" rx="4.7" ry="5.6"/><ellipse cx="520.2" cy="248.6" rx="3.1" ry="4.2"/><ellipse cx="502.6" cy="768.5" rx="4.2" ry="5.0"/><ellipse cx="519.5" cy="728.8" rx="4.1" ry="4.1"/><ellipse cx="514.8" cy="782.1" rx="4.3" ry="5.3"/><ellipse cx="504.3" cy="809.6" rx="3.1" ry="3.6"/><ellipse cx="502.4" cy="915.5" rx="3.5" ry="4.3"/><ellipse cx="512.1" cy="930.9" rx="4.5" ry="5.4"/><ellipse cx="520.4" cy="644.9" rx="3.9" ry="4.6"/><ellipse cx="494.4" cy="903.0" rx="5.3" ry="6.7"/><ellipse cx="496.2" cy="914.6" rx="2.7" ry="3.7"/><ellipse cx="491.2" cy="642.8" rx="2.5" ry="3.3"/><ellipse cx="525.8" cy="365.7" rx="3.1" ry="3.8"/><ellipse cx="513.8" cy="302.3" rx="4.6" ry="5.4"/><ellipse cx="538.7" cy="310.4" rx="5.0" ry="5.3"/><ellipse cx="513.5" cy="605.4" rx="5.3" ry="5.6"/><ellipse cx="531.7" cy="664.1" rx="5.0" ry="6.4"/><ellipse cx="528.7" cy="219.0" rx="3.3" ry="4.5"/><ellipse cx="508.9" cy="422.0" rx="2.7" ry="3.4"/><ellipse cx="518.7" cy="490.5" rx="5.0" ry="5.1"/><ellipse cx="526.3" cy="751.7" rx="3.6" ry="3.9"/><ellipse cx="537.2" cy="909.3" rx="4.2" ry="4.6"/><ellipse cx="517.6" cy="495.5" rx="4.1" ry="5.1"/><ellipse cx="530.9" cy="272.8" rx="2.8" ry="3.3"/><ellipse cx="536.2" cy="627.9" rx="4.8" ry="5.5"/><ellipse cx="537.9" cy="828.8" rx="2.9" ry="3.7"/><ellipse cx="517.2" cy="761.0" rx="4.4" ry="6.1"/><ellipse cx="543.1" cy="564.9" rx="3.4" ry="3.6"/><ellipse cx="537.4" cy="587.0" rx="3.4" ry="4.5"/><ellipse cx="517.4" cy="231.4" rx="5.0" ry="6.4"/><ellipse cx="540.4" cy="902.5" rx="4.3" ry="5.4"/><ellipse cx="522.2" cy="722.8" rx="5.1" ry="7.0"/><ellipse cx="521.3" cy="378.4" rx="3.6" ry="5.0"/><ellipse cx="517.3" cy="334.4" rx="3.4" ry="4.5"/><ellipse cx="524.9" cy="608.3" rx="4.7" ry="6.3"/><ellipse cx="520.9" cy="384.9" rx="5.2" ry="6.2"/><ellipse cx="537.4" cy="243.3" rx="2.9" ry="3.8"/><ellipse cx="536.0" cy="228.7" rx="3.9" ry="4.1"/><ellipse cx="565.5" cy="808.1" rx="2.9" ry="3.3"/><ellipse cx="577.2" cy="403.3" rx="3.7" ry="4.4"/><ellipse cx="562.4" cy="569.4" rx="3.6" ry="4.8"/><ellipse cx="565.1" cy="290.3" rx="5.0" ry="5.8"/><ellipse cx="548.9" cy="947.0" rx="4.3" ry="4.7"/><ellipse cx="562.5" cy="674.6" rx="4.6" ry="4.8"/><ellipse cx="569.6" cy="330.5" rx="3.5" ry="4.1"/><ellipse cx="552.1" cy="464.1" rx="5.3" ry="6.3"/><ellipse cx="561.2" cy="630.7" rx="4.0" ry="4.3"/><ellipse cx="561.8" cy="768.4" rx="4.4" ry="5.1"/><ellipse cx="553.8" cy="796.5" rx="5.4" ry="6.4"/><ellipse cx="565.5" cy="485.1" rx="5.4" ry="7.0"/><ellipse cx="576.2" cy="293.6" rx="3.9" ry="4.5"/><ellipse cx="583.2" cy="446.6" rx="4.1" ry="4.5"/><ellipse cx="564.5" cy="526.7" rx="5.0" ry="6.5"/><ellipse cx="549.5" cy="647.8" rx="3.7" ry="5.2"/><ellipse cx="555.3" cy="415.3" rx="5.1" ry="5.6"/><ellipse cx="612.3" cy="334.1" rx="3.6" ry="4.6"/><ellipse cx="611.8" cy="503.1" rx="2.5" ry="3.3"/><ellipse cx="599.5" cy="229.9" rx="3.8" ry="4.3"/><ellipse cx="608.3" cy="837.6" rx="4.0" ry="5.4"/><ellipse cx="613.1" cy="937.3" rx="4.7" ry="6.4"/><ellipse cx="611.2" cy="903.7" rx="4.1" ry="5.5"/><ellipse cx="609.4" cy="355.2" rx="4.3" ry="4.4"/><ellipse cx="612.9" cy="425.4" rx="3.4" ry="4.5"/><ellipse cx="617.5" cy="854.1" rx="3.7" ry="5.0"/><ellipse cx="600.1" cy="510.8" rx="3.8" ry="4.3"/><ellipse cx="610.8" cy="647.3" rx="3.0" ry="3.7"/><ellipse cx="611.8" cy="302.9" rx="3.5" ry="3.8"/><ellipse cx="616.9" cy="320.0" rx="3.1" ry="4.2"/><ellipse cx="620.2" cy="849.1" rx="3.1" ry="3.4"/><ellipse cx="607.7" cy="355.3" rx="2.4" ry="3.2"/><ellipse cx="604.9" cy="786.6" rx="3.5" ry="4.6"/><ellipse cx="624.2" cy="565.3" rx="4.2" ry="5.0"/><ellipse cx="611.2" cy="754.9" rx="4.1" ry="4.4"/><ellipse cx="623.9" cy="321.6" rx="4.3" ry="5.6"/><ellipse cx="605.4" cy="312.3" rx="5.2" ry="6.0"/><ellipse cx="619.4" cy="888.1" rx="4.9" ry="6.0"/><ellipse cx="601.1" cy="232.2" rx="3.7" ry="4.7"/><ellipse cx="606.4" cy="543.8" rx="4.2" ry="5.4"/><ellipse cx="613.2" cy="226.1" rx="5.0" ry="5.2"/><ellipse cx="615.7" cy="455.8" rx="3.4" ry="4.7"/><ellipse cx="626.3" cy="689.3" rx="3.7" ry="4.2"/><ellipse cx="617.3" cy="712.4" rx="5.1" ry="6.6"/><ellipse cx="606.3" cy="822.0" rx="4.8" ry="5.9"/><ellipse cx="606.1" cy="482.4" rx="4.8" ry="4.9"/><ellipse cx="611.2" cy="441.0" rx="4.2" ry="4.9"/><ellipse cx="613.8" cy="636.8" rx="5.1" ry="7.0"/><ellipse cx="624.3" cy="413.7" rx="5.0" ry="6.1"/><ellipse cx="603.9" cy="495.2" rx="5.2" ry="7.2"/><ellipse cx="611.6" cy="505.6" rx="3.0" ry="4.1"/><ellipse cx="614.5" cy="217.7" rx="4.1" ry="4.5"/><ellipse cx="609.6" cy="194.0" rx="3.7" ry="5.2"/><ellipse cx="598.7" cy="720.5" rx="5.0" ry="6.5"/><ellipse cx="636.3" cy="380.5" rx="4.7" ry="6.1"/><ellipse cx="663.4" cy="218.7" rx="2.8" ry="3.3"/><ellipse cx="635.7" cy="893.3" rx="4.4" ry="5.6"/><ellipse cx="647.7" cy="238.5" rx="5.1" ry="6.6"/><ellipse cx="651.5" cy="354.3" rx="4.1" ry="4.8"/><ellipse cx="657.4" cy="812.7" rx="5.2" ry="6.3"/><ellipse cx="627.3" cy="590.3" rx="2.7" ry="3.6"/><ellipse cx="648.1" cy="350.3" rx="4.7" ry="5.5"/><ellipse cx="628.4" cy="922.0" rx="3.8" ry="4.4"/><ellipse cx="658.8" cy="505.3" rx="3.1" ry="4.0"/><ellipse cx="634.5" cy="921.0" rx="2.8" ry="3.8"/><ellipse cx="634.8" cy="253.9" rx="4.1" ry="4.3"/><ellipse cx="621.8" cy="767.8" rx="4.6" ry="6.1"/><ellipse cx="662.1" cy="520.4" rx="3.2" ry="4.2"/><ellipse cx="646.3" cy="491.7" rx="2.6" ry="3.6"/><ellipse cx="644.6" cy="349.1" rx="4.9" ry="6.2"/><ellipse cx="632.2" cy="906.0" rx="4.1" ry="5.5"/><ellipse cx="654.2" cy="500.7" rx="5.2" ry="6.5"/><ellipse cx="635.3" cy="602.8" rx="3.5" ry="3.5"/><ellipse cx="646.5" cy="222.3" rx="3.7" ry="4.3"/><ellipse cx="650.4" cy="937.0" rx="5.1" ry="6.2"/><ellipse cx="689.8" cy="853.9" rx="3.7" ry="4.2"/><ellipse cx="690.4" cy="431.6" rx="2.6" ry="3.3"/><ellipse cx="733.6" cy="865.2" rx="4.3" ry="4.8"/><ellipse cx="664.5" cy="900.8" rx="3.0" ry="3.4"/><ellipse cx="680.2" cy="681.8" rx="4.5" ry="5.4"/><ellipse cx="680.3" cy="809.5" rx="3.1" ry="3.6"/><ellipse cx="668.5" cy="398.1" rx="3.4" ry="3.8"/><ellipse cx="682.9" cy="451.5" rx="4.4" ry="5.6"/><ellipse cx="671.5" cy="360.0" rx="5.4" ry="6.6"/><ellipse cx="694.6" cy="768.1" rx="2.8" ry="3.5"/><ellipse cx="682.1" cy="527.1" rx="4.9" ry="5.7"/><ellipse cx="656.2" cy="750.7" rx="3.2" ry="3.9"/><ellipse cx="678.0" cy="507.5" rx="5.3" ry="7.1"/><ellipse cx="692.3" cy="860.2" rx="4.1" ry="4.7"/><ellipse cx="694.0" cy="485.2" rx="4.9" ry="6.0"/><ellipse cx="671.5" cy="722.9" rx="3.6" ry="3.8"/><ellipse cx="690.2" cy="616.1" rx="4.7" ry="6.6"/><ellipse cx="675.0" cy="558.0" rx="3.7" ry="4.1"/><ellipse cx="687.5" cy="439.3" rx="3.2" ry="4.5"/><ellipse cx="710.8" cy="273.2" rx="4.1" ry="4.9"/><ellipse cx="713.2" cy="228.0" rx="5.4" ry="7.2"/><ellipse cx="713.2" cy="780.8" rx="4.4" ry="5.1"/><ellipse cx="732.2" cy="735.3" rx="5.0" ry="6.6"/><ellipse cx="728.6" cy="745.4" rx="5.1" ry="6.7"/><ellipse cx="725.6" cy="262.3" rx="3.5" ry="4.4"/><ellipse cx="709.6" cy="355.1" rx="4.0" ry="4.6"/><ellipse cx="720.2" cy="641.2" rx="3.7" ry="4.3"/><ellipse cx="715.8" cy="778.2" rx="4.2" ry="5.2"/><ellipse cx="718.5" cy="685.9" rx="4.9" ry="6.4"/><ellipse cx="722.9" cy="527.4" rx="4.9" ry="6.3"/><ellipse cx="728.8" cy="923.4" rx="3.8" ry="4.7"/><ellipse cx="723.9" cy="737.1" rx="4.7" ry="5.2"/><ellipse cx="726.1" cy="618.3" rx="4.8" ry="6.6"/><ellipse cx="716.8" cy="742.4" rx="4.1" ry="5.0"/><ellipse cx="721.6" cy="269.3" rx="4.1" ry="4.1"/><ellipse cx="724.2" cy="769.8" rx="4.6" ry="4.6"/><ellipse cx="714.9" cy="411.3" rx="4.9" ry="5.1"/><ellipse cx="732.7" cy="506.9" rx="5.3" ry="5.4"/><ellipse cx="714.3" cy="365.0" rx="3.3" ry="4.2"/><ellipse cx="730.0" cy="508.2" rx="4.5" ry="6.1"/><ellipse cx="725.7" cy="385.1" rx="4.2" ry="4.4"/><ellipse cx="731.6" cy="450.3" rx="3.1" ry="4.3"/><ellipse cx="709.7" cy="405.0" rx="3.9" ry="4.7"/><ellipse cx="733.7" cy="841.7" rx="3.8" ry="5.2"/><ellipse cx="726.1" cy="512.4" rx="3.1" ry="3.8"/><ellipse cx="721.0" cy="946.4" rx="3.4" ry="4.7"/><ellipse cx="707.7" cy="245.8" rx="2.4" ry="3.3"/><ellipse cx="730.3" cy="292.1" rx="3.1" ry="3.6"/><ellipse cx="722.3" cy="294.8" rx="4.1" ry="4.9"/><ellipse cx="718.0" cy="472.9" rx="3.4" ry="4.5"/><ellipse cx="727.9" cy="930.3" rx="3.2" ry="3.4"/><ellipse cx="731.9" cy="485.2" rx="3.5" ry="4.3"/><ellipse cx="726.1" cy="667.6" rx="3.8" ry="4.2"/><ellipse cx="730.0" cy="613.8" rx="3.6" ry="3.7"/><ellipse cx="729.5" cy="452.4" rx="5.1" ry="6.9"/><ellipse cx="723.4" cy="455.9" rx="4.0" ry="4.6"/><ellipse cx="728.1" cy="711.7" rx="4.1" ry="5.2"/><ellipse cx="730.8" cy="723.9" rx="5.0" ry="5.6"/><ellipse cx="721.6" cy="784.7" rx="4.9" ry="5.7"/><ellipse cx="718.0" cy="609.7" rx="4.7" ry="6.2"/><ellipse cx="736.6" cy="202.8" rx="3.6" ry="3.8"/><ellipse cx="730.5" cy="288.1" rx="4.4" ry="5.1"/><ellipse cx="748.7" cy="728.3" rx="4.7" ry="6.4"/><ellipse cx="748.0" cy="884.5" rx="3.5" ry="4.6"/><ellipse cx="752.3" cy="592.4" rx="5.0" ry="5.3"/><ellipse cx="752.0" cy="737.0" rx="2.7" ry="3.4"/><ellipse cx="750.8" cy="818.2" rx="2.7" ry="3.8"/><ellipse cx="743.7" cy="515.9" rx="5.2" ry="5.9"/><ellipse cx="744.4" cy="520.5" rx="4.2" ry="4.5"/><ellipse cx="747.4" cy="449.6" rx="4.6" ry="5.3"/><ellipse cx="742.9" cy="204.5" rx="4.7" ry="5.5"/><ellipse cx="744.7" cy="516.6" rx="5.3" ry="5.9"/><ellipse cx="753.7" cy="484.6" rx="3.5" ry="4.3"/><ellipse cx="746.2" cy="870.7" rx="4.6" ry="5.3"/><ellipse cx="739.9" cy="453.9" rx="4.5" ry="5.4"/><ellipse cx="751.4" cy="661.8" rx="3.9" ry="4.6"/><ellipse cx="762.0" cy="938.9" rx="2.9" ry="4.0"/><ellipse cx="745.7" cy="427.0" rx="3.8" ry="4.3"/><ellipse cx="754.7" cy="639.0" rx="3.9" ry="4.6"/><ellipse cx="743.6" cy="521.7" rx="4.7" ry="5.1"/><ellipse cx="740.8" cy="255.0" rx="3.5" ry="4.4"/><ellipse cx="758.4" cy="883.1" rx="5.0" ry="5.6"/><ellipse cx="750.2" cy="281.8" rx="3.4" ry="4.5"/><ellipse cx="749.7" cy="459.5" rx="4.0" ry="4.4"/><ellipse cx="748.6" cy="488.8" rx="4.8" ry="5.9"/><ellipse cx="753.6" cy="296.0" rx="4.4" ry="5.2"/><ellipse cx="750.6" cy="229.4" rx="5.2" ry="5.6"/><ellipse cx="748.3" cy="269.1" rx="3.2" ry="4.2"/><ellipse cx="745.3" cy="755.8" rx="4.2" ry="5.4"/><ellipse cx="746.6" cy="762.6" rx="5.2" ry="5.9"/><ellipse cx="756.6" cy="673.0" rx="3.4" ry="3.5"/><ellipse cx="741.8" cy="674.3" rx="4.8" ry="5.5"/><ellipse cx="752.1" cy="722.1" rx="3.3" ry="3.6"/><ellipse cx="776.9" cy="286.8" rx="2.8" ry="3.7"/><ellipse cx="781.6" cy="380.0" rx="4.7" ry="5.9"/><ellipse cx="782.6" cy="820.8" rx="3.9" ry="5.0"/><ellipse cx="777.4" cy="254.6" rx="5.0" ry="6.0"/><ellipse cx="777.4" cy="289.7" rx="5.1" ry="6.1"/><ellipse cx="781.9" cy="471.1" rx="4.9" ry="6.4"/><ellipse cx="775.0" cy="611.0" rx="3.3" ry="4.3"/><ellipse cx="780.4" cy="702.1" rx="4.8" ry="5.5"/><ellipse cx="791.2" cy="607.2" rx="2.9" ry="3.4"/><ellipse cx="776.3" cy="804.7" rx="4.2" ry="5.2"/><ellipse cx="778.2" cy="872.5" rx="4.8" ry="5.6"/><ellipse cx="782.9" cy="854.6" rx="5.3" ry="7.3"/><ellipse cx="767.6" cy="499.8" rx="4.0" ry="4.2"/><ellipse cx="778.4" cy="388.1" rx="5.0" ry="6.7"/><ellipse cx="774.5" cy="883.1" rx="3.5" ry="4.1"/><ellipse cx="787.8" cy="329.5" rx="4.8" ry="6.5"/><ellipse cx="785.7" cy="599.2" rx="4.8" ry="5.1"/><ellipse cx="766.9" cy="323.6" rx="3.9" ry="4.6"/><ellipse cx="784.9" cy="834.0" rx="3.6" ry="3.8"/><ellipse cx="794.3" cy="395.0" rx="5.0" ry="6.7"/><ellipse cx="794.6" cy="536.2" rx="2.9" ry="3.3"/><ellipse cx="779.6" cy="634.7" rx="2.7" ry="3.3"/><ellipse cx="787.4" cy="932.4" rx="5.1" ry="5.9"/><ellipse cx="784.8" cy="617.7" rx="4.6" ry="4.8"/><ellipse cx="769.5" cy="730.2" rx="5.4" ry="5.7"/><ellipse cx="761.3" cy="443.1" rx="5.0" ry="5.5"/><ellipse cx="784.9" cy="218.1" rx="4.4" ry="5.2"/><ellipse cx="775.1" cy="522.0" rx="4.8" ry="5.5"/><ellipse cx="768.0" cy="814.1" rx="4.8" ry="6.2"/><ellipse cx="780.3" cy="227.3" rx="3.6" ry="4.3"/><ellipse cx="784.8" cy="317.8" rx="4.2" ry="5.5"/><ellipse cx="774.9" cy="516.8" rx="3.1" ry="3.6"/><ellipse cx="815.9" cy="914.0" rx="4.3" ry="5.8"/><ellipse cx="817.5" cy="838.8" rx="2.7" ry="3.7"/><ellipse cx="804.9" cy="273.4" rx="4.0" ry="4.7"/><ellipse cx="799.9" cy="673.4" rx="4.4" ry="4.5"/><ellipse cx="815.3" cy="643.9" rx="3.9" ry="4.5"/><ellipse cx="805.1" cy="863.9" rx="3.1" ry="4.1"/><ellipse cx="792.7" cy="819.3" rx="3.6" ry="3.9"/><ellipse cx="801.5" cy="616.9" rx="4.0" ry="5.1"/><ellipse cx="815.4" cy="565.3" rx="3.7" ry="3.8"/><ellipse cx="800.1" cy="408.9" rx="4.0" ry="4.3"/><ellipse cx="795.3" cy="587.3" rx="2.8" ry="3.6"/><ellipse cx="800.2" cy="461.8" rx="2.3" ry="3.2"/><ellipse cx="813.4" cy="225.3" rx="3.0" ry="3.9"/><ellipse cx="816.5" cy="630.0" rx="3.9" ry="4.5"/><ellipse cx="806.5" cy="692.4" rx="3.5" ry="4.7"/><ellipse cx="805.3" cy="947.2" rx="4.6" ry="5.3"/><ellipse cx="809.6" cy="405.5" rx="3.1" ry="3.4"/><ellipse cx="787.5" cy="356.0" rx="2.7" ry="3.7"/><ellipse cx="798.8" cy="568.5" rx="5.1" ry="6.3"/><ellipse cx="807.1" cy="861.8" rx="4.0" ry="4.5"/><ellipse cx="811.1" cy="724.5" rx="3.7" ry="3.9"/><ellipse cx="810.5" cy="784.4" rx="4.7" ry="4.7"/><ellipse cx="800.1" cy="766.0" rx="5.4" ry="6.9"/><ellipse cx="809.9" cy="292.9" rx="3.1" ry="4.0"/></g><g fill="url(#dw)"><ellipse cx="502.5" cy="248.4" rx="11.5" ry="12.2"/><ellipse cx="480.8" cy="226.8" rx="6.8" ry="6.8"/><ellipse cx="497.0" cy="222.0" rx="4.7" ry="4.7"/><ellipse cx="477.5" cy="252.8" rx="5.4" ry="5.4"/><ellipse cx="477.1" cy="304.0" rx="6.8" ry="6.8"/><ellipse cx="508.9" cy="302.5" rx="6.1" ry="8.1"/><ellipse cx="655.9" cy="265.6" rx="6.5" ry="6.5"/><ellipse cx="663.0" cy="315.0" rx="7.4" ry="7.4"/><ellipse cx="541.0" cy="336.3" rx="6.5" ry="6.5"/><ellipse cx="724.3" cy="336.3" rx="6.1" ry="6.8"/><ellipse cx="527.0" cy="378.7" rx="4.7" ry="4.7"/><ellipse cx="550.4" cy="403.0" rx="7.4" ry="7.4"/><ellipse cx="729.2" cy="375.4" rx="6.8" ry="6.8"/><ellipse cx="511.7" cy="448.2" rx="7.4" ry="14.9"/><ellipse cx="725.9" cy="467.0" rx="7.4" ry="8.1"/><ellipse cx="733.6" cy="504.5" rx="6.8" ry="6.1"/><ellipse cx="733.6" cy="530.0" rx="6.8" ry="8.1"/><ellipse cx="731.4" cy="563.0" rx="6.8" ry="6.8"/><ellipse cx="745.7" cy="567.4" rx="4.7" ry="4.7"/><ellipse cx="549.9" cy="785.2" rx="8.1" ry="8.1"/><ellipse cx="764.0" cy="760.9" rx="5.4" ry="6.8"/><ellipse cx="764.5" cy="831.5" rx="6.1" ry="10.8"/><ellipse cx="666.3" cy="617.8" rx="4.7" ry="6.1"/><ellipse cx="528.3" cy="830.4" rx="6.8" ry="6.8"/><ellipse cx="533.8" cy="895.5" rx="5.4" ry="5.4"/><ellipse cx="543.8" cy="922.0" rx="6.8" ry="10.8"/><ellipse cx="731.4" cy="670.4" rx="5.4" ry="5.4"/><ellipse cx="749.0" cy="738.8" rx="4.7" ry="4.7"/><ellipse cx="754.6" cy="723.4" rx="4.1" ry="4.1"/><ellipse cx="751.3" cy="860.2" rx="4.7" ry="4.7"/></g></g>
<g>
<rect x="1166.8" y="191" width="373.2" height="11" fill="url(#bb0)"/>
<rect x="1166.8" y="191" width="373.2" height="11" fill="url(#bb1)" mask="url(#vf)"/>
<rect x="1166.8" y="202" width="373.2" height="110" fill="url(#bb1)"/>
<rect x="1166.8" y="202" width="373.2" height="110" fill="url(#bb2)" mask="url(#vf)"/>
<rect x="1166.8" y="312" width="373.2" height="111" fill="url(#bb2)"/>
<rect x="1166.8" y="312" width="373.2" height="111" fill="url(#bb3)" mask="url(#vf)"/>
<rect x="1166.8" y="423" width="373.2" height="132" fill="url(#bb3)"/>
<rect x="1166.8" y="423" width="373.2" height="132" fill="url(#bb4)" mask="url(#vf)"/>
<rect x="1166.8" y="555" width="373.2" height="145" fill="url(#bb4)"/>
<rect x="1166.8" y="555" width="373.2" height="145" fill="url(#bb5)" mask="url(#vf)"/>
<rect x="1166.8" y="700" width="373.2" height="150" fill="url(#bb5)"/>
<rect x="1166.8" y="700" width="373.2" height="150" fill="url(#bb6)" mask="url(#vf)"/>
<rect x="1166.8" y="850" width="373.2" height="98" fill="url(#bb6)"/>
<rect x="1166.8" y="850" width="373.2" height="98" fill="url(#bb7)" mask="url(#vf)"/>
</g>
<g clip-path="url(#cb2)"><g fill="none" opacity="0.2" filter="url(#bl2)"><path d="M1290 327q-3 271 -5 541M1376 660q-2 288 4 575M1169 341q-1 224 7 449M1271 413q1 121 1 241" stroke="#eeaa52" stroke-width="4.5"/><path d="M1198 710q2 206 10 412M1516 506q-2 178 4 356M1191 202q7 153 10 306M1446 190q-5 236 -10 472" stroke="#eeaa52" stroke-width="5.0"/><path d="M1480 256q14 279 29 558M1495 500q5 163 8 326" stroke="#eeaa52" stroke-width="5.5"/><path d="M1224 861q-2 94 -3 188" stroke="#eeaa52" stroke-width="6.0"/><path d="M1537 830q0 95 -3 190M1245 631q-4 179 -1 358M1460 641q-5 146 -7 291" stroke="#eeaa52" stroke-width="6.5"/><path d="M1469 647q-1 146 0 291M1424 252q-2 251 -1 501M1490 270q13 202 17 403M1505 494q-7 208 -15 416M1336 896q-6 194 -14 388" stroke="#eeaa52" stroke-width="7.0"/><path d="M1354 348q-7 251 -10 503" stroke="#eeaa52" stroke-width="7.5"/><path d="M1354 366q-1 91 -2 182M1268 820q1 150 6 301M1534 472q3 176 11 352" stroke="#eeaa52" stroke-width="8.0"/><path d="M1447 866q-9 228 -9 456" stroke="#eeaa52" stroke-width="8.5"/><path d="M1280 723q-1 215 -3 430M1318 862q-1 81 1 162" stroke="#eeaa52" stroke-width="9.0"/><path d="M1409 665q5 201 2 402M1446 839q-2 112 -5 225" stroke="#eeaa52" stroke-width="9.5"/><path d="M1490 587q-6 110 -7 220M1220 255q-3 241 1 482" stroke="#eeaa52" stroke-width="10.0"/><path d="M1316 194q-4 102 -5 204M1462 511q-1 171 1 342M1282 229q2 124 4 248M1188 266q4 201 3 403" stroke="#eeaa52" stroke-width="10.5"/><path d="M1416 838q-0 155 -4 310" stroke="#eeaa52" stroke-width="11.0"/><path d="M1472 497q-1 102 -2 203M1486 668q-3 287 -15 575" stroke="#eeaa52" stroke-width="11.5"/><path d="M1199 831q-3 210 -2 420M1251 442q0 294 6 588" stroke="#eeaa52" stroke-width="12.0"/><path d="M1263 271q-2 155 -4 311M1481 650q2 82 4 163M1167 575q1 187 0 375" stroke="#eeaa52" stroke-width="12.5"/><path d="M1239 640q5 248 1 496" stroke="#eeaa52" stroke-width="13.0"/><path d="M1370 667q-3 151 -11 302M1169 839q-6 151 -10 302M1518 170q-1 265 4 530" stroke="#eeaa52" stroke-width="13.5"/><path d="M1228 679q3 97 2 194" stroke="#b04a18" stroke-width="4.0"/><path d="M1401 366q0 154 2 308" stroke="#b04a18" stroke-width="4.5"/><path d="M1446 183q1 212 3 423M1296 432q3 155 2 310" stroke="#b04a18" stroke-width="5.0"/><path d="M1220 597q-2 98 -7 196M1532 167q-2 194 -2 387M1347 814q-1 208 -8 416" stroke="#b04a18" stroke-width="6.0"/><path d="M1254 451q10 139 18 279" stroke="#b04a18" stroke-width="6.5"/><path d="M1192 322q1 265 0 530M1297 908q4 152 8 305M1412 646q11 215 15 430" stroke="#b04a18" stroke-width="7.5"/><path d="M1532 799q5 297 1 594" stroke="#b04a18" stroke-width="8.0"/><path d="M1311 456q-1 174 -3 348" stroke="#b04a18" stroke-width="9.0"/><path d="M1431 683q2 151 8 302" stroke="#b04a18" stroke-width="9.5"/><path d="M1381 925q0 105 2 209" stroke="#b04a18" stroke-width="10.0"/><path d="M1398 794q-15 219 -20 437" stroke="#b04a18" stroke-width="10.5"/><path d="M1365 669q4 227 11 454M1254 816q0 121 7 241M1261 723q3 179 4 358M1186 730q-0 117 3 234" stroke="#b04a18" stroke-width="11.0"/><path d="M1519 437q-3 148 -3 295" stroke="#b04a18" stroke-width="11.5"/><path d="M1354 242q4 104 6 208M1171 278q-4 80 -3 160" stroke="#b04a18" stroke-width="12.5"/><path d="M1535 736q-2 215 -8 431" stroke="#b04a18" stroke-width="13.0"/></g><rect x="1166.8" y="191.2" width="373.2" height="756.8" filter="url(#gd3)" opacity="0.5"/><rect x="1166.8" y="191.2" width="373.2" height="756.8" filter="url(#gl3)" opacity="0.5"/><g filter="url(#db)"><path d="M1188.6 670.2h0M1174.5 540.8h0M1198.6 682.1h0M1204.1 530.3h0M1213.5 852.2h0M1212.5 910h0M1231.1 597.8h0M1331.9 530.9h0M1333.1 655.5h0M1440.3 937.1h0M1469 276.4h0M1487.6 887.9h0M1499.5 487.2h0M1486.2 691.8h0M1528.5 879.3h0" stroke="#f6c870" stroke-width="2.0" stroke-linecap="round" fill="none" opacity="0.9"/><path d="M1182.7 432.7h0M1186.8 794.5h0M1196 238.8h0M1189.2 725.9h0M1223.2 464.3h0M1224.7 808.1h0M1219 565.1h0M1226.4 944h0M1232.1 285.2h0M1212.4 597.5h0M1230.4 434.7h0M1224.2 523.7h0M1218.4 737.8h0M1227.9 677.4h0M1240.3 814.9h0M1246.7 646.4h0M1286.8 212.9h0M1285.4 862.5h0M1323.8 807.3h0M1330.5 902h0M1323.3 497.9h0M1327.3 894.2h0M1327.8 224.1h0M1309.5 813.3h0M1323.6 233.3h0M1316 404.7h0M1353.9 888.4h0M1349.2 310.7h0M1433.8 754.1h0M1418.1 809.7h0M1415.9 579h0M1377.6 441h0M1427.1 707.6h0M1458 328.8h0M1437.7 487.6h0M1429.1 715.8h0M1423 437.3h0M1439 238.5h0M1440.9 690.9h0M1455.4 672.9h0M1459 410.4h0M1458.1 234.8h0M1469.5 497h0M1460.9 560.7h0M1452.6 417.6h0M1506.8 316.1h0M1493.5 329.7h0M1496 865.1h0M1492.8 852.2h0M1527.7 823.2h0M1518.6 620.7h0M1520 399.7h0" stroke="#f6c870" stroke-width="2.5" stroke-linecap="round" fill="none" opacity="0.9"/><path d="M1242.8 333.4h0M1269.5 538h0M1385.7 282h0M1467.4 782.3h0M1465.3 439h0M1496 488.3h0M1534.7 313.9h0M1525.2 810.3h0" stroke="#f6c870" stroke-width="3.0" stroke-linecap="round" fill="none" opacity="0.9"/><path d="M1187 670.2h0M1172.9 540.8h0M1197 682.1h0M1202.5 530.3h0M1212 852.2h0M1210.9 910h0M1229.6 597.8h0M1330.4 530.9h0M1331.6 655.5h0M1438.8 937.1h0M1467.5 276.4h0M1486.1 887.9h0M1497.8 487.2h0M1484.6 691.8h0M1527 879.3h0" stroke="#4a1404" stroke-width="2.0" stroke-linecap="round" fill="none" opacity="0.9"/><path d="M1181 432.7h0M1185.1 794.5h0M1194.2 238.8h0M1187.4 725.9h0M1221.2 464.3h0M1222.8 808.1h0M1217 565.1h0M1224.5 944h0M1230.4 285.2h0M1210.7 597.5h0M1228.5 434.7h0M1222.3 523.7h0M1216.4 737.8h0M1226.2 677.4h0M1238.4 814.9h0M1244.9 646.4h0M1285.1 212.9h0M1283.4 862.5h0M1322.1 807.3h0M1328.8 902h0M1321.6 497.9h0M1325.6 894.2h0M1326.2 224.1h0M1307.7 813.3h0M1321.9 233.3h0M1314.3 404.7h0M1352.2 888.4h0M1347.4 310.7h0M1431.9 754.1h0M1416.2 809.7h0M1414.1 579h0M1375.8 441h0M1425.3 707.6h0M1456.2 328.8h0M1436 487.6h0M1427.1 715.8h0M1421 437.3h0M1437 238.5h0M1439 690.9h0M1453.7 672.9h0M1457.1 410.4h0M1456.1 234.8h0M1467.7 497h0M1459.1 560.7h0M1450.8 417.6h0M1505 316.1h0M1491.7 329.7h0M1494.1 865.1h0M1491.1 852.2h0M1525.9 823.2h0M1516.8 620.7h0M1518.1 399.7h0" stroke="#4a1404" stroke-width="2.5" stroke-linecap="round" fill="none" opacity="0.9"/><path d="M1240.7 333.4h0M1267.4 538h0M1383.7 282h0M1465.3 782.3h0M1463.3 439h0M1494 488.3h0M1532.6 313.9h0M1523.1 810.3h0" stroke="#4a1404" stroke-width="3.0" stroke-linecap="round" fill="none" opacity="0.9"/><g fill="#f8d084" opacity="0.85"><ellipse cx="1220.5" cy="249.5" rx="5.1" ry="7.6"/><ellipse cx="1197.1" cy="227.5" rx="3.0" ry="4.2"/><ellipse cx="1212.5" cy="222.5" rx="2.1" ry="3.0"/><ellipse cx="1223.3" cy="205.3" rx="2.7" ry="3.8"/><ellipse cx="1193.3" cy="253.4" rx="2.4" ry="3.4"/><ellipse cx="1193.4" cy="304.7" rx="3.0" ry="4.2"/><ellipse cx="1224.9" cy="303.3" rx="2.7" ry="5.1"/><ellipse cx="1372.1" cy="266.3" rx="2.9" ry="4.1"/><ellipse cx="1379.5" cy="315.8" rx="3.3" ry="4.7"/><ellipse cx="1257.2" cy="337.0" rx="2.9" ry="4.1"/><ellipse cx="1440.3" cy="337.0" rx="2.7" ry="4.2"/><ellipse cx="1242.5" cy="379.2" rx="2.1" ry="3.0"/><ellipse cx="1266.9" cy="403.8" rx="3.3" ry="4.7"/><ellipse cx="1445.5" cy="376.1" rx="3.0" ry="4.2"/><ellipse cx="1228.2" cy="449.5" rx="3.3" ry="9.3"/><ellipse cx="1442.4" cy="467.8" rx="3.3" ry="5.1"/><ellipse cx="1449.9" cy="505.1" rx="3.0" ry="3.8"/><ellipse cx="1449.9" cy="530.8" rx="3.0" ry="5.1"/><ellipse cx="1447.7" cy="563.7" rx="3.0" ry="4.2"/><ellipse cx="1461.2" cy="567.9" rx="2.1" ry="3.0"/><ellipse cx="1176.8" cy="549.3" rx="2.4" ry="3.4"/><ellipse cx="1227.2" cy="558.1" rx="2.1" ry="3.0"/><ellipse cx="1507.8" cy="209.6" rx="3.6" ry="6.0"/><ellipse cx="1266.7" cy="786.0" rx="3.6" ry="5.1"/><ellipse cx="1479.8" cy="761.6" rx="2.4" ry="4.2"/><ellipse cx="1480.5" cy="832.5" rx="2.7" ry="6.8"/><ellipse cx="1381.8" cy="618.5" rx="2.1" ry="3.8"/><ellipse cx="1230.0" cy="686.5" rx="2.7" ry="3.8"/><ellipse cx="1230.5" cy="668.6" rx="2.1" ry="3.0"/><ellipse cx="1230.5" cy="602.8" rx="2.1" ry="5.1"/><ellipse cx="1228.3" cy="576.1" rx="2.1" ry="3.0"/><ellipse cx="1172.7" cy="776.0" rx="2.7" ry="4.7"/><ellipse cx="1171.9" cy="803.0" rx="1.7" ry="2.2"/><ellipse cx="1244.6" cy="831.1" rx="3.0" ry="4.2"/><ellipse cx="1334.0" cy="862.0" rx="3.0" ry="4.2"/><ellipse cx="1410.2" cy="850.2" rx="3.0" ry="6.8"/><ellipse cx="1249.6" cy="896.1" rx="2.4" ry="3.4"/><ellipse cx="1260.1" cy="923.0" rx="3.0" ry="6.8"/><ellipse cx="1321.7" cy="923.8" rx="2.7" ry="3.8"/><ellipse cx="1334.0" cy="940.4" rx="3.0" ry="4.2"/><ellipse cx="1447.2" cy="671.0" rx="2.4" ry="3.4"/><ellipse cx="1464.5" cy="739.4" rx="2.1" ry="3.0"/><ellipse cx="1469.9" cy="723.6" rx="1.7" ry="2.2"/><ellipse cx="1332.2" cy="706.3" rx="2.1" ry="3.0"/><ellipse cx="1336.5" cy="816.6" rx="2.1" ry="3.0"/><ellipse cx="1466.8" cy="860.8" rx="2.1" ry="3.0"/><ellipse cx="1195.5" cy="418.6" rx="2.1" ry="3.0"/><ellipse cx="1198.3" cy="438.2" rx="1.7" ry="2.2"/><ellipse cx="1193.3" cy="350.2" rx="1.7" ry="2.2"/><ellipse cx="1275.3" cy="322.2" rx="1.7" ry="2.2"/><ellipse cx="1235.3" cy="345.2" rx="1.7" ry="2.2"/><ellipse cx="1427.5" cy="222.5" rx="2.1" ry="3.0"/><ellipse cx="1431.3" cy="250.2" rx="1.7" ry="2.2"/><ellipse cx="1435.3" cy="280.2" rx="1.7" ry="2.2"/><ellipse cx="1355.0" cy="310.2" rx="1.4" ry="1.9"/><ellipse cx="1485.8" cy="400.7" rx="2.4" ry="4.2"/><ellipse cx="1490.5" cy="425.6" rx="2.1" ry="3.4"/><ellipse cx="1493.5" cy="452.6" rx="2.1" ry="3.0"/><ellipse cx="1487.5" cy="480.6" rx="2.1" ry="3.4"/><ellipse cx="1495.3" cy="510.2" rx="1.7" ry="2.2"/><ellipse cx="1523.3" cy="330.2" rx="1.7" ry="2.2"/><ellipse cx="1527.3" cy="385.2" rx="1.7" ry="2.2"/><ellipse cx="1515.3" cy="270.2" rx="1.7" ry="2.2"/><ellipse cx="1199.9" cy="509.5" rx="1.5" ry="2.1"/><ellipse cx="1185.2" cy="560.9" rx="2.3" ry="4.4"/><ellipse cx="1183.3" cy="868.7" rx="2.2" ry="3.3"/><ellipse cx="1180.6" cy="766.5" rx="2.1" ry="3.4"/><ellipse cx="1192.3" cy="233.4" rx="1.5" ry="2.4"/><ellipse cx="1198.8" cy="833.5" rx="1.8" ry="3.1"/><ellipse cx="1191.3" cy="938.6" rx="1.3" ry="2.0"/><ellipse cx="1185.1" cy="244.5" rx="1.3" ry="2.3"/><ellipse cx="1183.6" cy="877.5" rx="2.1" ry="3.6"/><ellipse cx="1175.2" cy="319.1" rx="1.5" ry="2.6"/><ellipse cx="1195.3" cy="748.2" rx="2.3" ry="3.8"/><ellipse cx="1179.3" cy="463.2" rx="2.1" ry="3.9"/><ellipse cx="1195.5" cy="678.1" rx="2.3" ry="3.8"/><ellipse cx="1191.4" cy="750.9" rx="2.3" ry="3.7"/><ellipse cx="1196.6" cy="766.6" rx="1.5" ry="2.5"/><ellipse cx="1182.5" cy="469.7" rx="1.1" ry="2.0"/><ellipse cx="1198.8" cy="822.2" rx="1.8" ry="3.4"/><ellipse cx="1197.2" cy="337.8" rx="2.1" ry="3.3"/><ellipse cx="1194.2" cy="523.0" rx="1.3" ry="2.2"/><ellipse cx="1193.1" cy="432.2" rx="1.2" ry="2.1"/><ellipse cx="1200.5" cy="420.1" rx="1.5" ry="2.1"/><ellipse cx="1183.2" cy="451.6" rx="1.8" ry="3.4"/><ellipse cx="1184.7" cy="664.8" rx="1.2" ry="2.1"/><ellipse cx="1195.6" cy="595.9" rx="2.3" ry="3.8"/><ellipse cx="1190.1" cy="407.9" rx="1.6" ry="2.9"/><ellipse cx="1186.7" cy="568.1" rx="1.7" ry="2.8"/><ellipse cx="1200.8" cy="608.8" rx="2.4" ry="4.6"/><ellipse cx="1193.8" cy="429.2" rx="2.3" ry="3.6"/><ellipse cx="1191.2" cy="642.7" rx="2.3" ry="4.0"/><ellipse cx="1186.4" cy="363.9" rx="1.8" ry="3.0"/><ellipse cx="1178.9" cy="301.5" rx="2.3" ry="4.5"/><ellipse cx="1186.8" cy="922.9" rx="1.4" ry="1.9"/><ellipse cx="1218.4" cy="553.9" rx="2.3" ry="3.7"/><ellipse cx="1234.9" cy="231.5" rx="1.7" ry="2.6"/><ellipse cx="1221.2" cy="821.2" rx="1.0" ry="1.9"/><ellipse cx="1222.5" cy="919.5" rx="1.3" ry="2.3"/><ellipse cx="1215.1" cy="701.4" rx="1.2" ry="2.1"/><ellipse cx="1212.1" cy="857.2" rx="1.3" ry="2.0"/><ellipse cx="1219.9" cy="240.8" rx="1.6" ry="2.8"/><ellipse cx="1216.7" cy="621.7" rx="1.7" ry="2.8"/><ellipse cx="1220.9" cy="843.7" rx="1.3" ry="1.9"/><ellipse cx="1229.3" cy="359.7" rx="2.1" ry="3.3"/><ellipse cx="1222.5" cy="603.6" rx="1.1" ry="1.8"/><ellipse cx="1222.6" cy="479.1" rx="2.3" ry="3.5"/><ellipse cx="1205.6" cy="697.3" rx="1.5" ry="2.1"/><ellipse cx="1205.0" cy="911.6" rx="2.2" ry="4.4"/><ellipse cx="1216.5" cy="901.4" rx="1.3" ry="2.2"/><ellipse cx="1234.6" cy="636.2" rx="1.5" ry="2.2"/><ellipse cx="1231.0" cy="406.3" rx="1.3" ry="2.1"/><ellipse cx="1207.9" cy="437.7" rx="2.2" ry="3.7"/><ellipse cx="1234.4" cy="565.8" rx="1.3" ry="2.4"/><ellipse cx="1220.2" cy="322.5" rx="1.2" ry="2.0"/><ellipse cx="1223.8" cy="705.0" rx="1.0" ry="1.8"/><ellipse cx="1201.1" cy="613.1" rx="1.6" ry="2.5"/><ellipse cx="1217.7" cy="696.9" rx="2.1" ry="3.9"/><ellipse cx="1211.1" cy="246.2" rx="1.4" ry="2.3"/><ellipse cx="1231.1" cy="682.6" rx="1.2" ry="1.9"/><ellipse cx="1224.0" cy="698.0" rx="2.1" ry="3.5"/><ellipse cx="1235.1" cy="248.8" rx="1.2" ry="2.3"/><ellipse cx="1218.0" cy="768.7" rx="1.7" ry="2.8"/><ellipse cx="1234.8" cy="729.0" rx="1.7" ry="2.3"/><ellipse cx="1230.1" cy="782.3" rx="1.7" ry="3.0"/><ellipse cx="1219.3" cy="809.8" rx="1.3" ry="2.0"/><ellipse cx="1217.6" cy="915.7" rx="1.4" ry="2.4"/><ellipse cx="1227.5" cy="931.1" rx="1.8" ry="3.0"/><ellipse cx="1235.6" cy="645.1" rx="1.6" ry="2.5"/><ellipse cx="1210.2" cy="903.7" rx="2.3" ry="4.2"/><ellipse cx="1211.0" cy="914.8" rx="1.1" ry="2.0"/><ellipse cx="1205.9" cy="643.0" rx="1.0" ry="1.8"/><ellipse cx="1240.8" cy="365.9" rx="1.3" ry="2.1"/><ellipse cx="1229.3" cy="302.9" rx="2.0" ry="3.4"/><ellipse cx="1254.3" cy="311.0" rx="2.2" ry="3.3"/><ellipse cx="1229.3" cy="606.1" rx="2.3" ry="3.5"/><ellipse cx="1247.4" cy="664.8" rx="2.2" ry="4.0"/><ellipse cx="1243.8" cy="219.2" rx="1.3" ry="2.5"/><ellipse cx="1223.7" cy="422.2" rx="1.1" ry="1.9"/><ellipse cx="1234.4" cy="491.0" rx="2.2" ry="3.2"/><ellipse cx="1241.4" cy="751.9" rx="1.5" ry="2.1"/><ellipse cx="1252.6" cy="909.5" rx="1.7" ry="2.6"/><ellipse cx="1233.0" cy="495.7" rx="1.7" ry="2.8"/><ellipse cx="1245.7" cy="273.0" rx="1.1" ry="1.8"/><ellipse cx="1251.8" cy="628.5" rx="2.1" ry="3.5"/><ellipse cx="1252.7" cy="829.0" rx="1.2" ry="2.1"/><ellipse cx="1232.7" cy="761.2" rx="1.8" ry="3.4"/><ellipse cx="1258.2" cy="565.1" rx="1.4" ry="2.0"/><ellipse cx="1252.5" cy="587.2" rx="1.4" ry="2.5"/><ellipse cx="1233.1" cy="232.1" rx="2.2" ry="4.0"/><ellipse cx="1255.8" cy="902.7" rx="1.7" ry="3.0"/><ellipse cx="1237.9" cy="723.6" rx="2.3" ry="4.4"/><ellipse cx="1236.4" cy="378.6" rx="1.5" ry="2.8"/><ellipse cx="1232.3" cy="334.6" rx="1.4" ry="2.5"/><ellipse cx="1240.4" cy="609.0" rx="2.1" ry="3.9"/><ellipse cx="1236.7" cy="385.6" rx="2.3" ry="3.9"/><ellipse cx="1252.3" cy="243.5" rx="1.2" ry="2.1"/><ellipse cx="1251.2" cy="228.9" rx="1.6" ry="2.3"/><ellipse cx="1280.4" cy="808.3" rx="1.2" ry="1.8"/><ellipse cx="1292.4" cy="403.5" rx="1.5" ry="2.4"/><ellipse cx="1277.5" cy="569.6" rx="1.5" ry="2.6"/><ellipse cx="1280.7" cy="290.9" rx="2.2" ry="3.7"/><ellipse cx="1264.3" cy="947.2" rx="1.8" ry="2.6"/><ellipse cx="1278.0" cy="675.1" rx="2.1" ry="3.0"/><ellipse cx="1284.8" cy="330.7" rx="1.4" ry="2.3"/><ellipse cx="1267.9" cy="464.8" rx="2.4" ry="4.0"/><ellipse cx="1276.5" cy="630.9" rx="1.6" ry="2.4"/><ellipse cx="1277.2" cy="768.6" rx="1.8" ry="2.8"/><ellipse cx="1269.6" cy="797.1" rx="2.4" ry="4.0"/><ellipse cx="1281.2" cy="485.8" rx="2.4" ry="4.4"/><ellipse cx="1291.5" cy="293.8" rx="1.6" ry="2.5"/><ellipse cx="1298.5" cy="446.8" rx="1.7" ry="2.5"/><ellipse cx="1280.2" cy="527.4" rx="2.2" ry="4.1"/><ellipse cx="1264.7" cy="648.0" rx="1.5" ry="2.9"/><ellipse cx="1271.1" cy="415.9" rx="2.3" ry="3.5"/><ellipse cx="1327.4" cy="334.3" rx="1.5" ry="2.6"/><ellipse cx="1326.5" cy="503.3" rx="1.0" ry="1.8"/><ellipse cx="1314.7" cy="230.1" rx="1.6" ry="2.4"/><ellipse cx="1323.6" cy="837.8" rx="1.6" ry="3.0"/><ellipse cx="1328.6" cy="938.0" rx="2.1" ry="4.0"/><ellipse cx="1326.5" cy="903.9" rx="1.7" ry="3.0"/><ellipse cx="1324.8" cy="355.4" rx="1.8" ry="2.5"/><ellipse cx="1328.0" cy="425.6" rx="1.4" ry="2.5"/><ellipse cx="1332.7" cy="854.3" rx="1.5" ry="2.8"/><ellipse cx="1315.3" cy="511.0" rx="1.5" ry="2.4"/><ellipse cx="1325.7" cy="647.5" rx="1.2" ry="2.0"/><ellipse cx="1326.9" cy="303.1" rx="1.4" ry="2.1"/><ellipse cx="1331.9" cy="320.2" rx="1.3" ry="2.3"/><ellipse cx="1335.1" cy="849.3" rx="1.3" ry="1.9"/><ellipse cx="1322.4" cy="355.5" rx="1.0" ry="1.8"/><ellipse cx="1320.0" cy="786.8" rx="1.4" ry="2.5"/><ellipse cx="1339.5" cy="565.5" rx="1.7" ry="2.8"/><ellipse cx="1326.6" cy="755.1" rx="1.7" ry="2.4"/><ellipse cx="1339.3" cy="321.8" rx="1.8" ry="3.1"/><ellipse cx="1321.2" cy="313.0" rx="2.3" ry="3.8"/><ellipse cx="1335.0" cy="888.7" rx="2.2" ry="3.8"/><ellipse cx="1316.3" cy="232.4" rx="1.5" ry="2.6"/><ellipse cx="1321.7" cy="544.0" rx="1.7" ry="3.0"/><ellipse cx="1328.9" cy="226.7" rx="2.2" ry="3.3"/><ellipse cx="1330.7" cy="456.0" rx="1.4" ry="2.6"/><ellipse cx="1341.5" cy="689.5" rx="1.5" ry="2.3"/><ellipse cx="1333.0" cy="713.1" rx="2.3" ry="4.2"/><ellipse cx="1321.8" cy="822.7" rx="2.1" ry="3.7"/><ellipse cx="1321.6" cy="482.9" rx="2.1" ry="3.1"/><ellipse cx="1326.5" cy="441.2" rx="1.7" ry="2.7"/><ellipse cx="1329.5" cy="637.5" rx="2.3" ry="4.4"/><ellipse cx="1340.0" cy="414.3" rx="2.2" ry="3.8"/><ellipse cx="1319.6" cy="495.9" rx="2.3" ry="4.5"/><ellipse cx="1326.5" cy="505.8" rx="1.2" ry="2.3"/><ellipse cx="1329.8" cy="217.9" rx="1.7" ry="2.5"/><ellipse cx="1324.8" cy="194.2" rx="1.5" ry="2.9"/><ellipse cx="1314.3" cy="721.2" rx="2.2" ry="4.1"/><ellipse cx="1351.8" cy="381.1" rx="2.1" ry="3.9"/><ellipse cx="1378.2" cy="218.9" rx="1.2" ry="1.8"/><ellipse cx="1351.1" cy="893.5" rx="1.8" ry="3.1"/><ellipse cx="1363.4" cy="239.2" rx="2.2" ry="4.1"/><ellipse cx="1366.8" cy="354.5" rx="1.7" ry="2.7"/><ellipse cx="1373.1" cy="813.3" rx="2.3" ry="3.9"/><ellipse cx="1342.1" cy="590.5" rx="1.1" ry="2.0"/><ellipse cx="1363.6" cy="350.9" rx="2.1" ry="3.5"/><ellipse cx="1343.6" cy="922.2" rx="1.5" ry="2.4"/><ellipse cx="1373.7" cy="505.5" rx="1.3" ry="2.2"/><ellipse cx="1349.4" cy="921.2" rx="1.2" ry="2.1"/><ellipse cx="1350.1" cy="254.1" rx="1.7" ry="2.4"/><ellipse cx="1337.3" cy="768.4" rx="2.1" ry="3.8"/><ellipse cx="1377.1" cy="520.6" rx="1.3" ry="2.3"/><ellipse cx="1361.0" cy="491.9" rx="1.1" ry="2.0"/><ellipse cx="1360.2" cy="349.8" rx="2.2" ry="3.9"/><ellipse cx="1347.5" cy="906.2" rx="1.7" ry="3.1"/><ellipse cx="1370.0" cy="501.4" rx="2.3" ry="4.1"/><ellipse cx="1350.4" cy="603.0" rx="1.4" ry="2.0"/><ellipse cx="1361.7" cy="222.5" rx="1.5" ry="2.4"/><ellipse cx="1366.1" cy="937.6" rx="2.3" ry="3.9"/><ellipse cx="1404.9" cy="854.1" rx="1.5" ry="2.3"/><ellipse cx="1405.1" cy="431.8" rx="1.0" ry="1.8"/><ellipse cx="1448.9" cy="865.4" rx="1.7" ry="2.6"/><ellipse cx="1379.4" cy="901.0" rx="1.2" ry="1.9"/><ellipse cx="1395.6" cy="682.0" rx="1.9" ry="3.0"/><ellipse cx="1395.2" cy="809.7" rx="1.2" ry="2.0"/><ellipse cx="1383.5" cy="398.3" rx="1.4" ry="2.1"/><ellipse cx="1398.3" cy="451.7" rx="1.8" ry="3.1"/><ellipse cx="1387.3" cy="360.7" rx="2.4" ry="4.2"/><ellipse cx="1409.5" cy="768.3" rx="1.1" ry="2.0"/><ellipse cx="1397.8" cy="527.7" rx="2.2" ry="3.6"/><ellipse cx="1371.1" cy="750.9" rx="1.3" ry="2.2"/><ellipse cx="1393.8" cy="508.2" rx="2.4" ry="4.5"/><ellipse cx="1407.6" cy="860.4" rx="1.7" ry="2.6"/><ellipse cx="1409.6" cy="485.9" rx="2.2" ry="3.8"/><ellipse cx="1386.6" cy="723.1" rx="1.5" ry="2.1"/><ellipse cx="1405.8" cy="616.8" rx="2.1" ry="4.1"/><ellipse cx="1390.2" cy="558.2" rx="1.5" ry="2.3"/><ellipse cx="1402.5" cy="439.5" rx="1.3" ry="2.5"/><ellipse cx="1426.1" cy="273.4" rx="1.7" ry="2.7"/><ellipse cx="1429.0" cy="228.7" rx="2.4" ry="4.5"/><ellipse cx="1428.7" cy="781.0" rx="1.8" ry="2.9"/><ellipse cx="1447.8" cy="736.0" rx="2.2" ry="4.1"/><ellipse cx="1444.3" cy="746.1" rx="2.3" ry="4.2"/><ellipse cx="1440.7" cy="262.5" rx="1.4" ry="2.5"/><ellipse cx="1424.9" cy="355.3" rx="1.6" ry="2.5"/><ellipse cx="1435.4" cy="641.4" rx="1.5" ry="2.4"/><ellipse cx="1431.1" cy="778.4" rx="1.7" ry="2.9"/><ellipse cx="1434.1" cy="686.6" rx="2.2" ry="4.0"/><ellipse cx="1438.5" cy="528.0" rx="2.2" ry="3.9"/><ellipse cx="1444.0" cy="923.6" rx="1.6" ry="2.6"/><ellipse cx="1439.4" cy="737.7" rx="2.1" ry="3.3"/><ellipse cx="1441.6" cy="619.0" rx="2.1" ry="4.1"/><ellipse cx="1432.1" cy="742.6" rx="1.7" ry="2.8"/><ellipse cx="1436.9" cy="269.5" rx="1.7" ry="2.3"/><ellipse cx="1439.7" cy="770.0" rx="1.9" ry="2.5"/><ellipse cx="1430.6" cy="411.8" rx="2.2" ry="3.2"/><ellipse cx="1448.5" cy="507.5" rx="2.3" ry="3.4"/><ellipse cx="1429.3" cy="365.2" rx="1.3" ry="2.3"/><ellipse cx="1445.4" cy="508.4" rx="1.8" ry="3.4"/><ellipse cx="1441.1" cy="385.3" rx="1.7" ry="2.4"/><ellipse cx="1446.5" cy="450.5" rx="1.3" ry="2.4"/><ellipse cx="1425.0" cy="405.2" rx="1.6" ry="2.6"/><ellipse cx="1448.9" cy="841.9" rx="1.5" ry="2.9"/><ellipse cx="1441.1" cy="512.6" rx="1.3" ry="2.1"/><ellipse cx="1436.1" cy="946.6" rx="1.4" ry="2.6"/><ellipse cx="1422.4" cy="246.0" rx="1.0" ry="1.8"/><ellipse cx="1445.3" cy="292.3" rx="1.3" ry="2.0"/><ellipse cx="1437.6" cy="295.0" rx="1.7" ry="2.7"/><ellipse cx="1433.1" cy="473.1" rx="1.4" ry="2.5"/><ellipse cx="1442.8" cy="930.5" rx="1.3" ry="1.9"/><ellipse cx="1447.0" cy="485.4" rx="1.4" ry="2.4"/><ellipse cx="1441.4" cy="667.8" rx="1.6" ry="2.3"/><ellipse cx="1445.1" cy="614.0" rx="1.5" ry="2.0"/><ellipse cx="1445.2" cy="453.1" rx="2.3" ry="4.3"/><ellipse cx="1438.7" cy="456.1" rx="1.6" ry="2.5"/><ellipse cx="1443.4" cy="711.9" rx="1.7" ry="2.9"/><ellipse cx="1446.5" cy="724.5" rx="2.2" ry="3.5"/><ellipse cx="1437.2" cy="785.4" rx="2.2" ry="3.6"/><ellipse cx="1433.5" cy="610.4" rx="2.1" ry="3.9"/><ellipse cx="1451.7" cy="203.0" rx="1.5" ry="2.1"/><ellipse cx="1445.9" cy="288.3" rx="1.8" ry="2.9"/><ellipse cx="1464.2" cy="729.0" rx="2.1" ry="4.0"/><ellipse cx="1463.1" cy="884.7" rx="1.4" ry="2.5"/><ellipse cx="1467.9" cy="592.9" rx="2.2" ry="3.3"/><ellipse cx="1466.8" cy="737.2" rx="1.1" ry="1.9"/><ellipse cx="1465.6" cy="818.4" rx="1.1" ry="2.1"/><ellipse cx="1459.4" cy="516.5" rx="2.3" ry="3.7"/><ellipse cx="1459.8" cy="520.7" rx="1.7" ry="2.5"/><ellipse cx="1462.9" cy="449.8" rx="1.9" ry="3.0"/><ellipse cx="1458.5" cy="205.1" rx="2.1" ry="3.5"/><ellipse cx="1460.4" cy="517.2" rx="2.3" ry="3.7"/><ellipse cx="1468.8" cy="484.8" rx="1.4" ry="2.4"/><ellipse cx="1461.7" cy="871.2" rx="2.0" ry="3.3"/><ellipse cx="1455.4" cy="454.1" rx="1.8" ry="3.0"/><ellipse cx="1466.6" cy="662.0" rx="1.6" ry="2.6"/><ellipse cx="1476.9" cy="939.1" rx="1.2" ry="2.2"/><ellipse cx="1461.0" cy="427.2" rx="1.6" ry="2.4"/><ellipse cx="1469.9" cy="639.2" rx="1.6" ry="2.6"/><ellipse cx="1459.1" cy="522.3" rx="2.1" ry="3.2"/><ellipse cx="1455.9" cy="255.2" rx="1.4" ry="2.5"/><ellipse cx="1474.1" cy="883.8" rx="2.2" ry="3.5"/><ellipse cx="1465.2" cy="282.0" rx="1.4" ry="2.5"/><ellipse cx="1465.0" cy="459.7" rx="1.6" ry="2.5"/><ellipse cx="1464.1" cy="489.4" rx="2.1" ry="3.7"/><ellipse cx="1469.0" cy="296.2" rx="1.8" ry="2.9"/><ellipse cx="1466.3" cy="230.1" rx="2.3" ry="3.5"/><ellipse cx="1463.3" cy="269.3" rx="1.3" ry="2.4"/><ellipse cx="1460.7" cy="756.0" rx="1.7" ry="3.0"/><ellipse cx="1462.3" cy="763.2" rx="2.3" ry="3.7"/><ellipse cx="1471.7" cy="673.2" rx="1.4" ry="2.0"/><ellipse cx="1457.3" cy="675.0" rx="2.1" ry="3.5"/><ellipse cx="1467.1" cy="722.3" rx="1.3" ry="2.0"/><ellipse cx="1491.8" cy="287.0" rx="1.1" ry="2.0"/><ellipse cx="1497.1" cy="380.7" rx="2.1" ry="3.7"/><ellipse cx="1497.8" cy="821.0" rx="1.6" ry="2.8"/><ellipse cx="1493.0" cy="255.2" rx="2.2" ry="3.8"/><ellipse cx="1493.0" cy="290.3" rx="2.3" ry="3.8"/><ellipse cx="1497.5" cy="471.7" rx="2.2" ry="4.0"/><ellipse cx="1490.0" cy="611.2" rx="1.4" ry="2.4"/><ellipse cx="1495.9" cy="702.7" rx="2.1" ry="3.5"/><ellipse cx="1506.1" cy="607.4" rx="1.2" ry="1.9"/><ellipse cx="1491.7" cy="804.9" rx="1.7" ry="2.9"/><ellipse cx="1493.8" cy="873.1" rx="2.1" ry="3.5"/><ellipse cx="1498.6" cy="855.4" rx="2.3" ry="4.6"/><ellipse cx="1482.9" cy="500.0" rx="1.6" ry="2.3"/><ellipse cx="1494.1" cy="388.8" rx="2.2" ry="4.2"/><ellipse cx="1489.6" cy="883.3" rx="1.4" ry="2.3"/><ellipse cx="1503.4" cy="330.2" rx="2.1" ry="4.1"/><ellipse cx="1501.3" cy="599.8" rx="2.1" ry="3.2"/><ellipse cx="1482.1" cy="323.8" rx="1.6" ry="2.5"/><ellipse cx="1500.1" cy="834.2" rx="1.5" ry="2.1"/><ellipse cx="1509.9" cy="395.7" rx="2.2" ry="4.2"/><ellipse cx="1509.5" cy="536.4" rx="1.2" ry="1.8"/><ellipse cx="1494.3" cy="634.9" rx="1.1" ry="1.8"/><ellipse cx="1503.1" cy="933.0" rx="2.3" ry="3.7"/><ellipse cx="1500.3" cy="618.3" rx="2.1" ry="3.0"/><ellipse cx="1485.3" cy="730.8" rx="2.4" ry="3.6"/><ellipse cx="1477.0" cy="443.7" rx="2.2" ry="3.5"/><ellipse cx="1500.3" cy="218.3" rx="1.8" ry="2.9"/><ellipse cx="1490.7" cy="522.6" rx="2.1" ry="3.5"/><ellipse cx="1483.6" cy="814.8" rx="2.1" ry="3.9"/><ellipse cx="1495.5" cy="227.5" rx="1.5" ry="2.4"/><ellipse cx="1500.1" cy="318.0" rx="1.7" ry="3.0"/><ellipse cx="1489.9" cy="517.0" rx="1.3" ry="2.0"/><ellipse cx="1531.3" cy="914.2" rx="1.8" ry="3.2"/><ellipse cx="1532.3" cy="839.0" rx="1.1" ry="2.1"/><ellipse cx="1520.2" cy="273.6" rx="1.6" ry="2.6"/><ellipse cx="1515.3" cy="673.6" rx="1.8" ry="2.5"/><ellipse cx="1530.6" cy="644.1" rx="1.6" ry="2.5"/><ellipse cx="1520.0" cy="864.1" rx="1.3" ry="2.3"/><ellipse cx="1507.8" cy="819.5" rx="1.5" ry="2.2"/><ellipse cx="1516.8" cy="617.1" rx="1.6" ry="2.9"/><ellipse cx="1530.6" cy="565.5" rx="1.5" ry="2.1"/><ellipse cx="1515.4" cy="409.1" rx="1.6" ry="2.4"/><ellipse cx="1510.1" cy="587.5" rx="1.1" ry="2.0"/><ellipse cx="1514.9" cy="462.0" rx="1.0" ry="1.8"/><ellipse cx="1528.3" cy="225.5" rx="1.2" ry="2.2"/><ellipse cx="1531.7" cy="630.2" rx="1.6" ry="2.5"/><ellipse cx="1521.6" cy="692.6" rx="1.4" ry="2.6"/><ellipse cx="1520.8" cy="947.8" rx="2.1" ry="3.3"/><ellipse cx="1524.5" cy="405.7" rx="1.3" ry="1.9"/><ellipse cx="1502.3" cy="356.2" rx="1.1" ry="2.0"/><ellipse cx="1514.5" cy="569.1" rx="2.3" ry="4.0"/><ellipse cx="1522.4" cy="862.0" rx="1.6" ry="2.5"/><ellipse cx="1526.2" cy="724.7" rx="1.5" ry="2.2"/><ellipse cx="1526.1" cy="784.9" rx="2.1" ry="3.0"/><ellipse cx="1515.9" cy="766.7" rx="2.4" ry="4.4"/><ellipse cx="1524.8" cy="293.1" rx="1.2" ry="2.2"/></g><g fill="#3c0e02" opacity="0.9"><ellipse cx="1211.6" cy="247.7" rx="5.3" ry="8.1"/><ellipse cx="1191.8" cy="226.5" rx="3.1" ry="4.5"/><ellipse cx="1208.9" cy="221.8" rx="2.2" ry="3.1"/><ellipse cx="1218.6" cy="204.4" rx="2.8" ry="4.0"/><ellipse cx="1189.1" cy="252.6" rx="2.5" ry="3.6"/><ellipse cx="1188.2" cy="303.7" rx="3.1" ry="4.5"/><ellipse cx="1220.2" cy="302.1" rx="2.8" ry="5.4"/><ellipse cx="1367.1" cy="265.3" rx="3.0" ry="4.3"/><ellipse cx="1373.8" cy="314.6" rx="3.4" ry="5.0"/><ellipse cx="1252.2" cy="336.0" rx="3.0" ry="4.3"/><ellipse cx="1435.6" cy="336.0" rx="2.8" ry="4.5"/><ellipse cx="1238.9" cy="378.5" rx="2.2" ry="3.1"/><ellipse cx="1261.2" cy="402.6" rx="3.4" ry="5.0"/><ellipse cx="1440.2" cy="375.1" rx="3.1" ry="4.5"/><ellipse cx="1222.5" cy="447.3" rx="3.4" ry="9.9"/><ellipse cx="1436.7" cy="466.6" rx="3.4" ry="5.4"/><ellipse cx="1444.7" cy="504.2" rx="3.1" ry="4.0"/><ellipse cx="1444.7" cy="529.6" rx="3.1" ry="5.4"/><ellipse cx="1442.4" cy="562.7" rx="3.1" ry="4.5"/><ellipse cx="1457.6" cy="567.2" rx="2.2" ry="3.1"/><ellipse cx="1172.6" cy="548.5" rx="2.5" ry="3.6"/><ellipse cx="1223.6" cy="557.4" rx="2.2" ry="3.1"/><ellipse cx="1501.5" cy="208.2" rx="3.7" ry="6.3"/><ellipse cx="1260.4" cy="784.8" rx="3.7" ry="5.4"/><ellipse cx="1475.6" cy="760.6" rx="2.5" ry="4.5"/><ellipse cx="1475.8" cy="830.9" rx="2.8" ry="7.2"/><ellipse cx="1378.2" cy="617.5" rx="2.2" ry="4.0"/><ellipse cx="1225.3" cy="685.5" rx="2.8" ry="4.0"/><ellipse cx="1226.9" cy="667.9" rx="2.2" ry="3.1"/><ellipse cx="1226.9" cy="601.6" rx="2.2" ry="5.4"/><ellipse cx="1224.7" cy="575.4" rx="2.2" ry="3.1"/><ellipse cx="1167.9" cy="774.9" rx="2.8" ry="5.0"/><ellipse cx="1168.8" cy="803.0" rx="1.8" ry="2.4"/><ellipse cx="1239.3" cy="830.1" rx="3.1" ry="4.5"/><ellipse cx="1328.8" cy="861.0" rx="3.1" ry="4.5"/><ellipse cx="1404.9" cy="848.6" rx="3.1" ry="7.2"/><ellipse cx="1245.4" cy="895.3" rx="2.5" ry="3.6"/><ellipse cx="1254.8" cy="921.4" rx="3.1" ry="7.2"/><ellipse cx="1316.9" cy="922.8" rx="2.8" ry="4.0"/><ellipse cx="1328.8" cy="939.4" rx="3.1" ry="4.5"/><ellipse cx="1443.0" cy="670.2" rx="2.5" ry="3.6"/><ellipse cx="1460.9" cy="738.6" rx="2.2" ry="3.1"/><ellipse cx="1466.8" cy="723.6" rx="1.8" ry="2.4"/><ellipse cx="1328.5" cy="705.6" rx="2.2" ry="3.1"/><ellipse cx="1332.9" cy="815.9" rx="2.2" ry="3.1"/><ellipse cx="1463.2" cy="860.1" rx="2.2" ry="3.1"/><ellipse cx="1191.9" cy="417.8" rx="2.2" ry="3.1"/><ellipse cx="1195.1" cy="438.2" rx="1.8" ry="2.4"/><ellipse cx="1190.1" cy="350.2" rx="1.8" ry="2.4"/><ellipse cx="1272.1" cy="322.2" rx="1.8" ry="2.4"/><ellipse cx="1232.1" cy="345.2" rx="1.8" ry="2.4"/><ellipse cx="1423.9" cy="221.8" rx="2.2" ry="3.1"/><ellipse cx="1428.1" cy="250.2" rx="1.8" ry="2.4"/><ellipse cx="1432.1" cy="280.2" rx="1.8" ry="2.4"/><ellipse cx="1352.4" cy="310.2" rx="1.5" ry="2.0"/><ellipse cx="1481.6" cy="399.7" rx="2.5" ry="4.5"/><ellipse cx="1486.9" cy="424.8" rx="2.2" ry="3.6"/><ellipse cx="1489.9" cy="451.8" rx="2.2" ry="3.1"/><ellipse cx="1483.9" cy="479.8" rx="2.2" ry="3.6"/><ellipse cx="1492.1" cy="510.2" rx="1.8" ry="2.4"/><ellipse cx="1520.1" cy="330.2" rx="1.8" ry="2.4"/><ellipse cx="1524.1" cy="385.2" rx="1.8" ry="2.4"/><ellipse cx="1512.1" cy="270.2" rx="1.8" ry="2.4"/><ellipse cx="1197.0" cy="509.5" rx="1.7" ry="2.2"/><ellipse cx="1181.2" cy="559.9" rx="2.4" ry="4.7"/><ellipse cx="1179.4" cy="867.9" rx="2.3" ry="3.5"/><ellipse cx="1176.9" cy="765.7" rx="2.2" ry="3.6"/><ellipse cx="1189.4" cy="233.4" rx="1.7" ry="2.6"/><ellipse cx="1195.4" cy="833.5" rx="2.0" ry="3.3"/><ellipse cx="1188.8" cy="938.6" rx="1.4" ry="2.1"/><ellipse cx="1182.7" cy="244.5" rx="1.4" ry="2.4"/><ellipse cx="1179.9" cy="876.6" rx="2.2" ry="3.9"/><ellipse cx="1172.5" cy="319.1" rx="1.6" ry="2.7"/><ellipse cx="1191.3" cy="747.3" rx="2.4" ry="4.0"/><ellipse cx="1175.6" cy="462.3" rx="2.2" ry="4.2"/><ellipse cx="1191.4" cy="677.2" rx="2.4" ry="4.0"/><ellipse cx="1187.3" cy="750.0" rx="2.4" ry="4.0"/><ellipse cx="1193.7" cy="766.6" rx="1.6" ry="2.7"/><ellipse cx="1180.4" cy="469.7" rx="1.2" ry="2.1"/><ellipse cx="1195.2" cy="822.2" rx="2.0" ry="3.6"/><ellipse cx="1193.6" cy="337.0" rx="2.1" ry="3.5"/><ellipse cx="1191.7" cy="523.0" rx="1.4" ry="2.3"/><ellipse cx="1190.8" cy="432.2" rx="1.3" ry="2.3"/><ellipse cx="1197.7" cy="420.1" rx="1.6" ry="2.2"/><ellipse cx="1179.7" cy="451.6" rx="2.0" ry="3.7"/><ellipse cx="1182.3" cy="664.8" rx="1.3" ry="2.3"/><ellipse cx="1191.7" cy="595.0" rx="2.3" ry="4.0"/><ellipse cx="1187.1" cy="407.9" rx="1.7" ry="3.1"/><ellipse cx="1183.3" cy="568.1" rx="1.9" ry="3.0"/><ellipse cx="1196.6" cy="607.8" rx="2.4" ry="4.9"/><ellipse cx="1189.8" cy="428.4" rx="2.4" ry="3.8"/><ellipse cx="1187.2" cy="641.8" rx="2.4" ry="4.2"/><ellipse cx="1183.0" cy="363.9" rx="2.0" ry="3.2"/><ellipse cx="1174.9" cy="300.4" rx="2.4" ry="4.8"/><ellipse cx="1184.2" cy="922.9" rx="1.5" ry="2.0"/><ellipse cx="1214.4" cy="553.0" rx="2.4" ry="3.9"/><ellipse cx="1231.7" cy="231.5" rx="1.8" ry="2.8"/><ellipse cx="1219.3" cy="821.2" rx="1.1" ry="2.0"/><ellipse cx="1220.1" cy="919.5" rx="1.4" ry="2.4"/><ellipse cx="1212.8" cy="701.4" rx="1.3" ry="2.3"/><ellipse cx="1209.6" cy="857.2" rx="1.4" ry="2.1"/><ellipse cx="1216.7" cy="240.8" rx="1.8" ry="3.0"/><ellipse cx="1213.5" cy="621.7" rx="1.8" ry="3.0"/><ellipse cx="1218.3" cy="843.7" rx="1.5" ry="2.1"/><ellipse cx="1225.7" cy="358.9" rx="2.2" ry="3.4"/><ellipse cx="1220.5" cy="603.6" rx="1.2" ry="1.9"/><ellipse cx="1218.6" cy="478.3" rx="2.3" ry="3.7"/><ellipse cx="1202.7" cy="697.3" rx="1.6" ry="2.2"/><ellipse cx="1201.1" cy="910.6" rx="2.3" ry="4.6"/><ellipse cx="1214.1" cy="901.4" rx="1.4" ry="2.3"/><ellipse cx="1231.8" cy="636.2" rx="1.6" ry="2.3"/><ellipse cx="1228.5" cy="406.3" rx="1.5" ry="2.2"/><ellipse cx="1204.2" cy="436.8" rx="2.2" ry="3.9"/><ellipse cx="1231.9" cy="565.8" rx="1.4" ry="2.5"/><ellipse cx="1217.9" cy="322.5" rx="1.4" ry="2.2"/><ellipse cx="1221.8" cy="705.0" rx="1.1" ry="1.9"/><ellipse cx="1198.2" cy="613.1" rx="1.7" ry="2.6"/><ellipse cx="1214.1" cy="696.0" rx="2.1" ry="4.1"/><ellipse cx="1208.5" cy="246.2" rx="1.5" ry="2.5"/><ellipse cx="1228.7" cy="682.6" rx="1.4" ry="2.0"/><ellipse cx="1220.3" cy="697.2" rx="2.2" ry="3.7"/><ellipse cx="1232.8" cy="248.8" rx="1.4" ry="2.5"/><ellipse cx="1214.7" cy="768.7" rx="1.9" ry="3.0"/><ellipse cx="1231.6" cy="729.0" rx="1.8" ry="2.5"/><ellipse cx="1226.8" cy="782.3" rx="1.9" ry="3.2"/><ellipse cx="1216.9" cy="809.8" rx="1.4" ry="2.1"/><ellipse cx="1214.8" cy="915.7" rx="1.6" ry="2.5"/><ellipse cx="1224.1" cy="931.1" rx="2.0" ry="3.2"/><ellipse cx="1232.6" cy="645.1" rx="1.7" ry="2.7"/><ellipse cx="1206.1" cy="902.7" rx="2.4" ry="4.5"/><ellipse cx="1208.9" cy="914.8" rx="1.2" ry="2.2"/><ellipse cx="1204.0" cy="643.0" rx="1.1" ry="2.0"/><ellipse cx="1238.3" cy="365.9" rx="1.4" ry="2.3"/><ellipse cx="1225.7" cy="302.1" rx="2.1" ry="3.6"/><ellipse cx="1250.4" cy="310.3" rx="2.3" ry="3.5"/><ellipse cx="1225.2" cy="605.2" rx="2.4" ry="3.7"/><ellipse cx="1243.5" cy="663.8" rx="2.3" ry="4.3"/><ellipse cx="1241.2" cy="219.2" rx="1.5" ry="2.6"/><ellipse cx="1221.6" cy="422.2" rx="1.2" ry="2.0"/><ellipse cx="1230.5" cy="490.3" rx="2.3" ry="3.4"/><ellipse cx="1238.6" cy="751.9" rx="1.6" ry="2.3"/><ellipse cx="1249.3" cy="909.5" rx="1.9" ry="2.7"/><ellipse cx="1229.8" cy="495.7" rx="1.8" ry="3.0"/><ellipse cx="1243.5" cy="273.0" rx="1.2" ry="2.0"/><ellipse cx="1248.0" cy="627.7" rx="2.2" ry="3.7"/><ellipse cx="1250.5" cy="829.0" rx="1.3" ry="2.2"/><ellipse cx="1229.2" cy="761.2" rx="2.0" ry="3.6"/><ellipse cx="1255.5" cy="565.1" rx="1.5" ry="2.1"/><ellipse cx="1249.8" cy="587.2" rx="1.5" ry="2.7"/><ellipse cx="1229.2" cy="231.1" rx="2.3" ry="4.3"/><ellipse cx="1252.5" cy="902.7" rx="1.9" ry="3.2"/><ellipse cx="1233.9" cy="722.5" rx="2.4" ry="4.6"/><ellipse cx="1233.6" cy="378.6" rx="1.6" ry="3.0"/><ellipse cx="1229.7" cy="334.6" rx="1.5" ry="2.7"/><ellipse cx="1236.8" cy="608.0" rx="2.1" ry="4.2"/><ellipse cx="1232.6" cy="384.6" rx="2.4" ry="4.1"/><ellipse cx="1250.0" cy="243.5" rx="1.3" ry="2.2"/><ellipse cx="1248.2" cy="228.9" rx="1.7" ry="2.4"/><ellipse cx="1278.1" cy="808.3" rx="1.3" ry="1.9"/><ellipse cx="1289.5" cy="403.5" rx="1.6" ry="2.6"/><ellipse cx="1274.7" cy="569.6" rx="1.6" ry="2.8"/><ellipse cx="1276.8" cy="290.0" rx="2.3" ry="3.9"/><ellipse cx="1260.9" cy="947.2" rx="1.9" ry="2.8"/><ellipse cx="1274.4" cy="674.4" rx="2.1" ry="3.2"/><ellipse cx="1282.0" cy="330.7" rx="1.6" ry="2.4"/><ellipse cx="1263.8" cy="463.9" rx="2.5" ry="4.2"/><ellipse cx="1273.4" cy="630.9" rx="1.8" ry="2.5"/><ellipse cx="1273.8" cy="768.6" rx="1.9" ry="3.0"/><ellipse cx="1265.4" cy="796.2" rx="2.5" ry="4.3"/><ellipse cx="1277.1" cy="484.8" rx="2.5" ry="4.7"/><ellipse cx="1288.4" cy="293.8" rx="1.7" ry="2.7"/><ellipse cx="1295.3" cy="446.8" rx="1.8" ry="2.7"/><ellipse cx="1276.3" cy="526.4" rx="2.3" ry="4.4"/><ellipse cx="1261.8" cy="648.0" rx="1.6" ry="3.1"/><ellipse cx="1267.1" cy="415.1" rx="2.4" ry="3.8"/><ellipse cx="1324.6" cy="334.3" rx="1.6" ry="2.7"/><ellipse cx="1324.6" cy="503.3" rx="1.1" ry="1.9"/><ellipse cx="1311.7" cy="230.1" rx="1.7" ry="2.5"/><ellipse cx="1320.5" cy="837.8" rx="1.8" ry="3.2"/><ellipse cx="1324.9" cy="937.1" rx="2.2" ry="4.3"/><ellipse cx="1323.3" cy="903.9" rx="1.8" ry="3.3"/><ellipse cx="1321.4" cy="355.4" rx="1.9" ry="2.6"/><ellipse cx="1325.3" cy="425.6" rx="1.5" ry="2.6"/><ellipse cx="1329.8" cy="854.3" rx="1.7" ry="2.9"/><ellipse cx="1312.4" cy="511.0" rx="1.7" ry="2.5"/><ellipse cx="1323.3" cy="647.5" rx="1.3" ry="2.2"/><ellipse cx="1324.1" cy="303.1" rx="1.6" ry="2.3"/><ellipse cx="1329.5" cy="320.2" rx="1.4" ry="2.5"/><ellipse cx="1332.7" cy="849.3" rx="1.4" ry="2.0"/><ellipse cx="1320.5" cy="355.5" rx="1.1" ry="1.9"/><ellipse cx="1317.2" cy="786.8" rx="1.6" ry="2.7"/><ellipse cx="1336.3" cy="565.5" rx="1.9" ry="3.0"/><ellipse cx="1323.4" cy="755.1" rx="1.8" ry="2.6"/><ellipse cx="1335.9" cy="321.8" rx="1.9" ry="3.3"/><ellipse cx="1317.1" cy="312.1" rx="2.4" ry="4.0"/><ellipse cx="1331.2" cy="887.8" rx="2.2" ry="4.0"/><ellipse cx="1313.4" cy="232.4" rx="1.7" ry="2.8"/><ellipse cx="1318.4" cy="544.0" rx="1.9" ry="3.2"/><ellipse cx="1325.0" cy="225.9" rx="2.3" ry="3.5"/><ellipse cx="1328.1" cy="456.0" rx="1.5" ry="2.8"/><ellipse cx="1338.6" cy="689.5" rx="1.6" ry="2.5"/><ellipse cx="1329.0" cy="712.2" rx="2.4" ry="4.4"/><ellipse cx="1318.1" cy="821.8" rx="2.2" ry="3.9"/><ellipse cx="1317.9" cy="482.2" rx="2.2" ry="3.3"/><ellipse cx="1323.3" cy="441.2" rx="1.9" ry="2.9"/><ellipse cx="1325.6" cy="636.5" rx="2.3" ry="4.7"/><ellipse cx="1336.1" cy="413.4" rx="2.3" ry="4.1"/><ellipse cx="1315.5" cy="494.8" rx="2.4" ry="4.8"/><ellipse cx="1324.2" cy="505.8" rx="1.3" ry="2.4"/><ellipse cx="1326.7" cy="217.9" rx="1.8" ry="2.7"/><ellipse cx="1321.9" cy="194.2" rx="1.7" ry="3.1"/><ellipse cx="1310.4" cy="720.2" rx="2.3" ry="4.3"/><ellipse cx="1348.1" cy="380.2" rx="2.2" ry="4.1"/><ellipse cx="1376.0" cy="218.9" rx="1.3" ry="1.9"/><ellipse cx="1347.7" cy="893.5" rx="2.0" ry="3.3"/><ellipse cx="1359.5" cy="238.2" rx="2.3" ry="4.4"/><ellipse cx="1363.6" cy="354.5" rx="1.8" ry="2.9"/><ellipse cx="1369.1" cy="812.4" rx="2.4" ry="4.2"/><ellipse cx="1340.0" cy="590.5" rx="1.2" ry="2.1"/><ellipse cx="1360.0" cy="350.1" rx="2.1" ry="3.7"/><ellipse cx="1340.7" cy="922.2" rx="1.7" ry="2.6"/><ellipse cx="1371.3" cy="505.5" rx="1.4" ry="2.4"/><ellipse cx="1347.2" cy="921.2" rx="1.3" ry="2.2"/><ellipse cx="1346.9" cy="254.1" rx="1.8" ry="2.5"/><ellipse cx="1333.7" cy="767.5" rx="2.1" ry="4.1"/><ellipse cx="1374.6" cy="520.6" rx="1.4" ry="2.5"/><ellipse cx="1359.0" cy="491.9" rx="1.2" ry="2.1"/><ellipse cx="1356.4" cy="348.9" rx="2.3" ry="4.1"/><ellipse cx="1344.3" cy="906.2" rx="1.8" ry="3.3"/><ellipse cx="1365.9" cy="500.4" rx="2.4" ry="4.3"/><ellipse cx="1347.7" cy="603.0" rx="1.6" ry="2.1"/><ellipse cx="1358.7" cy="222.5" rx="1.7" ry="2.6"/><ellipse cx="1362.2" cy="936.7" rx="2.3" ry="4.1"/><ellipse cx="1402.1" cy="854.1" rx="1.6" ry="2.5"/><ellipse cx="1403.2" cy="431.8" rx="1.1" ry="2.0"/><ellipse cx="1445.6" cy="865.4" rx="1.9" ry="2.8"/><ellipse cx="1377.1" cy="901.0" rx="1.3" ry="2.0"/><ellipse cx="1392.1" cy="682.0" rx="2.0" ry="3.2"/><ellipse cx="1392.8" cy="809.7" rx="1.4" ry="2.1"/><ellipse cx="1380.9" cy="398.3" rx="1.5" ry="2.3"/><ellipse cx="1394.9" cy="451.7" rx="1.9" ry="3.3"/><ellipse cx="1383.1" cy="359.7" rx="2.5" ry="4.4"/><ellipse cx="1407.3" cy="768.3" rx="1.3" ry="2.1"/><ellipse cx="1393.9" cy="526.9" rx="2.3" ry="3.8"/><ellipse cx="1368.7" cy="750.9" rx="1.4" ry="2.3"/><ellipse cx="1389.7" cy="507.2" rx="2.4" ry="4.7"/><ellipse cx="1404.4" cy="860.4" rx="1.8" ry="2.8"/><ellipse cx="1405.8" cy="485.0" rx="2.2" ry="4.0"/><ellipse cx="1383.9" cy="723.1" rx="1.6" ry="2.2"/><ellipse cx="1402.1" cy="615.9" rx="2.2" ry="4.4"/><ellipse cx="1387.3" cy="558.2" rx="1.7" ry="2.4"/><ellipse cx="1400.0" cy="439.5" rx="1.4" ry="2.7"/><ellipse cx="1422.9" cy="273.4" rx="1.8" ry="2.9"/><ellipse cx="1424.8" cy="227.7" rx="2.5" ry="4.8"/><ellipse cx="1425.2" cy="781.0" rx="2.0" ry="3.0"/><ellipse cx="1443.9" cy="735.0" rx="2.3" ry="4.4"/><ellipse cx="1440.3" cy="745.1" rx="2.3" ry="4.5"/><ellipse cx="1438.0" cy="262.5" rx="1.6" ry="2.6"/><ellipse cx="1421.7" cy="355.3" rx="1.8" ry="2.7"/><ellipse cx="1432.5" cy="641.4" rx="1.6" ry="2.6"/><ellipse cx="1427.8" cy="778.4" rx="1.9" ry="3.1"/><ellipse cx="1430.2" cy="685.6" rx="2.3" ry="4.3"/><ellipse cx="1434.7" cy="527.1" rx="2.2" ry="4.2"/><ellipse cx="1441.1" cy="923.6" rx="1.7" ry="2.8"/><ellipse cx="1435.7" cy="737.0" rx="2.2" ry="3.5"/><ellipse cx="1437.9" cy="618.1" rx="2.2" ry="4.4"/><ellipse cx="1428.9" cy="742.6" rx="1.8" ry="2.9"/><ellipse cx="1433.7" cy="269.5" rx="1.8" ry="2.4"/><ellipse cx="1436.2" cy="770.0" rx="2.0" ry="2.7"/><ellipse cx="1426.7" cy="411.1" rx="2.3" ry="3.4"/><ellipse cx="1444.4" cy="506.7" rx="2.4" ry="3.6"/><ellipse cx="1426.8" cy="365.2" rx="1.4" ry="2.5"/><ellipse cx="1441.9" cy="508.4" rx="2.0" ry="3.6"/><ellipse cx="1437.8" cy="385.3" rx="1.9" ry="2.6"/><ellipse cx="1444.1" cy="450.5" rx="1.4" ry="2.6"/><ellipse cx="1422.0" cy="405.2" rx="1.7" ry="2.8"/><ellipse cx="1446.0" cy="841.9" rx="1.7" ry="3.1"/><ellipse cx="1438.6" cy="512.6" rx="1.4" ry="2.2"/><ellipse cx="1433.4" cy="946.6" rx="1.5" ry="2.8"/><ellipse cx="1420.5" cy="246.0" rx="1.1" ry="2.0"/><ellipse cx="1442.9" cy="292.3" rx="1.4" ry="2.1"/><ellipse cx="1434.4" cy="295.0" rx="1.8" ry="2.9"/><ellipse cx="1430.4" cy="473.1" rx="1.5" ry="2.6"/><ellipse cx="1440.4" cy="930.5" rx="1.4" ry="2.0"/><ellipse cx="1444.3" cy="485.4" rx="1.6" ry="2.5"/><ellipse cx="1438.4" cy="667.8" rx="1.7" ry="2.5"/><ellipse cx="1442.3" cy="614.0" rx="1.6" ry="2.2"/><ellipse cx="1441.2" cy="452.1" rx="2.3" ry="4.6"/><ellipse cx="1435.6" cy="456.1" rx="1.8" ry="2.7"/><ellipse cx="1440.2" cy="711.9" rx="1.8" ry="3.1"/><ellipse cx="1442.6" cy="723.7" rx="2.3" ry="3.7"/><ellipse cx="1433.4" cy="784.5" rx="2.3" ry="3.8"/><ellipse cx="1429.8" cy="609.5" rx="2.2" ry="4.1"/><ellipse cx="1448.9" cy="203.0" rx="1.6" ry="2.2"/><ellipse cx="1442.5" cy="288.3" rx="2.0" ry="3.0"/><ellipse cx="1460.6" cy="728.0" rx="2.1" ry="4.3"/><ellipse cx="1460.3" cy="884.7" rx="1.6" ry="2.7"/><ellipse cx="1464.0" cy="592.2" rx="2.3" ry="3.5"/><ellipse cx="1464.7" cy="737.2" rx="1.2" ry="2.0"/><ellipse cx="1463.5" cy="818.4" rx="1.2" ry="2.2"/><ellipse cx="1455.3" cy="515.6" rx="2.4" ry="3.9"/><ellipse cx="1456.5" cy="520.7" rx="1.9" ry="2.7"/><ellipse cx="1459.4" cy="449.8" rx="2.0" ry="3.1"/><ellipse cx="1454.8" cy="204.3" rx="2.1" ry="3.7"/><ellipse cx="1456.3" cy="516.4" rx="2.4" ry="3.9"/><ellipse cx="1466.0" cy="484.8" rx="1.6" ry="2.6"/><ellipse cx="1458.1" cy="870.5" rx="2.1" ry="3.5"/><ellipse cx="1451.9" cy="454.1" rx="2.0" ry="3.2"/><ellipse cx="1463.6" cy="662.0" rx="1.8" ry="2.7"/><ellipse cx="1474.6" cy="939.1" rx="1.3" ry="2.4"/><ellipse cx="1458.0" cy="427.2" rx="1.7" ry="2.5"/><ellipse cx="1466.9" cy="639.2" rx="1.7" ry="2.7"/><ellipse cx="1455.5" cy="521.6" rx="2.1" ry="3.4"/><ellipse cx="1453.2" cy="255.2" rx="1.5" ry="2.6"/><ellipse cx="1470.2" cy="882.9" rx="2.3" ry="3.8"/><ellipse cx="1462.6" cy="282.0" rx="1.5" ry="2.7"/><ellipse cx="1461.8" cy="459.7" rx="1.8" ry="2.6"/><ellipse cx="1460.4" cy="488.6" rx="2.2" ry="3.9"/><ellipse cx="1465.6" cy="296.2" rx="2.0" ry="3.1"/><ellipse cx="1462.3" cy="229.2" rx="2.4" ry="3.7"/><ellipse cx="1460.8" cy="269.3" rx="1.4" ry="2.5"/><ellipse cx="1457.4" cy="756.0" rx="1.9" ry="3.2"/><ellipse cx="1458.3" cy="762.4" rx="2.4" ry="3.9"/><ellipse cx="1469.0" cy="673.2" rx="1.5" ry="2.1"/><ellipse cx="1453.6" cy="674.1" rx="2.2" ry="3.7"/><ellipse cx="1464.5" cy="722.3" rx="1.5" ry="2.1"/><ellipse cx="1489.6" cy="287.0" rx="1.2" ry="2.2"/><ellipse cx="1493.5" cy="379.8" rx="2.2" ry="3.9"/><ellipse cx="1494.8" cy="821.0" rx="1.7" ry="2.9"/><ellipse cx="1489.1" cy="254.3" rx="2.3" ry="4.0"/><ellipse cx="1489.1" cy="289.4" rx="2.3" ry="4.0"/><ellipse cx="1493.7" cy="470.8" rx="2.2" ry="4.3"/><ellipse cx="1487.4" cy="611.2" rx="1.5" ry="2.6"/><ellipse cx="1492.2" cy="701.9" rx="2.2" ry="3.7"/><ellipse cx="1503.9" cy="607.4" rx="1.3" ry="2.0"/><ellipse cx="1488.4" cy="804.9" rx="1.9" ry="3.1"/><ellipse cx="1490.1" cy="872.3" rx="2.2" ry="3.7"/><ellipse cx="1494.5" cy="854.3" rx="2.4" ry="4.9"/><ellipse cx="1479.8" cy="500.0" rx="1.8" ry="2.5"/><ellipse cx="1490.2" cy="387.8" rx="2.3" ry="4.5"/><ellipse cx="1486.9" cy="883.3" rx="1.5" ry="2.4"/><ellipse cx="1499.6" cy="329.2" rx="2.2" ry="4.4"/><ellipse cx="1497.6" cy="599.1" rx="2.2" ry="3.4"/><ellipse cx="1479.1" cy="323.8" rx="1.7" ry="2.7"/><ellipse cx="1497.2" cy="834.2" rx="1.6" ry="2.2"/><ellipse cx="1506.0" cy="394.7" rx="2.3" ry="4.5"/><ellipse cx="1507.2" cy="536.4" rx="1.3" ry="1.9"/><ellipse cx="1492.3" cy="634.9" rx="1.2" ry="2.0"/><ellipse cx="1499.2" cy="932.1" rx="2.3" ry="3.9"/><ellipse cx="1496.7" cy="617.6" rx="2.1" ry="3.2"/><ellipse cx="1481.1" cy="730.0" rx="2.5" ry="3.8"/><ellipse cx="1473.1" cy="442.9" rx="2.3" ry="3.7"/><ellipse cx="1496.9" cy="218.3" rx="2.0" ry="3.1"/><ellipse cx="1487.0" cy="521.8" rx="2.2" ry="3.7"/><ellipse cx="1479.9" cy="813.9" rx="2.2" ry="4.1"/><ellipse cx="1492.7" cy="227.5" rx="1.6" ry="2.6"/><ellipse cx="1496.8" cy="318.0" rx="1.9" ry="3.3"/><ellipse cx="1487.4" cy="517.0" rx="1.4" ry="2.1"/><ellipse cx="1528.0" cy="914.2" rx="1.9" ry="3.4"/><ellipse cx="1530.2" cy="839.0" rx="1.2" ry="2.2"/><ellipse cx="1517.1" cy="273.6" rx="1.8" ry="2.8"/><ellipse cx="1511.9" cy="673.6" rx="2.0" ry="2.7"/><ellipse cx="1527.5" cy="644.1" rx="1.7" ry="2.6"/><ellipse cx="1517.6" cy="864.1" rx="1.4" ry="2.4"/><ellipse cx="1505.0" cy="819.5" rx="1.6" ry="2.3"/><ellipse cx="1513.7" cy="617.1" rx="1.8" ry="3.1"/><ellipse cx="1527.7" cy="565.5" rx="1.6" ry="2.2"/><ellipse cx="1512.2" cy="409.1" rx="1.8" ry="2.5"/><ellipse cx="1507.9" cy="587.5" rx="1.2" ry="2.1"/><ellipse cx="1513.0" cy="462.0" rx="1.0" ry="1.9"/><ellipse cx="1526.0" cy="225.5" rx="1.3" ry="2.3"/><ellipse cx="1528.7" cy="630.2" rx="1.7" ry="2.7"/><ellipse cx="1518.9" cy="692.6" rx="1.6" ry="2.8"/><ellipse cx="1517.2" cy="947.0" rx="2.1" ry="3.5"/><ellipse cx="1522.1" cy="405.7" rx="1.4" ry="2.0"/><ellipse cx="1500.2" cy="356.2" rx="1.2" ry="2.2"/><ellipse cx="1510.5" cy="568.2" rx="2.3" ry="4.2"/><ellipse cx="1519.3" cy="862.0" rx="1.8" ry="2.7"/><ellipse cx="1523.4" cy="724.7" rx="1.6" ry="2.3"/><ellipse cx="1522.4" cy="784.2" rx="2.2" ry="3.2"/><ellipse cx="1511.7" cy="765.7" rx="2.5" ry="4.6"/><ellipse cx="1522.5" cy="293.1" rx="1.4" ry="2.4"/></g></g></g>
<path d="M658 873.5H809.5" stroke="#000" stroke-width="4.4" fill="none"/><path d="M658 863.25V883.75M809.5 863.25V883.75" stroke="#000" stroke-width="4.4" fill="none"/>
<text x="734.5" y="924.5" text-anchor="middle" class="bc" font-size="37">2 µm</text>
<path d="M1372 873.5H1524.5" stroke="#000" stroke-width="4.4" fill="none"/><path d="M1372 863.25V883.75M1524.5 863.25V883.75" stroke="#000" stroke-width="4.4" fill="none"/>
<text x="1449" y="924.5" text-anchor="middle" class="bc" font-size="37">2 µm</text>
<rect x="450.80" y="188.90" width="377.30" height="761.80" fill="none" stroke="#000" stroke-width="5.0"/>
<rect x="1164.50" y="189.00" width="377.80" height="761.30" fill="none" stroke="#000" stroke-width="5.0"/>
<rect x="846.9" y="186.4" width="52.39999999999998" height="766.8000000000001" fill="url(#cb)"/><rect x="849.40" y="188.90" width="47.40" height="761.80" fill="none" stroke="#000" stroke-width="5.0"/><path d="M898.3 188.7H914.3" stroke="#000" stroke-width="4.8"/><path d="M898.3 342.9H914.3" stroke="#000" stroke-width="4.8"/><path d="M898.3 451.8H914.3" stroke="#000" stroke-width="4.8"/><path d="M898.3 560H914.3" stroke="#000" stroke-width="4.8"/><path d="M898.3 669.3H914.3" stroke="#000" stroke-width="4.8"/><path d="M898.3 778.6H914.3" stroke="#000" stroke-width="4.8"/><path d="M898.3 887.6H914.3" stroke="#000" stroke-width="4.8"/><path d="M898.3 951H914.3" stroke="#000" stroke-width="4.8"/><text x="919" y="228" text-anchor="start" class="bc" font-size="37.4">134 nm</text><text x="990.5" y="380" text-anchor="end" class="bc" font-size="37.4">120</text><text x="990.5" y="489" text-anchor="end" class="bc" font-size="37.4">110</text><text x="990.5" y="597.5" text-anchor="end" class="bc" font-size="37.4">100</text><text x="990.5" y="707" text-anchor="end" class="bc" font-size="37.4">90</text><text x="990.5" y="816" text-anchor="end" class="bc" font-size="37.4">80</text><text x="990.5" y="940.7" text-anchor="end" class="bc" font-size="37.4">64</text>
<rect x="1561.7" y="186.5" width="51.899999999999864" height="766.3" fill="url(#cb)"/><rect x="1564.20" y="189.00" width="46.90" height="761.30" fill="none" stroke="#000" stroke-width="5.0"/><path d="M1612.6 188.5H1628.6" stroke="#000" stroke-width="4.8"/><path d="M1612.6 341H1628.6" stroke="#000" stroke-width="4.8"/><path d="M1612.6 463.5H1628.6" stroke="#000" stroke-width="4.8"/><path d="M1612.6 587H1628.6" stroke="#000" stroke-width="4.8"/><path d="M1612.6 710H1628.6" stroke="#000" stroke-width="4.8"/><path d="M1612.6 833H1628.6" stroke="#000" stroke-width="4.8"/><path d="M1612.6 951.3H1628.6" stroke="#000" stroke-width="4.8"/><text x="1633" y="228" text-anchor="start" class="bc" font-size="37.4">0.342 V</text><text x="1633" y="379" text-anchor="start" class="bc" font-size="37.4">0.330</text><text x="1633" y="501.5" text-anchor="start" class="bc" font-size="37.4">0.320</text><text x="1633" y="625" text-anchor="start" class="bc" font-size="37.4">0.310</text><text x="1633" y="748" text-anchor="start" class="bc" font-size="37.4">0.300</text><text x="1633" y="871" text-anchor="start" class="bc" font-size="37.4">0.290</text><text x="1633" y="941" text-anchor="start" class="bc" font-size="37.4">0.280</text>
<path d="M681.2 1153.6V1735.6M1029.5 1153.6V1735.6M1377.8 1153.6V1735.6M1726.1 1153.6V1735.6M499.6 1258.6H1807.2M499.6 1465.1H1807.2M499.6 1671.6H1807.2" stroke="#e4e4e4" stroke-width="1.6" fill="none"/>
<g clip-path="url(#pc)" fill="none" stroke-linejoin="miter" stroke-miterlimit="3"><polyline points="515.0,1274.1 619.8,1272.4 681.2,1324.3 724.7,1274.1 758.5,1277.1 786.0,1294.0 809.3,1181.0 829.5,1154.9 847.4,1198.4 863.3,1167.8 877.7,1184.7 890.9,1191.7 903.0,1175.6 914.2,1180.6 924.6,1176.4 934.4,1262.5 943.6,1200.4 952.2,1233.5 960.4,1263.3 968.1,1257.5 975.5,1239.3 982.6,1266.7 989.3,1255.9 995.7,1248.4 1001.9,1329.6 1007.8,1321.3 1013.5,1257.5 1019.0,1260.9 1024.4,1275.8 1029.5,1308.9 1034.4,1298.1 1039.2,1308.0 1043.9,1292.3 1048.4,1248.4 1052.8,1285.7 1057.1,1302.3 1061.2,1311.4 1065.2,1261.7 1069.2,1315.5 1073.0,1289.8 1076.7,1312.2 1080.4,1328.7 1083.9,1297.3 1087.4,1313.8 1090.8,1327.1 1094.1,1332.1 1097.4,1299.8 1100.6,1312.2 1103.7,1321.3 1106.8,1322.1 1109.7,1317.2 1112.7,1281.6 1115.6,1297.3 1118.4,1303.1 1121.2,1303.9 1123.9,1316.3 1126.6,1308.9 1129.2,1322.9 1131.8,1318.8 1134.3,1327.1 1136.8,1267.0 1139.3,1305.7 1141.7,1313.3 1144.1,1298.5 1146.4,1281.5 1148.7,1289.5 1151.0,1292.2 1153.3,1307.3 1155.5,1293.2 1157.6,1301.9 1159.8,1277.2 1161.9,1303.2 1164.0,1307.9 1166.1,1338.5 1168.1,1290.5 1170.1,1317.9 1172.1,1346.1 1174.0,1301.9 1175.9,1337.4 1177.8,1288.4 1179.7,1299.4 1181.6,1318.7 1183.4,1353.0 1185.2,1356.3 1187.0,1313.0 1188.8,1329.2 1190.5,1317.9 1192.3,1316.0 1194.0,1351.7 1195.7,1313.3 1197.3,1325.1 1199.0,1303.4 1200.6,1332.1 1202.2,1367.6 1203.8,1334.1 1205.4,1345.5 1207.0,1334.2 1208.5,1353.5 1210.1,1328.0 1211.6,1306.2 1213.1,1325.6 1214.6,1319.4 1216.1,1337.1 1217.5,1372.7 1219.0,1327.4 1220.4,1354.4 1221.8,1342.4 1223.2,1315.0 1224.6,1328.2 1226.0,1326.8 1227.4,1346.9 1228.7,1335.4 1230.1,1341.7 1231.4,1345.1 1232.7,1329.5 1234.1,1367.8 1235.3,1313.7 1236.6,1336.0 1237.9,1310.7 1239.2,1349.4 1240.4,1322.6 1241.7,1331.7 1242.9,1342.3 1244.1,1351.7 1245.4,1351.7 1246.6,1361.8 1247.8,1347.0 1248.9,1332.3 1250.1,1330.0 1251.3,1342.5 1252.4,1360.6 1253.6,1356.1 1254.7,1360.0 1255.9,1346.6 1257.0,1349.6 1258.1,1379.8 1259.2,1366.7 1260.3,1344.2 1261.4,1379.7 1262.5,1364.7 1263.6,1360.5 1264.6,1372.4 1265.7,1356.3 1266.8,1396.2 1267.8,1338.8 1268.8,1329.6 1269.9,1392.3 1270.9,1346.3 1271.9,1379.3 1272.9,1354.4 1273.9,1337.2 1274.9,1383.6 1275.9,1355.5 1276.9,1348.0 1277.9,1378.7 1278.9,1375.4 1279.8,1365.6 1280.8,1352.5 1281.7,1353.0 1282.7,1358.7 1283.6,1373.6 1284.6,1362.2 1285.5,1366.4 1286.4,1396.8 1287.3,1372.8 1288.3,1355.0 1289.2,1366.7 1290.1,1381.7 1291.0,1403.2 1291.9,1346.4 1292.8,1401.9 1293.6,1364.8 1294.5,1361.6 1295.4,1372.4 1296.3,1396.4 1297.1,1395.4 1298.0,1372.1 1298.8,1366.0 1299.7,1393.9 1300.5,1382.2 1301.3,1372.0 1302.2,1387.0 1303.0,1387.9 1303.8,1379.5 1304.7,1378.1 1305.5,1359.1 1306.3,1384.7 1307.1,1385.3 1307.9,1397.8 1308.7,1382.9 1309.5,1384.4 1310.3,1374.8 1311.1,1386.6 1311.8,1392.6 1312.6,1380.5 1313.4,1371.2 1314.2,1394.3 1314.9,1383.5 1315.7,1371.4 1316.4,1388.1 1317.2,1372.3 1318.0,1397.7 1318.7,1392.2 1319.4,1393.6 1320.2,1390.1 1320.9,1378.6 1321.7,1398.5 1322.4,1406.8 1323.1,1376.8 1323.8,1382.6 1324.5,1420.6 1325.3,1389.3 1326.0,1376.1 1326.7,1394.4 1327.4,1402.9 1328.1,1387.7 1328.8,1390.0 1329.5,1407.5 1330.2,1405.7 1330.9,1404.1 1331.6,1406.9 1332.2,1431.9 1332.9,1426.3 1333.6,1403.1 1334.3,1394.1 1334.9,1416.9 1335.6,1394.8 1336.3,1402.2 1336.9,1408.2 1337.6,1389.3 1338.2,1380.0 1338.9,1403.5 1339.6,1399.6 1340.2,1406.9 1340.8,1392.7 1341.5,1407.4 1342.1,1424.2 1342.8,1428.6 1343.4,1416.0 1344.0,1424.6 1344.7,1420.0 1345.3,1416.7 1345.9,1419.3 1346.5,1404.7 1347.1,1422.3 1347.8,1426.6 1348.4,1434.8 1349.0,1395.3 1349.6,1414.6 1350.2,1408.2 1350.8,1407.4 1351.4,1433.5 1352.0,1414.0 1352.6,1414.9 1353.2,1434.4 1353.8,1423.0 1354.4,1408.6 1355.0,1404.4 1355.6,1383.0 1356.1,1390.7 1356.7,1417.0 1357.3,1415.3 1357.9,1419.4 1358.4,1428.3 1359.0,1409.1 1359.6,1404.7 1360.2,1427.5 1360.7,1429.9 1361.3,1427.0 1361.8,1453.8 1362.4,1418.1 1363.0,1397.7 1363.5,1420.8 1364.1,1438.4 1364.6,1421.6 1365.2,1414.5 1365.7,1426.4 1366.3,1436.1 1366.8,1423.8 1367.3,1425.6 1367.9,1421.4 1368.4,1413.6 1369.0,1437.1 1369.5,1428.7 1370.0,1424.6 1370.6,1418.9 1371.1,1426.6 1371.6,1415.8 1372.1,1424.7 1372.7,1451.2 1373.2,1410.1 1373.7,1437.7 1374.2,1415.0 1374.7,1411.4 1375.2,1440.6 1375.8,1451.9 1376.3,1434.6 1376.8,1438.5 1377.3,1423.6 1377.8,1475.0 1378.3,1426.9 1378.8,1441.7 1379.3,1453.4 1379.8,1432.1 1380.3,1442.5 1380.8,1420.6 1381.3,1426.5 1381.8,1444.8 1382.3,1429.4 1382.7,1439.5 1383.2,1407.3 1383.7,1446.6 1384.2,1424.6 1384.7,1429.4 1385.2,1444.2 1385.6,1450.3 1386.1,1437.8 1386.6,1447.0 1387.1,1413.1 1387.5,1483.1 1388.0,1437.6 1388.5,1442.8 1389.0,1428.7 1389.4,1424.6 1389.9,1437.7 1390.4,1442.6 1390.8,1448.4 1391.3,1437.4 1391.7,1425.0 1392.2,1457.8 1392.7,1427.0 1393.1,1429.4 1393.6,1447.6 1394.0,1451.0 1394.5,1446.7 1394.9,1440.4 1395.4,1451.6 1395.8,1433.0 1396.3,1464.6 1396.7,1434.2 1397.2,1463.0 1397.6,1440.8 1398.0,1425.3 1398.5,1473.6 1398.9,1457.6 1399.4,1439.0 1399.8,1465.1 1400.2,1442.2 1400.7,1459.2 1401.1,1473.8 1401.5,1426.8 1402.0,1450.9 1402.4,1463.3 1402.8,1452.8 1403.2,1459.1 1403.7,1459.9 1404.1,1431.9 1404.5,1456.2 1404.9,1442.5 1405.4,1446.4 1405.8,1447.8 1406.2,1467.8 1406.6,1465.6 1407.0,1455.5 1407.4,1439.0 1407.9,1473.1 1408.3,1480.4 1408.7,1447.7 1409.1,1446.5 1409.5,1455.3 1409.9,1452.2 1410.3,1465.3 1410.7,1446.1 1411.1,1483.7 1411.5,1440.3 1411.9,1464.0 1412.3,1424.1 1412.7,1448.7 1413.1,1443.1 1413.5,1447.6 1413.9,1454.9 1414.3,1439.5 1414.7,1447.7 1415.1,1440.3 1415.5,1458.7 1415.9,1464.4 1416.3,1441.3 1416.7,1453.8 1417.1,1437.2 1417.5,1450.7 1417.9,1463.9 1418.2,1448.9 1418.6,1451.7 1419.0,1455.0 1419.4,1459.5 1419.8,1476.7 1420.2,1454.1 1420.5,1477.8 1420.9,1464.9 1421.3,1462.5 1421.7,1462.3 1422.1,1452.8 1422.4,1479.0 1422.8,1451.3 1423.2,1452.1 1423.5,1477.1 1423.9,1463.7 1424.3,1454.8 1424.7,1450.7 1425.0,1459.8 1425.4,1448.7 1425.8,1458.8 1426.1,1436.2 1426.5,1444.4 1426.9,1469.5 1427.2,1440.8 1427.6,1458.6 1428.0,1467.7 1428.3,1449.8 1428.7,1461.4 1429.0,1477.6 1429.4,1465.1 1429.8,1454.2 1430.1,1473.7 1430.5,1490.4 1430.8,1474.3 1431.2,1475.1 1431.5,1464.0 1431.9,1480.5 1432.2,1455.8 1432.6,1452.8 1432.9,1475.2 1433.3,1452.1 1433.6,1474.3 1434.0,1486.9 1434.3,1491.3 1434.7,1482.1 1435.0,1474.6 1435.4,1497.3 1435.7,1461.0 1436.1,1480.6 1436.4,1461.5 1436.7,1491.1 1437.1,1498.2 1437.4,1488.3 1437.8,1446.5 1438.1,1461.3 1438.4,1484.1 1438.8,1460.2 1439.1,1479.7 1439.4,1467.8 1439.8,1454.1 1440.1,1464.4 1440.5,1471.4 1440.8,1484.5 1441.1,1471.4 1441.4,1501.7 1441.8,1483.2 1442.1,1467.6 1442.4,1481.3 1442.8,1488.1 1443.1,1479.5 1443.4,1478.1 1443.7,1494.0 1444.1,1466.1 1444.4,1478.0 1444.7,1461.2 1445.0,1467.3 1445.4,1501.5 1445.7,1482.1 1446.0,1477.7 1446.3,1489.4 1446.7,1494.7 1447.0,1466.6 1447.3,1496.8 1447.6,1471.0 1447.9,1506.4 1448.2,1471.0 1448.6,1481.5 1448.9,1474.4 1449.2,1472.1 1449.5,1455.4 1449.8,1476.1 1450.1,1497.8 1450.4,1480.1 1450.8,1481.4 1451.1,1483.6 1451.4,1492.6 1451.7,1493.0 1452.0,1489.0 1452.3,1467.4 1452.6,1474.0 1452.9,1479.8 1453.2,1487.5 1453.5,1501.4 1453.8,1498.4 1454.1,1489.4 1454.4,1474.6 1454.7,1482.7 1455.1,1466.3 1455.4,1502.6 1455.7,1499.4 1456.0,1480.6 1456.3,1469.5 1456.6,1484.6 1456.9,1480.6 1457.2,1475.4 1457.5,1465.6 1457.7,1488.8 1458.0,1493.4 1458.3,1474.2 1458.6,1473.8 1458.9,1487.4 1459.2,1466.0 1459.5,1488.2 1459.8,1469.3 1460.1,1481.6 1460.4,1479.0 1460.7,1493.1 1461.0,1481.0 1461.3,1483.5 1461.6,1489.8 1461.9,1488.5 1462.1,1476.8 1462.4,1484.4 1462.7,1473.2 1463.0,1498.2 1463.3,1475.5 1463.6,1492.3 1463.9,1484.1 1464.2,1499.7 1464.4,1477.7 1464.7,1487.5 1465.0,1499.5 1465.3,1501.7 1465.6,1500.7 1465.9,1479.4 1466.1,1476.5 1466.4,1503.6 1466.7,1487.9 1467.0,1471.6 1467.3,1487.6 1467.5,1507.2 1467.8,1466.3 1468.1,1509.5 1468.4,1499.4 1468.6,1494.0 1468.9,1512.2 1469.2,1519.8 1469.5,1511.5 1469.7,1491.6 1470.0,1484.3 1470.3,1522.7 1470.6,1498.5 1470.8,1486.3 1471.1,1482.1 1471.4,1499.4 1471.7,1506.3 1471.9,1495.4 1472.2,1515.9 1472.5,1518.3 1472.7,1504.5 1473.0,1485.7 1473.3,1486.4 1473.5,1488.0 1473.8,1501.8 1474.1,1495.6 1474.3,1480.1 1474.6,1500.7 1474.9,1490.1 1475.1,1507.7 1475.4,1486.9 1475.7,1504.7 1475.9,1491.1 1476.2,1501.2 1476.5,1489.3 1476.7,1484.6 1477.0,1510.4 1477.2,1493.1 1477.5,1506.7 1477.8,1504.0 1478.0,1487.4 1478.3,1502.0 1478.5,1490.1 1478.8,1511.6 1479.1,1503.8 1479.3,1503.5 1479.6,1504.9 1479.8,1526.2 1480.1,1510.8 1480.3,1492.5 1480.6,1499.1 1480.9,1511.0 1481.1,1510.4 1481.4,1518.5 1481.6,1479.7 1481.9,1476.6 1482.1,1530.7 1482.4,1523.5 1482.6,1502.4 1482.9,1500.8 1483.1,1511.4 1483.4,1509.5 1483.6,1514.4 1483.9,1490.9 1484.1,1513.0 1484.4,1529.5 1484.6,1505.1 1484.9,1505.1 1485.1,1510.0 1485.4,1504.4 1485.6,1498.2 1485.9,1512.1 1486.1,1506.1 1486.4,1487.6 1486.6,1493.9 1486.9,1504.7 1487.1,1512.2 1487.3,1532.2 1487.6,1508.7 1487.8,1526.4 1488.1,1516.7 1488.3,1505.6 1488.6,1507.1 1488.8,1514.9 1489.0,1515.3 1489.3,1521.1 1489.5,1514.3 1489.8,1502.7 1490.0,1496.8 1490.3,1500.9 1490.5,1531.0 1490.7,1519.2 1491.0,1499.6 1491.2,1488.2 1491.4,1509.8 1491.7,1506.3 1491.9,1516.2 1492.2,1513.7 1492.4,1509.8 1492.6,1503.2 1492.9,1508.3 1493.1,1510.8 1493.3,1529.0 1493.6,1509.5 1493.8,1503.9 1494.0,1540.2 1494.3,1531.8 1494.5,1507.8 1494.7,1498.4 1495.0,1537.5 1495.2,1525.1 1495.4,1507.6 1495.7,1502.0 1495.9,1492.1 1496.1,1520.6 1496.4,1526.2 1496.6,1518.7 1496.8,1506.7 1497.0,1514.6 1497.3,1511.4 1497.5,1527.5 1497.7,1513.4 1498.0,1526.3 1498.2,1527.5 1498.4,1530.8 1498.6,1532.2 1498.9,1523.7 1499.1,1508.6 1499.3,1531.8 1499.5,1502.0 1499.8,1535.6 1500.2,1511.0 1500.7,1495.7 1500.9,1516.8 1501.3,1491.0 1501.6,1515.5 1501.8,1513.1 1502.2,1529.6 1502.5,1514.3 1502.7,1546.6 1503.3,1547.1 1503.6,1516.7 1503.8,1500.8 1504.2,1526.7 1504.4,1498.8 1504.9,1530.1 1505.1,1516.6 1505.5,1528.7 1505.7,1529.6 1505.9,1509.5 1506.4,1510.4 1506.8,1539.2 1507.0,1541.5 1507.2,1516.6 1507.7,1519.5 1508.1,1498.7 1508.5,1513.5 1508.7,1537.8 1508.9,1517.1 1509.2,1521.4 1509.8,1547.6 1510.0,1529.2 1510.4,1515.4 1510.6,1536.0 1510.8,1504.8 1511.3,1538.9 1511.7,1525.1 1511.9,1532.6 1512.1,1525.0 1512.3,1530.3 1512.9,1522.5 1513.1,1528.1 1513.5,1526.0 1513.7,1516.7 1513.9,1552.3 1514.4,1524.2 1514.6,1555.1 1515.0,1528.4 1515.4,1527.0 1515.6,1542.5 1515.8,1556.3 1516.2,1521.7 1516.6,1509.5 1516.8,1538.4 1517.2,1540.9 1517.4,1527.8 1517.6,1542.0 1518.0,1525.4 1518.2,1539.7 1518.4,1506.8 1518.8,1540.5 1519.0,1513.0 1519.4,1539.3 1519.8,1541.0 1520.0,1542.1 1520.2,1511.0 1520.6,1543.4 1521.0,1517.0 1521.3,1527.0 1521.5,1535.9 1521.9,1509.8 1522.1,1536.3 1522.3,1527.3 1522.7,1547.4 1523.1,1540.9 1523.3,1507.3 1523.5,1536.3 1523.7,1546.5 1524.1,1558.2 1524.2,1509.9 1524.6,1528.3 1524.8,1540.3 1525.2,1509.6 1525.4,1533.1 1525.8,1544.0 1526.0,1536.3 1526.5,1521.2 1526.7,1547.5 1526.9,1541.0 1527.1,1510.1 1527.5,1530.9 1527.8,1552.5 1528.0,1536.0 1528.4,1561.0 1528.6,1529.2 1529.0,1545.9 1529.3,1534.4 1529.5,1548.5 1529.7,1524.2 1529.9,1556.2 1530.2,1543.7 1530.4,1555.0 1530.8,1535.7 1531.0,1550.8 1531.3,1539.1 1531.7,1551.3 1532.1,1555.1 1532.3,1523.3 1532.6,1558.8 1532.8,1533.6 1533.0,1543.2 1533.2,1533.8 1533.5,1548.3 1533.9,1563.0 1534.2,1530.7 1534.4,1544.6 1534.6,1552.7 1535.0,1521.0 1535.3,1538.1 1535.5,1568.9 1535.8,1552.6 1536.0,1538.9 1536.2,1536.2 1536.4,1562.1 1536.7,1548.0 1536.9,1552.0 1537.4,1550.5 1537.6,1535.1 1538.0,1547.2 1538.1,1573.0 1538.3,1555.6 1538.5,1536.6 1539.0,1535.0 1539.2,1561.0 1539.5,1558.0 1539.7,1541.7 1540.0,1528.2 1540.2,1557.4 1540.4,1548.1 1540.7,1560.2 1541.1,1567.1 1541.2,1538.0 1541.4,1564.0 1541.8,1551.0 1541.9,1544.8 1542.1,1570.7 1542.6,1525.5 1542.8,1552.6 1543.1,1545.0 1543.3,1553.2 1543.6,1570.5 1543.8,1563.5 1544.1,1541.8 1544.3,1569.6 1544.6,1570.3 1544.8,1541.3 1545.1,1544.0 1545.3,1549.3 1545.6,1565.9 1545.8,1549.4 1546.0,1564.0 1546.3,1539.2 1546.5,1540.8 1546.8,1568.7 1547.0,1555.7 1547.3,1540.8 1547.6,1543.7 1547.8,1549.1 1547.9,1569.5 1548.1,1551.2 1548.4,1539.5 1548.8,1561.2 1548.9,1538.9 1549.2,1546.2 1549.4,1546.6 1549.7,1565.7 1549.9,1563.0 1550.2,1544.9 1550.4,1546.2 1550.7,1569.8 1550.9,1545.9 1551.2,1553.7 1551.3,1560.4 1551.5,1542.1 1552.0,1538.7 1552.1,1562.4 1552.3,1549.6 1552.5,1566.9 1552.8,1549.8 1553.1,1562.0 1553.3,1580.7 1553.6,1558.7 1553.7,1544.4 1554.0,1566.8 1554.2,1563.9 1554.4,1535.3 1554.7,1558.8 1554.8,1560.2 1555.3,1558.8 1555.4,1568.4 1555.8,1531.6 1555.9,1568.2 1556.1,1561.5 1556.2,1546.6 1556.7,1559.3 1556.8,1544.9 1557.0,1544.1 1557.3,1555.1 1557.5,1550.3 1557.6,1563.5 1557.9,1557.8 1558.1,1562.0 1558.4,1553.7 1558.5,1567.0 1558.8,1557.4 1559.1,1581.8 1559.4,1555.4 1559.6,1561.9 1559.9,1566.4 1560.1,1569.5 1560.2,1586.2 1560.5,1567.3 1560.8,1562.0 1561.0,1582.8 1561.1,1551.7 1561.3,1575.9 1561.9,1549.4 1562.2,1580.5 1562.4,1539.5 1562.6,1570.5 1562.9,1567.6 1563.0,1554.7 1563.8,1550.6 1563.9,1589.0 1564.4,1548.4 1564.5,1582.8 1565.0,1557.7 1565.1,1572.1 1565.4,1566.1 1565.7,1542.7 1566.0,1554.2 1566.1,1591.9 1566.7,1559.3 1566.8,1589.0 1567.1,1572.1 1567.3,1555.5 1567.7,1564.9 1568.0,1584.3 1568.3,1541.0 1568.6,1564.0 1568.7,1560.4 1568.9,1584.4 1569.3,1560.8 1569.4,1584.9 1569.9,1549.9 1570.0,1575.9 1570.4,1591.8 1570.7,1563.2 1571.0,1565.0 1571.1,1579.2 1571.5,1579.4 1572.0,1560.2 1572.1,1560.2 1572.5,1586.8 1572.9,1586.8 1573.1,1555.4 1573.4,1566.3 1573.6,1556.0 1574.0,1572.6 1574.2,1555.3 1574.6,1553.1 1574.7,1577.7 1575.1,1562.0 1575.3,1575.9 1575.5,1559.9 1575.8,1570.8 1576.0,1563.5 1576.1,1584.8 1576.5,1571.6 1576.8,1583.5 1577.0,1554.4 1577.3,1588.9 1577.7,1562.0 1577.9,1583.1 1578.1,1594.4 1578.4,1552.8 1578.7,1561.2 1579.1,1581.4 1579.2,1573.8 1579.5,1584.4 1579.9,1558.8 1580.0,1585.7 1580.2,1550.1 1580.6,1592.3 1580.9,1598.1 1581.2,1555.8 1581.3,1555.8 1581.4,1600.9 1582.0,1597.1 1582.2,1573.0 1582.4,1588.5 1582.5,1557.3 1582.9,1567.7 1583.0,1602.9 1583.5,1570.1 1583.8,1594.8 1583.9,1565.2 1584.3,1593.9 1584.6,1571.8 1584.8,1589.2 1585.1,1578.4 1585.2,1608.4 1585.6,1575.1 1585.8,1595.8 1586.1,1570.9 1586.3,1589.6 1586.7,1586.9 1586.8,1565.4 1587.0,1603.9 1587.1,1572.5 1587.6,1598.4 1587.9,1575.3 1588.0,1573.2 1588.4,1599.1 1588.5,1591.0 1588.6,1580.1 1589.2,1574.0 1589.4,1604.3 1589.5,1585.4 1589.6,1563.5 1590.0,1591.7 1590.4,1563.5 1590.6,1600.3 1590.8,1582.5 1591.1,1585.0 1591.3,1597.7 1591.7,1606.0 1591.8,1583.2 1592.2,1610.9 1592.3,1577.0 1592.4,1580.9 1592.7,1614.1 1592.9,1599.6 1593.3,1573.2 1593.7,1560.3 1593.8,1613.8 1593.9,1591.3 1594.3,1568.2 1594.4,1581.6 1594.5,1609.0 1595.1,1581.5 1595.2,1605.9 1595.5,1606.2 1595.7,1573.9 1595.8,1608.6 1595.9,1577.0 1596.5,1576.0 1596.6,1602.3 1596.9,1594.2 1597.1,1584.0 1597.5,1609.0 1597.6,1583.0 1597.7,1609.9 1597.9,1581.0 1598.2,1599.1 1598.4,1581.2 1598.7,1581.8 1598.8,1603.7 1599.1,1619.0 1599.4,1584.8 1599.7,1597.8 1599.8,1608.2 1600.2,1591.3 1600.3,1619.9 1600.6,1605.4 1600.9,1592.8 1601.1,1603.9 1601.2,1587.1 1601.4,1603.6 1601.7,1571.4 1601.9,1601.9 1602.2,1579.0 1602.5,1591.4 1602.6,1614.6 1602.8,1616.5 1602.9,1583.5 1603.4,1622.3 1603.6,1600.9 1603.9,1604.9 1604.1,1586.7 1604.4,1613.0 1604.5,1581.3 1605.0,1585.1 1605.1,1621.9 1605.4,1587.8 1605.6,1607.2 1605.9,1585.0 1606.2,1617.8 1606.4,1595.2 1606.5,1579.6 1607.2,1622.9 1607.3,1583.4 1607.4,1582.3 1607.6,1602.8 1608.0,1587.2 1608.4,1607.5 1608.5,1612.9 1608.8,1583.2 1609.4,1589.5 1609.5,1602.5 1609.6,1599.5 1610.0,1574.4 1610.3,1617.1 1610.4,1583.1 1610.7,1614.6 1610.8,1593.4 1611.3,1614.1 1611.4,1590.0 1612.1,1623.3 1612.2,1594.4 1612.3,1593.9 1612.7,1626.2 1612.8,1578.5 1613.3,1610.6 1613.5,1595.3 1613.7,1609.2 1613.9,1583.5 1614.0,1607.1 1614.6,1611.0 1614.8,1585.3 1615.1,1604.7 1615.2,1576.7 1615.5,1631.2 1615.9,1592.7 1616.1,1589.9 1616.4,1632.3 1616.6,1594.5 1616.7,1617.6 1617.1,1590.0 1617.5,1614.9 1617.6,1629.1 1617.8,1604.7 1618.2,1599.4 1618.5,1586.2 1618.7,1630.7 1618.8,1589.3 1619.1,1613.7 1619.4,1634.6 1619.9,1618.9 1620.0,1600.3 1620.3,1604.3 1620.4,1623.3 1620.6,1625.6 1620.7,1585.9 1621.2,1632.3 1621.5,1608.8 1621.8,1612.8 1622.0,1582.0 1622.2,1606.7 1622.5,1623.9 1622.6,1621.6 1623.0,1586.3 1623.1,1593.2 1623.3,1618.7 1623.6,1600.1 1623.8,1637.9 1624.3,1616.3 1624.4,1594.1 1624.6,1627.8 1624.9,1597.2 1625.4,1612.7 1625.5,1631.5 1625.8,1619.2 1626.0,1591.6 1626.4,1623.1 1626.5,1611.6 1626.7,1628.6 1626.9,1598.5 1627.4,1628.6 1627.5,1595.2 1627.6,1628.3 1627.7,1593.4 1628.0,1610.9 1628.4,1641.4 1628.7,1620.6 1628.9,1607.1 1629.3,1635.8 1629.4,1599.8 1629.7,1596.6 1629.8,1626.1 1630.0,1607.6 1630.3,1632.8 1630.4,1632.5 1630.5,1616.7 1631.0,1599.6 1631.2,1630.6 1631.5,1614.3 1631.7,1635.1 1632.1,1601.4 1632.2,1619.6 1632.5,1595.3 1632.7,1633.8 1632.8,1604.1 1633.2,1629.1 1633.4,1627.8 1633.6,1597.3 1633.8,1590.8 1633.9,1644.7 1634.2,1615.1 1634.3,1635.9 1634.7,1635.5 1634.8,1613.9 1635.1,1642.0 1635.3,1600.9 1635.6,1631.8 1635.9,1608.8 1636.1,1639.5 1636.3,1612.6 1636.7,1600.9 1636.7,1636.2 1637.0,1629.0 1637.3,1611.0 1637.4,1645.9 1637.7,1620.6 1637.9,1617.0 1638.0,1637.5 1638.3,1644.2 1638.6,1615.3 1639.0,1611.8 1639.1,1644.5 1639.4,1595.1 1639.6,1646.4 1639.9,1612.2 1640.3,1632.4 1640.7,1615.7 1640.8,1640.5 1641.0,1630.7 1641.1,1601.9 1641.6,1628.8 1641.8,1613.6 1642.0,1635.8 1642.4,1607.6 1642.5,1643.4 1642.6,1600.1 1643.2,1621.0 1643.4,1640.3 1643.9,1631.2 1644.0,1610.3 1644.1,1644.5 1644.3,1622.4 1644.6,1608.4 1645.1,1636.1 1645.2,1639.3 1645.5,1606.6 1645.7,1614.4 1645.9,1630.7 1646.3,1644.4 1646.6,1615.3 1646.8,1632.2 1647.0,1622.4 1647.3,1655.3 1647.5,1605.3 1647.9,1640.1 1648.0,1601.5 1648.3,1643.9 1648.4,1613.1 1648.8,1621.7 1649.0,1642.9 1649.3,1652.0 1649.5,1619.5 1649.8,1608.1 1650.1,1645.8 1650.2,1614.7 1650.6,1650.8 1650.7,1615.1 1650.9,1643.9 1651.2,1647.3 1651.4,1616.4 1651.7,1604.3 1652.1,1653.4 1652.5,1650.3 1652.6,1631.1 1652.8,1628.3 1653.0,1638.3 1653.3,1649.1 1653.4,1608.7 1653.8,1629.6 1653.9,1647.7 1654.3,1647.2 1654.3,1611.8 1654.7,1627.0 1654.8,1641.4 1655.2,1614.2 1655.6,1655.2 1655.8,1650.5 1656.0,1607.5 1656.1,1618.1 1656.5,1662.6 1656.7,1644.5 1656.9,1611.0 1657.1,1613.0 1657.5,1645.5 1657.5,1616.3 1657.9,1649.4 1658.2,1609.2 1658.3,1650.0 1658.7,1632.6 1658.8,1644.9 1659.0,1651.7 1659.3,1625.8 1659.4,1649.1 1659.8,1629.4 1660.0,1631.8 1660.3,1638.0 1660.4,1652.9 1660.5,1617.3 1660.9,1665.9 1661.0,1619.3 1661.6,1661.2 1661.7,1625.1 1661.8,1648.7 1662.0,1631.6 1662.2,1660.8 1662.4,1632.2 1662.8,1663.6 1662.8,1617.9 1663.2,1628.5 1663.5,1651.0 1663.8,1638.5 1663.9,1632.1 1664.2,1653.8 1664.3,1627.8 1664.5,1659.5 1664.7,1624.7 1665.1,1652.4 1665.4,1638.5 1665.6,1647.7 1665.8,1629.7 1665.9,1633.9 1666.0,1652.4 1666.7,1662.3 1666.8,1628.0 1667.1,1670.6 1667.4,1634.2 1667.8,1623.4 1667.9,1668.7 1668.3,1623.3 1668.4,1660.9 1668.8,1655.8 1668.9,1624.9 1669.0,1672.1 1669.1,1636.2 1669.7,1632.1 1669.8,1662.6 1670.2,1627.6 1670.5,1657.4 1670.6,1656.2 1670.7,1628.4 1671.1,1629.5 1671.3,1667.4 1671.6,1651.0 1671.7,1643.5 1672.3,1628.7 1672.5,1667.6 1672.6,1674.8 1673.0,1635.2 1673.4,1636.1 1673.5,1661.9 1673.7,1628.3 1673.8,1658.7 1674.2,1621.4 1674.3,1662.8 1674.8,1625.9 1674.9,1649.7 1675.2,1638.7 1675.3,1672.9 1675.8,1673.5 1675.9,1638.5 1676.1,1664.7 1676.3,1626.5 1676.7,1663.8 1676.9,1635.1 1677.0,1667.4 1677.1,1636.9 1677.5,1661.5 1677.6,1640.4 1678.3,1663.8 1678.4,1624.6 1678.5,1668.9 1678.6,1630.7 1679.2,1635.3 1679.3,1669.7 1679.5,1658.8 1679.6,1627.3 1679.9,1626.8 1680.0,1677.3 1680.5,1641.7 1680.8,1662.4 1680.9,1642.8 1681.3,1669.2 1681.7,1639.9 1681.8,1667.1 1682.0,1627.3 1682.0,1671.5 1682.4,1663.4 1682.6,1639.0 1682.9,1634.5 1683.0,1666.9 1683.4,1681.2 1683.6,1631.6 1683.7,1661.9 1683.8,1638.1 1684.2,1674.2 1684.5,1639.0 1684.8,1668.9 1685.0,1644.8 1685.1,1640.7 1685.4,1675.8 1685.6,1643.1 1685.8,1684.8 1686.3,1673.3 1686.3,1630.7 1686.5,1654.2 1686.8,1677.4 1686.9,1638.0 1687.2,1676.9 1687.4,1647.0 1687.7,1684.5 1688.1,1667.4 1688.2,1645.8 1688.5,1669.7 1688.6,1650.8 1688.9,1667.9 1689.1,1638.3 1689.4,1645.8 1689.5,1675.1 1689.7,1637.6 1690.2,1684.0 1690.4,1657.7 1690.6,1672.9 1690.9,1650.4 1691.2,1682.3 1691.6,1674.3 1691.7,1651.7 1691.9,1673.8 1692.1,1643.7 1692.4,1635.3 1692.6,1676.0 1692.8,1654.4 1693.1,1682.0 1693.3,1645.9 1693.6,1690.9 1693.8,1681.0 1694.0,1657.0 1694.4,1654.0 1694.5,1691.5 1695.0,1679.3 1695.2,1637.5 1695.5,1637.7 1695.6,1692.4 1695.9,1692.1 1696.2,1645.5 1696.3,1692.5 1696.6,1646.0 1697.0,1678.7 1697.0,1640.1 1697.4,1648.0 1697.7,1686.6 1698.0,1645.6 1698.1,1680.0 1698.3,1659.0 1698.4,1684.0 1698.7,1690.1 1699.0,1655.7 1699.2,1672.5 1699.5,1659.0 1699.7,1682.6 1699.8,1641.0 1700.1,1655.9 1700.2,1677.0 1701.0,1692.1 1701.0,1641.9 1701.1,1685.6 1701.3,1657.4 1701.6,1659.1 1702.0,1675.9 1702.1,1692.2 1702.1,1665.0 1702.6,1688.1 1702.9,1663.5 1703.2,1673.4 1703.4,1656.1 1703.6,1646.8 1703.9,1698.7 1704.0,1649.9 1704.3,1685.2 1704.4,1695.3 1704.5,1653.8 1705.1,1655.2 1705.2,1684.0 1705.4,1699.9 1705.5,1666.6 1705.8,1687.6 1705.9,1656.4 1706.2,1700.6 1706.5,1656.8 1706.7,1685.2 1707.0,1657.3 1707.1,1686.9 1707.2,1646.7 1707.7,1663.8 1707.9,1689.6 1708.2,1663.6 1708.4,1687.6 1708.6,1647.8 1708.9,1687.0 1709.1,1694.9 1709.3,1660.2 1709.4,1691.4 1709.5,1662.5 1710.1,1650.6 1710.2,1692.6 1710.7,1655.7 1710.8,1698.5 1710.9,1656.8 1711.4,1698.1 1711.6,1654.9 1711.8,1697.5 1712.2,1696.7 1712.3,1667.7 1712.8,1672.0 1712.9,1699.7 1713.3,1653.2 1713.4,1692.3 1713.7,1667.8 1713.9,1694.5 1713.9,1691.7 1714.2,1652.9 1714.6,1666.8 1714.8,1692.3 1715.2,1658.6 1715.3,1707.6 1715.4,1706.3 1715.6,1666.8 1716.1,1666.0 1716.2,1697.4 1716.5,1699.2 1716.6,1668.8 1717.0,1654.3 1717.2,1709.1 1717.6,1665.3 1717.7,1696.9 1718.0,1667.5 1718.1,1709.8 1718.3,1706.0 1718.6,1673.4 1719.1,1705.0 1719.2,1662.8 1719.3,1697.8 1719.6,1675.0 1719.7,1666.5 1720.0,1690.7 1720.3,1705.9 1720.5,1665.6 1720.7,1657.1 1721.0,1712.0 1721.3,1700.7 1721.4,1662.3 1721.6,1670.7 1722.0,1707.9 1722.1,1706.3 1722.4,1668.4 1722.7,1710.9 1722.9,1677.0 1723.1,1707.8 1723.2,1664.2 1723.6,1672.3 1723.8,1714.2 1724.1,1711.0 1724.1,1668.2 1724.5,1668.8 1724.6,1705.5 1725.1,1705.8 1725.2,1660.6 1725.3,1707.7 1725.7,1675.0 1726.0,1685.0 1726.1,1708.8 1726.2,1676.9 1726.5,1692.1 1726.6,1716.3 1726.8,1663.2 1727.2,1666.3 1727.2,1708.9 1727.8,1704.1 1727.9,1662.7 1728.2,1670.9 1728.2,1717.5 1728.8,1701.3 1728.9,1674.7 1729.2,1673.2 1729.4,1712.8 1729.8,1711.6 1729.8,1678.8 1730.1,1708.4 1730.4,1678.2 1730.7,1706.8 1730.8,1678.5 1731.2,1676.1 1731.4,1719.8 1731.6,1713.4 1731.9,1677.0 1732.0,1665.6 1732.2,1720.4 1732.5,1678.7 1732.7,1699.2 1733.1,1680.8 1733.2,1705.8 1733.6,1677.5 1733.7,1705.6 1734.0,1690.4 1734.2,1710.7 1734.4,1707.2 1734.5,1692.4 1735.1,1679.8 1735.3,1719.4 1735.6,1680.9 1735.7,1710.4 1735.9,1713.3 1736.0,1685.5 1736.3,1687.0 1736.6,1716.3 1737.0,1686.0 1737.2,1710.1 1737.3,1674.3 1737.3,1710.7 1737.9,1718.9 1738.0,1686.3 1738.2,1683.0 1738.5,1717.9 1738.9,1716.0 1739.0,1670.7 1739.2,1725.4 1739.3,1680.7 1739.6,1680.4 1739.7,1717.4 1740.2,1671.5 1740.2,1717.3 1740.5,1713.2 1740.8,1675.4 1740.9,1710.6 1741.2,1676.4 1741.5,1680.6 1741.7,1716.7 1742.0,1708.9 1742.0,1677.3 1742.5,1681.1 1742.6,1717.7 1742.7,1673.4 1743.0,1714.4 1743.2,1691.0 1743.4,1725.9 1743.8,1688.7 1744.0,1716.4 1744.4,1729.2 1744.5,1683.9 1744.7,1681.7 1744.9,1722.8 1745.3,1717.2 1745.5,1682.7 1745.7,1679.7 1745.8,1722.2 1746.3,1676.0 1746.4,1719.2 1746.8,1685.4 1746.9,1726.8 1747.3,1685.0 1747.5,1720.5 1747.6,1731.5 1747.7,1676.9 1748.1,1686.3 1748.1,1711.5 1748.8,1692.6 1748.9,1725.7 1749.3,1678.1 1749.4,1732.8 1749.5,1684.0 1749.8,1719.5 1750.0,1684.7 1750.3,1717.6 1750.8,1690.2 1750.9,1723.3 1751.2,1734.1 1751.2,1684.0 1751.6,1689.8 1751.7,1728.3 1751.9,1734.7 1752.3,1690.9 1752.4,1718.9 1752.4,1680.4 1753.1,1688.2 1753.2,1726.2 1753.2,1721.0 1753.7,1689.0 1753.8,1691.6 1754.0,1714.9 1754.3,1724.3 1754.6,1682.9 1754.7,1684.1 1755.0,1728.1 1755.1,1726.5 1755.4,1691.5 1755.7,1725.0 1755.9,1687.9 1756.2,1733.4 1756.4,1690.8 1756.5,1729.9 1756.8,1684.6 1757.0,1683.7 1757.1,1724.4 1757.5,1689.6 1757.6,1738.8 1758.0,1702.6 1758.1,1724.0 1758.5,1690.5 1758.7,1732.4 1759.1,1734.6 1759.1,1696.1 1759.4,1688.6 1759.7,1740.3 1760.0,1732.8 1760.1,1700.0 1760.3,1736.3 1760.7,1700.2 1761.0,1700.9 1761.2,1727.8 1761.6,1694.5 1761.6,1734.3 1761.7,1736.3 1762.1,1700.6 1762.4,1734.2 1762.6,1702.0 1762.7,1704.1 1763.1,1727.2 1763.3,1736.1 1763.4,1700.9 1763.7,1738.3 1763.8,1688.6 1764.2,1743.5 1764.3,1694.9 1764.6,1730.1 1765.0,1695.9 1765.3,1737.2 1765.3,1704.7 1765.5,1696.5 1765.6,1741.8 1766.1,1744.9 1766.3,1694.1 1766.5,1739.6 1766.7,1696.2 1767.0,1700.3 1767.2,1727.4 1767.3,1698.1 1767.5,1740.9 1768.0,1691.7 1768.1,1733.6 1768.2,1745.3 1768.4,1703.7 1768.8,1696.2 1769.0,1737.7 1769.3,1743.7 1769.4,1707.0 1769.6,1702.2 1769.6,1732.6 1770.1,1743.7 1770.1,1693.2 1770.6,1740.7 1770.7,1709.0 1771.3,1709.0 1771.4,1738.4 1771.5,1706.6 1771.5,1748.8 1772.0,1749.2 1772.3,1697.0 1772.5,1702.0 1772.8,1746.7 1772.9,1703.8 1773.1,1750.0 1773.7,1707.4 1773.8,1740.5 1774.0,1748.7 1774.2,1704.7 1774.3,1706.1 1774.7,1738.9 1774.9,1716.1 1775.2,1745.5 1775.3,1751.6 1775.5,1700.6 1775.7,1743.0 1775.9,1705.3 1776.2,1708.0 1776.6,1735.2 1776.8,1740.2 1776.9,1702.5 1777.3,1703.9 1777.4,1748.9 1777.7,1742.7 1778.0,1708.9 1778.2,1699.0 1778.4,1751.2 1778.6,1741.5 1778.8,1705.2 1779.3,1746.9 1779.4,1713.1 1779.7,1741.1 1779.9,1714.8 1779.9,1700.3 1780.2,1747.9 1780.5,1716.4 1780.7,1748.7 1780.9,1709.5 1781.1,1751.1 1781.6,1713.9 1781.7,1756.2 1781.8,1740.6 1781.8,1701.7 1782.3,1748.9 1782.4,1705.6 1782.7,1720.0 1782.8,1751.7 1783.4,1741.1 1783.5,1716.2 1783.6,1737.4 1784.0,1703.2 1784.1,1714.0 1784.3,1748.6 1784.8,1712.1 1784.9,1746.3 1785.1,1705.7 1785.1,1739.7 1785.9,1751.6 1785.9,1716.4 1786.1,1750.7 1786.2,1713.3 1786.7,1744.1 1786.8,1708.0 1787.2,1719.9 1787.3,1755.1 1787.5,1706.6 1787.8,1751.7 1788.0,1713.4 1788.2,1751.4 1788.5,1722.8 1788.6,1759.9 1788.9,1757.9 1789.1,1712.7 1789.5,1717.8 1789.6,1759.7 1790.0,1753.8 1790.1,1710.6 1790.2,1720.8 1790.2,1749.4 1790.7,1712.3 1790.8,1749.0 1791.4,1749.8 1791.5,1719.0 1791.7,1759.2 1791.9,1708.9 1792.2,1755.4 1792.4,1718.2 1792.5,1728.2 1792.7,1764.2 1793.0,1750.0 1793.1,1716.0 1793.6,1762.0 1793.8,1710.3 1794.0,1718.9 1794.2,1765.2 1794.5,1716.3 1794.7,1752.7 1794.8,1759.7 1795.0,1715.7 1795.4,1761.8 1795.7,1723.7 1796.1,1752.8 1796.1,1715.7 1796.3,1721.9 1796.4,1766.9 1796.9,1712.6 1797.0,1754.1 1797.4,1767.6 1797.6,1725.2 1797.9,1767.8 1798.0,1721.2 1798.3,1757.7 1798.5,1717.5 1798.6,1756.7 1798.8,1714.0 1799.3,1762.8 1799.3,1720.5 1799.6,1723.1 1800.0,1769.4 1800.1,1769.5 1800.3,1724.6 1800.5,1769.8 1800.6,1731.2 1801.1,1725.9 1801.3,1762.5 1801.5,1769.6 1801.6,1720.4 1802.0,1762.8 1802.1,1725.4 1802.3,1729.0 1802.4,1771.2 1803.0,1720.7 1803.1,1764.5 1803.5,1759.9 1803.6,1717.4 1803.7,1723.2 1804.1,1758.0 1804.4,1730.7 1804.5,1761.0 1804.8,1721.2 1805.0,1756.7 1805.0,1725.8 1805.2,1763.9 1805.6,1762.0 1805.9,1726.5 1806.0,1727.4 1806.4,1759.2 1806.5,1719.5 1806.8,1762.3 1807.0,1760.8 1807.1,1724.3" stroke="#808080" stroke-width="3.9"/><polyline points="499.6,1237.5 502.6,1237.5 505.6,1237.5 508.6,1237.5 511.6,1237.5 514.6,1237.5 517.6,1237.5 520.6,1237.5 523.6,1237.5 526.6,1237.5 529.6,1237.5 532.6,1237.5 535.6,1237.5 538.6,1237.5 541.6,1237.5 544.6,1237.5 547.6,1237.6 550.6,1237.6 553.6,1237.6 556.6,1237.6 559.6,1237.6 562.6,1237.6 565.6,1237.6 568.6,1237.6 571.6,1237.6 574.6,1237.6 577.6,1237.6 580.6,1237.6 583.6,1237.6 586.6,1237.6 589.6,1237.6 592.6,1237.6 595.6,1237.6 598.6,1237.6 601.6,1237.6 604.6,1237.6 607.6,1237.6 610.6,1237.6 613.6,1237.6 616.6,1237.6 619.6,1237.6 622.6,1237.6 625.6,1237.6 628.6,1237.6 631.6,1237.6 634.6,1237.6 637.6,1237.6 640.6,1237.6 643.6,1237.6 646.6,1237.6 649.6,1237.6 652.6,1237.6 655.6,1237.6 658.6,1237.6 661.6,1237.6 664.6,1237.6 667.6,1237.7 670.6,1237.7 673.6,1237.7 676.6,1237.7 679.6,1237.7 682.6,1237.7 685.6,1237.7 688.6,1237.7 691.6,1237.7 694.6,1237.7 697.6,1237.7 700.6,1237.7 703.6,1237.7 706.6,1237.7 709.6,1237.7 712.6,1237.8 715.6,1237.8 718.6,1237.8 721.6,1237.8 724.6,1237.8 727.6,1237.8 730.6,1237.8 733.6,1237.8 736.6,1237.8 739.6,1237.9 742.6,1237.9 745.6,1237.9 748.6,1237.9 751.6,1237.9 754.6,1237.9 757.6,1237.9 760.6,1238.0 763.6,1238.0 766.6,1238.0 769.6,1238.0 772.6,1238.0 775.6,1238.1 778.6,1238.1 781.6,1238.1 784.6,1238.1 787.6,1238.1 790.6,1238.2 793.6,1238.2 796.6,1238.2 799.6,1238.3 802.6,1238.3 805.6,1238.3 808.6,1238.3 811.6,1238.4 814.6,1238.4 817.6,1238.4 820.6,1238.5 823.6,1238.5 826.6,1238.6 829.6,1238.6 832.6,1238.6 835.6,1238.7 838.6,1238.7 841.6,1238.8 844.6,1238.8 847.6,1238.9 850.6,1238.9 853.6,1239.0 856.6,1239.1 859.6,1239.1 862.6,1239.2 865.6,1239.3 868.6,1239.3 871.6,1239.4 874.6,1239.5 877.6,1239.5 880.6,1239.6 883.6,1239.7 886.6,1239.8 889.6,1239.9 892.6,1240.0 895.6,1240.1 898.6,1240.2 901.6,1240.3 904.6,1240.4 907.6,1240.5 910.6,1240.6 913.6,1240.7 916.6,1240.9 919.6,1241.0 922.6,1241.1 925.6,1241.3 928.6,1241.4 931.6,1241.6 934.6,1241.7 937.6,1241.9 940.6,1242.1 943.6,1242.2 946.6,1242.4 949.6,1242.6 952.6,1242.8 955.6,1243.0 958.6,1243.2 961.6,1243.4 964.6,1243.7 967.6,1243.9 970.6,1244.1 973.6,1244.4 976.6,1244.7 979.6,1244.9 982.6,1245.2 985.6,1245.5 988.6,1245.8 991.6,1246.1 994.6,1246.4 997.6,1246.8 1000.6,1247.1 1003.6,1247.5 1006.6,1247.8 1009.6,1248.2 1012.6,1248.6 1015.6,1249.0 1018.6,1249.4 1021.6,1249.8 1024.6,1250.3 1027.6,1250.7 1030.6,1251.2 1033.6,1251.7 1036.6,1252.2 1039.6,1252.7 1042.6,1253.3 1045.6,1253.8 1048.6,1254.4 1051.6,1255.0 1054.6,1255.6 1057.6,1256.2 1060.6,1256.8 1063.6,1257.5 1066.6,1258.1 1069.6,1258.8 1072.6,1259.5 1075.6,1260.3 1078.6,1261.0 1081.6,1261.8 1084.6,1262.6 1087.6,1263.4 1090.6,1264.2 1093.6,1265.1 1096.6,1265.9 1099.6,1266.8 1102.6,1267.7 1105.6,1268.7 1108.6,1269.6 1111.6,1270.6 1114.6,1271.6 1117.6,1272.6 1120.6,1273.6 1123.6,1274.7 1126.6,1275.8 1129.6,1276.9 1132.6,1278.0 1135.6,1279.2 1138.6,1280.3 1141.6,1281.5 1144.6,1282.7 1147.6,1283.9 1150.6,1285.2 1153.6,1286.5 1156.6,1287.8 1159.6,1289.1 1162.6,1290.4 1165.6,1291.8 1168.6,1293.1 1171.6,1294.5 1174.6,1296.0 1177.6,1297.4 1180.6,1298.8 1183.6,1300.3 1186.6,1301.8 1189.6,1303.3 1192.6,1304.8 1195.6,1306.4 1198.6,1308.0 1201.6,1309.5 1204.6,1311.1 1207.6,1312.7 1210.6,1314.4 1213.6,1316.0 1216.6,1317.7 1219.6,1319.4 1222.6,1321.1 1225.6,1322.8 1228.6,1324.5 1231.6,1326.2 1234.6,1328.0 1237.6,1329.7 1240.6,1331.5 1243.6,1333.3 1246.6,1335.1 1249.6,1336.9 1252.6,1338.7 1255.6,1340.6 1258.6,1342.4 1261.6,1344.3 1264.6,1346.1 1267.6,1348.0 1270.6,1349.9 1273.6,1351.8 1276.6,1353.7 1279.6,1355.6 1282.6,1357.5 1285.6,1359.5 1288.6,1361.4 1291.6,1363.4 1294.6,1365.3 1297.6,1367.3 1300.6,1369.3 1303.6,1371.2 1306.6,1373.2 1309.6,1375.2 1312.6,1377.2 1315.6,1379.2 1318.6,1381.2 1321.6,1383.3 1324.6,1385.3 1327.6,1387.3 1330.6,1389.3 1333.6,1391.4 1336.6,1393.4 1339.6,1395.5 1342.6,1397.5 1345.6,1399.6 1348.6,1401.6 1351.6,1403.7 1354.6,1405.8 1357.6,1407.8 1360.6,1409.9 1363.6,1412.0 1366.6,1414.1 1369.6,1416.2 1372.6,1418.3 1375.6,1420.4 1378.6,1422.5 1381.6,1424.6 1384.6,1426.7 1387.6,1428.8 1390.6,1430.9 1393.6,1433.0 1396.6,1435.1 1399.6,1437.2 1402.6,1439.3 1405.6,1441.4 1408.6,1443.6 1411.6,1445.7 1414.6,1447.8 1417.6,1449.9 1420.6,1452.1 1423.6,1454.2 1426.6,1456.3 1429.6,1458.5 1432.6,1460.6 1435.6,1462.7 1438.6,1464.9 1441.6,1467.0 1444.6,1469.1 1447.6,1471.3 1450.6,1473.4 1453.6,1475.6 1456.6,1477.7 1459.6,1479.9 1462.6,1482.0 1465.6,1484.1 1468.6,1486.3 1471.6,1488.4 1474.6,1490.6 1477.6,1492.7 1480.6,1494.9 1483.6,1497.0 1486.6,1499.2 1489.6,1501.4 1492.6,1503.5 1495.6,1505.7 1498.6,1507.8 1501.6,1510.0 1504.6,1512.1 1507.6,1514.3 1510.6,1516.4 1513.6,1518.6 1516.6,1520.8 1519.6,1522.9 1522.6,1525.1 1525.6,1527.2 1528.6,1529.4 1531.6,1531.6 1534.6,1533.7 1537.6,1535.9 1540.6,1538.1 1543.6,1540.2 1546.6,1542.4 1549.6,1544.5 1552.6,1546.7 1555.6,1548.9 1558.6,1551.0 1561.6,1553.2 1564.6,1555.4 1567.6,1557.5 1570.6,1559.7 1573.6,1561.9 1576.6,1564.0 1579.6,1566.2 1582.6,1568.4 1585.6,1570.5 1588.6,1572.7 1591.6,1574.9 1594.6,1577.0 1597.6,1579.2 1600.6,1581.4 1603.6,1583.5 1606.6,1585.7 1609.6,1587.9 1612.6,1590.0 1615.6,1592.2 1618.6,1594.4 1621.6,1596.5 1624.6,1598.7 1627.6,1600.9 1630.6,1603.0 1633.6,1605.2 1636.6,1607.4 1639.6,1609.6 1642.6,1611.7 1645.6,1613.9 1648.6,1616.1 1651.6,1618.2 1654.6,1620.4 1657.6,1622.6 1660.6,1624.7 1663.6,1626.9 1666.6,1629.1 1669.6,1631.3 1672.6,1633.4 1675.6,1635.6 1678.6,1637.8 1681.6,1639.9 1684.6,1642.1 1687.6,1644.3 1690.6,1646.4 1693.6,1648.6 1696.6,1650.8 1699.6,1653.0 1702.6,1655.1 1705.6,1657.3 1708.6,1659.5 1711.6,1661.6 1714.6,1663.8 1717.6,1666.0 1720.6,1668.2 1723.6,1670.3 1726.6,1672.5 1729.6,1674.7 1732.6,1676.8 1735.6,1679.0 1738.6,1681.2 1741.6,1683.3 1744.6,1685.5 1747.6,1687.7 1750.6,1689.9 1753.6,1692.0 1756.6,1694.2 1759.6,1696.4 1762.6,1698.5 1765.6,1700.7 1768.6,1702.9 1771.6,1705.1 1774.6,1707.2 1777.6,1709.4 1780.6,1711.6 1783.6,1713.7 1786.6,1715.9 1789.6,1718.1 1792.6,1720.3 1795.6,1722.4 1798.6,1724.6 1801.6,1726.8 1804.6,1728.9" stroke="#000" stroke-width="4.0" stroke-dasharray="12.4 13.2" stroke-dashoffset="2.3"/><polyline points="1134.9,1305.6 1239.2,1334.6 1299.5,1374.3 1344.0,1401.6 1377.8,1422.3 1400.0,1436.1 1428.4,1464.6 1444.3,1469.6 1463.7,1482.8 1481.9,1492.3 1500.0,1508.9 1509.1,1513.5 1521.6,1516.4 1544.4,1529.4 1559.2,1551.0 1579.6,1570.3 1586.4,1569.2 1616.0,1594.2 1636.5,1605.5 1643.3,1618.0 1647.8,1615.8 1668.3,1635.1 1672.9,1634.0 1688.8,1651.0 1697.9,1655.6 1709.0,1667.0 1716.0,1673.8 1722.9,1672.5 1734.2,1686.3 1741.1,1687.0 1751.0,1695.5 1756.0,1697.6 1764.0,1698.6 1768.3,1699.9 1779.0,1706.0 1786.5,1711.3 1794.0,1714.5 1802.5,1720.4 1807.0,1722.6" stroke="#000" stroke-width="4.0"/></g>
<path d="M542.6 1735.6v-6.5M542.6 1153.6v6.5M576.4 1735.6v-6.5M576.4 1153.6v6.5M603.9 1735.6v-6.5M603.9 1153.6v6.5M627.2 1735.6v-6.5M627.2 1153.6v6.5M647.4 1735.6v-6.5M647.4 1153.6v6.5M665.3 1735.6v-6.5M665.3 1153.6v6.5M681.2 1735.6v-13M681.2 1153.6v13M786.0 1735.6v-6.5M786.0 1153.6v6.5M847.4 1735.6v-6.5M847.4 1153.6v6.5M890.9 1735.6v-6.5M890.9 1153.6v6.5M924.7 1735.6v-6.5M924.7 1153.6v6.5M952.2 1735.6v-6.5M952.2 1153.6v6.5M975.5 1735.6v-6.5M975.5 1153.6v6.5M995.7 1735.6v-6.5M995.7 1153.6v6.5M1013.6 1735.6v-6.5M1013.6 1153.6v6.5M1029.5 1735.6v-13M1029.5 1153.6v13M1134.3 1735.6v-6.5M1134.3 1153.6v6.5M1195.7 1735.6v-6.5M1195.7 1153.6v6.5M1239.2 1735.6v-6.5M1239.2 1153.6v6.5M1273.0 1735.6v-6.5M1273.0 1153.6v6.5M1300.5 1735.6v-6.5M1300.5 1153.6v6.5M1323.8 1735.6v-6.5M1323.8 1153.6v6.5M1344.0 1735.6v-6.5M1344.0 1153.6v6.5M1361.9 1735.6v-6.5M1361.9 1153.6v6.5M1377.8 1735.6v-13M1377.8 1153.6v13M1482.6 1735.6v-6.5M1482.6 1153.6v6.5M1544.0 1735.6v-6.5M1544.0 1153.6v6.5M1587.5 1735.6v-6.5M1587.5 1153.6v6.5M1621.3 1735.6v-6.5M1621.3 1153.6v6.5M1648.8 1735.6v-6.5M1648.8 1153.6v6.5M1672.1 1735.6v-6.5M1672.1 1153.6v6.5M1692.3 1735.6v-6.5M1692.3 1153.6v6.5M1710.2 1735.6v-6.5M1710.2 1153.6v6.5M1726.1 1735.6v-13M1726.1 1153.6v13M499.6 1725.6h6.5M1807.2 1725.6h-6.5M499.6 1712.7h6.5M1807.2 1712.7h-6.5M499.6 1702.7h6.5M1807.2 1702.7h-6.5M499.6 1694.5h6.5M1807.2 1694.5h-6.5M499.6 1687.6h6.5M1807.2 1687.6h-6.5M499.6 1681.6h6.5M1807.2 1681.6h-6.5M499.6 1676.3h6.5M1807.2 1676.3h-6.5M499.6 1671.6h13M1807.2 1671.6h-13M499.6 1640.5h6.5M1807.2 1640.5h-6.5M499.6 1622.3h6.5M1807.2 1622.3h-6.5M499.6 1609.4h6.5M1807.2 1609.4h-6.5M499.6 1599.4h6.5M1807.2 1599.4h-6.5M499.6 1591.3h6.5M1807.2 1591.3h-6.5M499.6 1584.3h6.5M1807.2 1584.3h-6.5M499.6 1578.4h6.5M1807.2 1578.4h-6.5M499.6 1573.1h6.5M1807.2 1573.1h-6.5M499.6 1568.3h6.5M1807.2 1568.3h-6.5M499.6 1537.3h6.5M1807.2 1537.3h-6.5M499.6 1519.1h6.5M1807.2 1519.1h-6.5M499.6 1506.2h6.5M1807.2 1506.2h-6.5M499.6 1496.2h6.5M1807.2 1496.2h-6.5M499.6 1488.0h6.5M1807.2 1488.0h-6.5M499.6 1481.1h6.5M1807.2 1481.1h-6.5M499.6 1475.1h6.5M1807.2 1475.1h-6.5M499.6 1469.8h6.5M1807.2 1469.8h-6.5M499.6 1465.1h13M1807.2 1465.1h-13M499.6 1434.0h6.5M1807.2 1434.0h-6.5M499.6 1415.8h6.5M1807.2 1415.8h-6.5M499.6 1402.9h6.5M1807.2 1402.9h-6.5M499.6 1392.9h6.5M1807.2 1392.9h-6.5M499.6 1384.8h6.5M1807.2 1384.8h-6.5M499.6 1377.8h6.5M1807.2 1377.8h-6.5M499.6 1371.9h6.5M1807.2 1371.9h-6.5M499.6 1366.6h6.5M1807.2 1366.6h-6.5M499.6 1361.8h6.5M1807.2 1361.8h-6.5M499.6 1330.8h6.5M1807.2 1330.8h-6.5M499.6 1312.6h6.5M1807.2 1312.6h-6.5M499.6 1299.7h6.5M1807.2 1299.7h-6.5M499.6 1289.7h6.5M1807.2 1289.7h-6.5M499.6 1281.5h6.5M1807.2 1281.5h-6.5M499.6 1274.6h6.5M1807.2 1274.6h-6.5M499.6 1268.6h6.5M1807.2 1268.6h-6.5M499.6 1263.3h6.5M1807.2 1263.3h-6.5M499.6 1258.6h13M1807.2 1258.6h-13M499.6 1227.5h6.5M1807.2 1227.5h-6.5M499.6 1209.3h6.5M1807.2 1209.3h-6.5M499.6 1196.4h6.5M1807.2 1196.4h-6.5M499.6 1186.4h6.5M1807.2 1186.4h-6.5M499.6 1178.3h6.5M1807.2 1178.3h-6.5M499.6 1171.3h6.5M1807.2 1171.3h-6.5M499.6 1165.4h6.5M1807.2 1165.4h-6.5M499.6 1160.1h6.5M1807.2 1160.1h-6.5M499.6 1155.3h6.5M1807.2 1155.3h-6.5" stroke="#666" stroke-width="1.7" fill="none"/>
<rect x="499.6" y="1153.6" width="1307.6" height="582.0" fill="none" stroke="#666" stroke-width="2.4"/>
<text transform="translate(679.6 1794.5) scale(0.955 1)" text-anchor="middle" class="ax" font-size="38.5">10<tspan dy="-18" font-size="30.8">-5</tspan></text>
<text transform="translate(1027.9 1794.5) scale(0.955 1)" text-anchor="middle" class="ax" font-size="38.5">10<tspan dy="-18" font-size="30.8">-4</tspan></text>
<text transform="translate(1376.2 1794.5) scale(0.955 1)" text-anchor="middle" class="ax" font-size="38.5">10<tspan dy="-18" font-size="30.8">-3</tspan></text>
<text transform="translate(1724.5 1794.5) scale(0.955 1)" text-anchor="middle" class="ax" font-size="38.5">10<tspan dy="-18" font-size="30.8">-2</tspan></text>
<text transform="translate(486.6 1279.2) scale(0.955 1)" text-anchor="end" class="ax" font-size="38.5">10<tspan dy="-18.5" font-size="30.8">6</tspan></text>
<text transform="translate(486.6 1485.7) scale(0.955 1)" text-anchor="end" class="ax" font-size="38.5">10<tspan dy="-18.5" font-size="30.8">4</tspan></text>
<text transform="translate(486.6 1692.2) scale(0.955 1)" text-anchor="end" class="ax" font-size="38.5">10<tspan dy="-18.5" font-size="30.8">2</tspan></text>
<text x="947.5" y="1853" class="ax" font-size="38.5">Spatial frequency [nm<tspan dy="-18.5" font-size="30.8">-1</tspan><tspan dy="18.5">]</tspan></text>
<text transform="translate(412.9 1571) rotate(-90)" class="ax" font-size="38.5">1-D PSD [nm<tspan dy="-18.5" font-size="30.8">3</tspan><tspan dy="18.5">]</tspan></text>
<rect x="1448.9" y="1173.7" width="337.5" height="128" rx="2" fill="#fff" stroke="#666" stroke-width="2.2"/>
<path d="M1455.5 1197H1519.5" stroke="#808080" stroke-width="4.3"/>
<path d="M1455.5 1238.6H1519.5" stroke="#000" stroke-width="4.3"/>
<path d="M1455.3 1277.9H1519.7" stroke="#000" stroke-width="4.3" stroke-dasharray="13.3 12.4"/>
<text x="1524.5" y="1209.5" class="ax" font-size="34.8">1143, y-direction</text>
<text x="1524.5" y="1250.5" class="ax" font-size="34.8">1143, x-direction</text>
<text x="1524.5" y="1290.5" class="ax" font-size="34.8">Fit</text>
<text x="11.5" y="46.2" class="pl">a</text>
<text x="406.5" y="133.6" class="pl">b</text>
<text x="385.5" y="1126.6" class="pl">c</text>
</svg>
</body></html>
